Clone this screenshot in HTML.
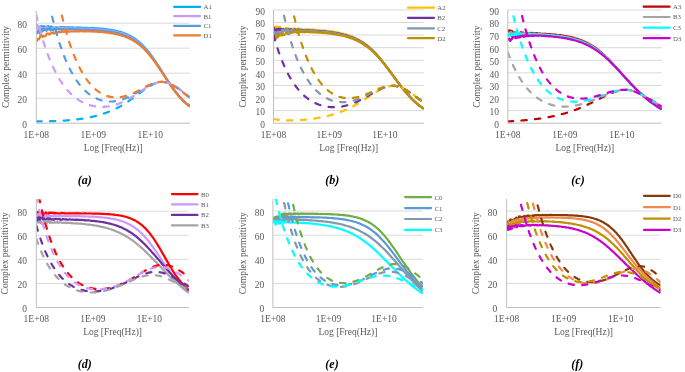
<!DOCTYPE html><html><head><meta charset="utf-8"><style>html,body{margin:0;padding:0;background:#fff;width:685px;height:372px;overflow:hidden}svg{display:block;will-change:transform;filter:blur(0.4px)}text{font-family:"Liberation Serif", serif}</style></head><body>
<svg width="685" height="372" viewBox="0 0 685 372">
<line x1="36.3" y1="98.20" x2="190.0" y2="98.20" stroke="#D9D9D9" stroke-width="1"/>
<line x1="36.3" y1="73.20" x2="190.0" y2="73.20" stroke="#D9D9D9" stroke-width="1"/>
<line x1="36.3" y1="48.20" x2="190.0" y2="48.20" stroke="#D9D9D9" stroke-width="1"/>
<line x1="36.3" y1="23.20" x2="190.0" y2="23.20" stroke="#D9D9D9" stroke-width="1"/>
<clipPath id="clipa"><rect x="36.30" y="10.70" width="153.70" height="112.50"/></clipPath>
<g clip-path="url(#clipa)">
<path d="M36.3 29.5L37.0 25.2L37.7 25.8L38.4 28.6L39.0 27.3L39.7 27.5L40.4 26.6L41.1 26.0L41.8 29.0L42.5 29.2L43.1 26.0L43.8 27.5L44.5 26.4L45.2 28.9L45.9 27.5L46.6 26.6L47.2 28.1L47.9 26.1L48.6 26.2L49.3 28.5L50.0 28.4L50.7 27.2L51.3 26.4L52.0 27.6L52.7 27.9L53.4 27.5L54.1 28.2L54.8 27.8L55.4 27.4L56.1 27.3L56.8 27.7L57.5 27.7L58.2 27.7L58.9 27.4L59.5 27.6L60.2 27.9L60.9 27.0L61.6 27.3L62.3 27.2L63.0 27.7L63.6 27.0L64.3 27.1L65.0 27.7L65.7 27.6L66.4 27.3L67.1 27.3L67.7 27.2L68.4 27.5L69.1 27.3L69.8 27.4L70.5 27.6L71.2 27.5L71.8 27.3L72.5 27.3L73.2 27.5L73.9 27.5L74.6 27.8L75.3 27.7L75.9 27.5L76.2 27.6L77.3 27.7L78.4 27.6L79.6 27.6L80.7 27.6L81.9 27.8L83.0 27.8L84.1 27.8L85.3 27.8L86.4 27.9L87.6 27.9L88.7 28.0L89.8 28.1L91.0 28.1L92.1 28.1L93.2 28.1L94.4 28.2L95.5 28.3L96.7 28.4L97.8 28.4L98.9 28.5L100.1 28.6L101.2 28.7L102.4 28.8L103.5 28.9L104.6 29.1L105.8 29.2L106.9 29.3L108.1 29.5L109.2 29.6L110.3 29.8L111.5 30.0L112.6 30.2L113.7 30.4L114.9 30.6L116.0 30.9L117.2 31.1L118.3 31.4L119.4 31.7L120.6 32.0L121.7 32.4L122.9 32.8L124.0 33.2L125.1 33.6L126.3 34.1L127.4 34.6L128.6 35.1L129.7 35.7L130.8 36.3L132.0 36.9L133.1 37.6L134.2 38.3L135.4 39.1L136.5 39.9L137.7 40.8L138.8 41.7L139.9 42.7L141.1 43.7L142.2 44.8L143.4 46.0L144.5 47.2L145.6 48.4L146.8 49.7L147.9 51.1L149.1 52.5L150.2 54.0L151.3 55.5L152.5 57.1L153.6 58.7L154.8 60.4L155.9 62.1L157.0 63.8L158.2 65.6L159.3 67.3L160.4 69.1L161.6 71.0L162.7 72.8L163.9 74.6L165.0 76.4L166.1 78.2L167.3 79.9L168.4 81.7L169.6 83.4L170.7 85.1L171.8 86.7L173.0 88.3L174.1 89.9L175.3 91.4L176.4 92.8L177.5 94.2L178.7 95.6L179.8 96.9L180.9 98.1L182.1 99.3L183.2 100.4L184.4 101.4L185.5 102.5L186.6 103.4L187.8 104.3L188.9 105.2L190.0 105.9" fill="none" stroke="#00B0F0" stroke-width="2.2" stroke-linejoin="round"/>
<path d="M36.3 25.3L37.0 25.5L37.7 30.7L38.4 30.4L39.0 26.4L39.7 27.0L40.4 27.4L41.1 29.0L41.8 27.7L42.5 27.8L43.1 27.9L43.8 29.5L44.5 28.4L45.2 28.6L45.9 27.5L46.6 26.7L47.2 26.9L47.9 28.1L48.6 28.4L49.3 28.8L50.0 29.3L50.7 29.3L51.3 28.3L52.0 28.6L52.7 28.5L53.4 27.5L54.1 28.2L54.8 28.2L55.4 28.7L56.1 29.0L56.8 28.5L57.5 28.8L58.2 28.3L58.9 27.6L59.5 28.1L60.2 28.7L60.9 27.9L61.6 28.0L62.3 28.1L63.0 27.9L63.6 28.1L64.3 28.1L65.0 28.5L65.7 28.0L66.4 28.0L67.1 28.6L67.7 28.2L68.4 28.3L69.1 28.4L69.8 28.4L70.5 28.4L71.2 28.2L71.8 28.4L72.5 28.3L73.2 28.5L73.9 28.3L74.6 28.3L75.3 28.5L75.9 28.5L76.2 28.4L77.3 28.5L78.4 28.6L79.6 28.7L80.7 28.7L81.9 28.6L83.0 28.8L84.1 28.6L85.3 28.8L86.4 28.7L87.6 28.9L88.7 28.8L89.8 28.9L91.0 29.0L92.1 29.1L93.2 29.1L94.4 29.2L95.5 29.3L96.7 29.4L97.8 29.4L98.9 29.5L100.1 29.6L101.2 29.7L102.4 29.8L103.5 29.9L104.6 30.0L105.8 30.2L106.9 30.3L108.1 30.5L109.2 30.6L110.3 30.8L111.5 31.0L112.6 31.1L113.7 31.4L114.9 31.6L116.0 31.8L117.2 32.1L118.3 32.4L119.4 32.7L120.6 33.0L121.7 33.3L122.9 33.7L124.0 34.1L125.1 34.5L126.3 35.0L127.4 35.5L128.6 36.0L129.7 36.6L130.8 37.2L132.0 37.8L133.1 38.5L134.2 39.2L135.4 39.9L136.5 40.8L137.7 41.6L138.8 42.5L139.9 43.5L141.1 44.5L142.2 45.6L143.4 46.7L144.5 47.9L145.6 49.1L146.8 50.4L147.9 51.7L149.1 53.1L150.2 54.6L151.3 56.0L152.5 57.6L153.6 59.2L154.8 60.8L155.9 62.5L157.0 64.2L158.2 65.9L159.3 67.6L160.4 69.4L161.6 71.2L162.7 73.0L163.9 74.8L165.0 76.6L166.1 78.3L167.3 80.1L168.4 81.8L169.6 83.5L170.7 85.2L171.8 86.8L173.0 88.4L174.1 90.0L175.3 91.5L176.4 92.9L177.5 94.3L178.7 95.7L179.8 97.0L180.9 98.2L182.1 99.4L183.2 100.5L184.4 101.6L185.5 102.6L186.6 103.6L187.8 104.5L188.9 105.4L190.0 106.2" fill="none" stroke="#CC99FF" stroke-width="2.2" stroke-linejoin="round"/>
<path d="M36.3 34.5L37.0 32.2L37.7 32.8L38.4 31.2L39.0 30.8L39.7 33.3L40.4 33.2L41.1 29.2L41.8 31.6L42.5 31.5L43.1 28.3L43.8 30.2L44.5 28.8L45.2 30.0L45.9 29.4L46.6 30.8L47.2 29.3L47.9 28.6L48.6 29.5L49.3 28.9L50.0 29.1L50.7 30.5L51.3 28.9L52.0 29.2L52.7 29.8L53.4 30.3L54.1 28.7L54.8 29.4L55.4 29.0L56.1 28.7L56.8 29.0L57.5 28.7L58.2 29.4L58.9 28.9L59.5 29.4L60.2 28.8L60.9 28.9L61.6 29.7L62.3 29.7L63.0 29.6L63.6 28.9L64.3 29.4L65.0 29.2L65.7 29.5L66.4 29.3L67.1 29.4L67.7 29.4L68.4 29.3L69.1 29.3L69.8 29.1L70.5 29.3L71.2 29.2L71.8 29.2L72.5 29.2L73.2 29.3L73.9 29.6L74.6 29.3L75.3 29.3L75.9 29.3L76.2 29.5L77.3 29.4L78.4 29.6L79.6 29.5L80.7 29.6L81.9 29.7L83.0 29.8L84.1 29.6L85.3 29.6L86.4 29.8L87.6 29.8L88.7 29.9L89.8 30.0L91.0 30.0L92.1 30.0L93.2 30.0L94.4 30.2L95.5 30.2L96.7 30.3L97.8 30.4L98.9 30.5L100.1 30.5L101.2 30.6L102.4 30.8L103.5 30.8L104.6 31.0L105.8 31.1L106.9 31.3L108.1 31.4L109.2 31.6L110.3 31.7L111.5 31.9L112.6 32.1L113.7 32.3L114.9 32.5L116.0 32.8L117.2 33.0L118.3 33.3L119.4 33.6L120.6 34.0L121.7 34.3L122.9 34.7L124.0 35.1L125.1 35.5L126.3 35.9L127.4 36.4L128.6 36.9L129.7 37.5L130.8 38.1L132.0 38.7L133.1 39.3L134.2 40.0L135.4 40.8L136.5 41.6L137.7 42.4L138.8 43.3L139.9 44.2L141.1 45.2L142.2 46.3L143.4 47.4L144.5 48.5L145.6 49.7L146.8 51.0L147.9 52.3L149.1 53.7L150.2 55.1L151.3 56.5L152.5 58.1L153.6 59.6L154.8 61.2L155.9 62.8L157.0 64.5L158.2 66.2L159.3 67.9L160.4 69.7L161.6 71.4L162.7 73.2L163.9 75.0L165.0 76.7L166.1 78.5L167.3 80.2L168.4 81.9L169.6 83.6L170.7 85.3L171.8 86.9L173.0 88.5L174.1 90.1L175.3 91.6L176.4 93.0L177.5 94.4L178.7 95.8L179.8 97.1L180.9 98.3L182.1 99.5L183.2 100.7L184.4 101.8L185.5 102.8L186.6 103.8L187.8 104.7L188.9 105.6L190.0 106.4" fill="none" stroke="#5B9BD5" stroke-width="2.2" stroke-linejoin="round"/>
<path d="M36.3 40.4L37.0 40.6L37.7 38.8L38.4 39.4L39.0 39.4L39.7 37.7L40.4 35.4L41.1 35.6L41.8 35.4L42.5 37.0L43.1 35.7L43.8 36.2L44.5 36.2L45.2 36.1L45.9 35.6L46.6 33.6L47.2 33.7L47.9 33.6L48.6 33.5L49.3 34.6L50.0 34.1L50.7 33.4L51.3 33.1L52.0 32.8L52.7 32.6L53.4 33.7L54.1 32.8L54.8 32.6L55.4 32.7L56.1 33.1L56.8 32.6L57.5 32.9L58.2 31.9L58.9 31.9L59.5 32.2L60.2 32.3L60.9 31.7L61.6 31.9L62.3 31.6L63.0 31.6L63.6 31.8L64.3 31.8L65.0 31.7L65.7 31.7L66.4 31.8L67.1 31.7L67.7 31.4L68.4 31.8L69.1 31.7L69.8 31.4L70.5 31.5L71.2 31.4L71.8 31.4L72.5 31.4L73.2 31.2L73.9 31.4L74.6 31.3L75.3 31.4L75.9 31.2L76.2 31.4L77.3 31.3L78.4 31.2L79.6 31.3L80.7 31.2L81.9 31.2L83.0 31.3L84.1 31.4L85.3 31.3L86.4 31.3L87.6 31.3L88.7 31.4L89.8 31.4L91.0 31.5L92.1 31.5L93.2 31.6L94.4 31.6L95.5 31.6L96.7 31.7L97.8 31.8L98.9 31.8L100.1 32.0L101.2 32.0L102.4 32.1L103.5 32.2L104.6 32.4L105.8 32.5L106.9 32.6L108.1 32.7L109.2 32.9L110.3 33.1L111.5 33.3L112.6 33.5L113.7 33.7L114.9 33.9L116.0 34.1L117.2 34.4L118.3 34.6L119.4 34.9L120.6 35.2L121.7 35.6L122.9 35.9L124.0 36.3L125.1 36.7L126.3 37.2L127.4 37.6L128.6 38.1L129.7 38.7L130.8 39.2L132.0 39.8L133.1 40.5L134.2 41.2L135.4 41.9L136.5 42.7L137.7 43.5L138.8 44.3L139.9 45.3L141.1 46.2L142.2 47.2L143.4 48.3L144.5 49.4L145.6 50.6L146.8 51.8L147.9 53.1L149.1 54.4L150.2 55.8L151.3 57.2L152.5 58.7L153.6 60.2L154.8 61.7L155.9 63.3L157.0 65.0L158.2 66.6L159.3 68.3L160.4 70.0L161.6 71.7L162.7 73.4L163.9 75.2L165.0 76.9L166.1 78.6L167.3 80.4L168.4 82.1L169.6 83.7L170.7 85.4L171.8 87.0L173.0 88.6L174.1 90.2L175.3 91.7L176.4 93.1L177.5 94.6L178.7 95.9L179.8 97.2L180.9 98.5L182.1 99.7L183.2 100.9L184.4 102.0L185.5 103.0L186.6 104.0L187.8 105.0L188.9 105.9L190.0 106.7" fill="none" stroke="#ED7D31" stroke-width="2.2" stroke-linejoin="round"/>
<path d="M36.3 121.4L36.9 121.4L37.4 121.4L38.0 121.4L38.6 121.4L39.1 121.4L39.7 121.4L40.3 121.4L40.9 121.4L41.4 121.4L42.0 121.4L42.6 121.4L43.1 121.4L43.7 121.4L44.3 121.4L44.8 121.4L45.4 121.4L46.0 121.3L46.6 121.3L47.1 121.3L47.7 121.3L48.3 121.3L48.8 121.3L49.4 121.3L50.0 121.3L50.5 121.2L51.1 121.2L51.7 121.2L52.2 121.2L52.8 121.2L53.4 121.2L54.0 121.1L54.5 121.1L55.1 121.1L55.7 121.1L56.2 121.0L56.8 121.0L57.4 121.0L57.9 121.0L58.5 120.9L59.1 120.9L59.6 120.9L60.2 120.8L60.8 120.8L61.4 120.8L61.9 120.7L62.5 120.7L63.1 120.7L63.6 120.6L64.2 120.6L64.8 120.6L65.3 120.5L65.9 120.5L66.5 120.4L67.1 120.4L67.6 120.3L68.2 120.3L68.8 120.2L69.3 120.2L69.9 120.1L70.5 120.1L71.0 120.0L71.6 120.0L72.2 119.9L72.7 119.9L73.3 119.8L73.9 119.7L74.5 119.7L75.0 119.6L75.6 119.5L76.2 119.5L76.7 119.4L77.3 119.3L77.9 119.3L78.4 119.2L79.0 119.1L79.6 119.0L80.1 119.0L80.7 118.9L81.3 118.8L81.9 118.7L82.4 118.6L83.0 118.5L83.6 118.4L84.1 118.3L84.7 118.3L85.3 118.2L85.8 118.1L86.4 118.0L87.0 117.9L87.6 117.7L88.1 117.6L88.7 117.5L89.3 117.4L89.8 117.3L90.4 117.2L91.0 117.1L91.5 116.9L92.1 116.8L92.7 116.7L93.2 116.6L93.8 116.4L94.4 116.3L95.0 116.2L95.5 116.0L96.1 115.9L96.7 115.7L97.2 115.6L97.8 115.4L98.4 115.3L98.9 115.1L99.5 114.9L100.1 114.8L100.7 114.6L101.2 114.4L101.8 114.3L102.4 114.1L102.9 113.9L103.5 113.7L104.1 113.5L104.6 113.3L105.2 113.1L105.8 112.9L106.3 112.7L106.9 112.5L107.5 112.3L108.1 112.1L108.6 111.8L109.2 111.6L109.8 111.4L110.3 111.2L110.9 110.9L111.5 110.7L112.0 110.4L112.6 110.2L113.2 109.9L113.7 109.7L114.3 109.4L114.9 109.1L115.5 108.8L116.0 108.6L116.6 108.3L117.2 108.0L117.7 107.7L118.3 107.4L118.9 107.1L119.4 106.8L120.0 106.5L120.6 106.2L121.2 105.8L121.7 105.5L122.3 105.2L122.9 104.8L123.4 104.5L124.0 104.2L124.6 103.8L125.1 103.4L125.7 103.1L126.3 102.7L126.8 102.3L127.4 102.0L128.0 101.6L128.6 101.2L129.1 100.8L129.7 100.4L130.3 100.0L130.8 99.6L131.4 99.2L132.0 98.8L132.5 98.4L133.1 98.0L133.7 97.6L134.2 97.2L134.8 96.8L135.4 96.3L136.0 95.9L136.5 95.5L137.1 95.1L137.7 94.6L138.2 94.2L138.8 93.8L139.4 93.4L139.9 92.9L140.5 92.5L141.1 92.1L141.7 91.7L142.2 91.2L142.8 90.8L143.4 90.4L143.9 90.0L144.5 89.6L145.1 89.2L145.6 88.8L146.2 88.4L146.8 88.0L147.3 87.7L147.9 87.3L148.5 86.9L149.1 86.6L149.6 86.2L150.2 85.9L150.8 85.6L151.3 85.3L151.9 84.9L152.5 84.7L153.0 84.4L153.6 84.1L154.2 83.9L154.8 83.6L155.3 83.4L155.9 83.2L156.5 83.0L157.0 82.8L157.6 82.7L158.2 82.5L158.7 82.4L159.3 82.3L159.9 82.2L160.4 82.1L161.0 82.0L161.6 82.0L162.2 82.0L162.7 82.0L163.3 82.0L163.9 82.0L164.4 82.0L165.0 82.1L165.6 82.2L166.1 82.3L166.7 82.4L167.3 82.6L167.8 82.7L168.4 82.9L169.0 83.1L169.6 83.3L170.1 83.6L170.7 83.8L171.3 84.1L171.8 84.4L172.4 84.6L173.0 85.0L173.5 85.3L174.1 85.6L174.7 86.0L175.3 86.3L175.8 86.7L176.4 87.0L177.0 87.4L177.5 87.8L178.1 88.2L178.7 88.6L179.2 89.1L179.8 89.5L180.4 89.9L180.9 90.3L181.5 90.8L182.1 91.2L182.7 91.7L183.2 92.1L183.8 92.6L184.4 93.0L184.9 93.5L185.5 93.9L186.1 94.4L186.6 94.8L187.2 95.3L187.8 95.7L188.4 96.2L188.9 96.6L189.5 97.0L190.0 97.4" fill="none" stroke="#00B0F0" stroke-width="2.2" stroke-dasharray="5.4 8.3" stroke-linecap="round" stroke-linejoin="round"/>
<path d="M36.3 14.9L36.9 17.3L37.4 19.7L38.0 22.0L38.6 24.3L39.1 26.5L39.7 28.6L40.3 30.8L40.9 32.8L41.4 34.8L42.0 36.8L42.6 38.7L43.1 40.6L43.7 42.4L44.3 44.2L44.8 46.0L45.4 47.7L46.0 49.4L46.6 51.0L47.1 52.6L47.7 54.1L48.3 55.7L48.8 57.1L49.4 58.6L50.0 60.0L50.5 61.4L51.1 62.7L51.7 64.0L52.2 65.3L52.8 66.6L53.4 67.8L54.0 69.0L54.5 70.2L55.1 71.3L55.7 72.4L56.2 73.5L56.8 74.6L57.4 75.6L57.9 76.6L58.5 77.6L59.1 78.5L59.6 79.5L60.2 80.4L60.8 81.3L61.4 82.1L61.9 83.0L62.5 83.8L63.1 84.6L63.6 85.4L64.2 86.2L64.8 86.9L65.3 87.6L65.9 88.3L66.5 89.0L67.1 89.7L67.6 90.4L68.2 91.0L68.8 91.6L69.3 92.2L69.9 92.8L70.5 93.4L71.0 93.9L71.6 94.5L72.2 95.0L72.7 95.5L73.3 96.0L73.9 96.5L74.5 97.0L75.0 97.4L75.6 97.8L76.2 98.3L76.7 98.7L77.3 99.1L77.9 99.5L78.4 99.9L79.0 100.2L79.6 100.6L80.1 100.9L80.7 101.3L81.3 101.6L81.9 101.9L82.4 102.2L83.0 102.5L83.6 102.8L84.1 103.0L84.7 103.3L85.3 103.5L85.8 103.8L86.4 104.0L87.0 104.2L87.6 104.4L88.1 104.6L88.7 104.8L89.3 105.0L89.8 105.2L90.4 105.3L91.0 105.5L91.5 105.6L92.1 105.8L92.7 105.9L93.2 106.0L93.8 106.1L94.4 106.2L95.0 106.3L95.5 106.4L96.1 106.5L96.7 106.6L97.2 106.6L97.8 106.7L98.4 106.7L98.9 106.8L99.5 106.8L100.1 106.8L100.7 106.8L101.2 106.8L101.8 106.9L102.4 106.8L102.9 106.8L103.5 106.8L104.1 106.8L104.6 106.8L105.2 106.7L105.8 106.7L106.3 106.6L106.9 106.5L107.5 106.5L108.1 106.4L108.6 106.3L109.2 106.2L109.8 106.1L110.3 106.0L110.9 105.9L111.5 105.8L112.0 105.6L112.6 105.5L113.2 105.4L113.7 105.2L114.3 105.1L114.9 104.9L115.5 104.7L116.0 104.6L116.6 104.4L117.2 104.2L117.7 104.0L118.3 103.8L118.9 103.6L119.4 103.4L120.0 103.1L120.6 102.9L121.2 102.7L121.7 102.4L122.3 102.2L122.9 101.9L123.4 101.6L124.0 101.4L124.6 101.1L125.1 100.8L125.7 100.5L126.3 100.2L126.8 99.9L127.4 99.6L128.0 99.3L128.6 99.0L129.1 98.7L129.7 98.3L130.3 98.0L130.8 97.7L131.4 97.3L132.0 97.0L132.5 96.6L133.1 96.3L133.7 95.9L134.2 95.6L134.8 95.2L135.4 94.8L136.0 94.5L136.5 94.1L137.1 93.7L137.7 93.3L138.2 92.9L138.8 92.6L139.4 92.2L139.9 91.8L140.5 91.4L141.1 91.0L141.7 90.7L142.2 90.3L142.8 89.9L143.4 89.5L143.9 89.2L144.5 88.8L145.1 88.4L145.6 88.1L146.2 87.7L146.8 87.4L147.3 87.0L147.9 86.7L148.5 86.3L149.1 86.0L149.6 85.7L150.2 85.4L150.8 85.1L151.3 84.8L151.9 84.6L152.5 84.3L153.0 84.0L153.6 83.8L154.2 83.6L154.8 83.4L155.3 83.2L155.9 83.0L156.5 82.8L157.0 82.6L157.6 82.5L158.2 82.4L158.7 82.3L159.3 82.2L159.9 82.1L160.4 82.0L161.0 82.0L161.6 82.0L162.2 81.9L162.7 81.9L163.3 82.0L163.9 82.0L164.4 82.1L165.0 82.2L165.6 82.3L166.1 82.4L166.7 82.5L167.3 82.7L167.8 82.8L168.4 83.0L169.0 83.2L169.6 83.5L170.1 83.7L170.7 84.0L171.3 84.2L171.8 84.5L172.4 84.8L173.0 85.1L173.5 85.5L174.1 85.8L174.7 86.1L175.3 86.5L175.8 86.9L176.4 87.2L177.0 87.6L177.5 88.0L178.1 88.4L178.7 88.8L179.2 89.3L179.8 89.7L180.4 90.1L180.9 90.5L181.5 91.0L182.1 91.4L182.7 91.9L183.2 92.3L183.8 92.8L184.4 93.2L184.9 93.7L185.5 94.1L186.1 94.6L186.6 95.0L187.2 95.5L187.8 95.9L188.4 96.3L188.9 96.8L189.5 97.2L190.0 97.6" fill="none" stroke="#CC99FF" stroke-width="2.2" stroke-dasharray="5.4 8.3" stroke-linecap="round" stroke-linejoin="round"/>
<path d="M46.6 -10.1L47.1 -7.1L47.7 -4.2L48.3 -1.4L48.8 1.4L49.4 4.1L50.0 6.8L50.5 9.4L51.1 11.9L51.7 14.4L52.2 16.8L52.8 19.2L53.4 21.5L54.0 23.7L54.5 25.9L55.1 28.1L55.7 30.2L56.2 32.2L56.8 34.2L57.4 36.2L57.9 38.1L58.5 39.9L59.1 41.7L59.6 43.5L60.2 45.2L60.8 46.9L61.4 48.6L61.9 50.2L62.5 51.8L63.1 53.3L63.6 54.8L64.2 56.3L64.8 57.7L65.3 59.1L65.9 60.4L66.5 61.8L67.1 63.1L67.6 64.3L68.2 65.6L68.8 66.8L69.3 67.9L69.9 69.1L70.5 70.2L71.0 71.3L71.6 72.3L72.2 73.4L72.7 74.4L73.3 75.3L73.9 76.3L74.5 77.2L75.0 78.1L75.6 79.0L76.2 79.9L76.7 80.7L77.3 81.5L77.9 82.3L78.4 83.1L79.0 83.8L79.6 84.6L80.1 85.3L80.7 86.0L81.3 86.6L81.9 87.3L82.4 87.9L83.0 88.5L83.6 89.1L84.1 89.7L84.7 90.3L85.3 90.8L85.8 91.4L86.4 91.9L87.0 92.4L87.6 92.8L88.1 93.3L88.7 93.8L89.3 94.2L89.8 94.6L90.4 95.0L91.0 95.4L91.5 95.8L92.1 96.2L92.7 96.5L93.2 96.8L93.8 97.2L94.4 97.5L95.0 97.8L95.5 98.1L96.1 98.3L96.7 98.6L97.2 98.9L97.8 99.1L98.4 99.3L98.9 99.5L99.5 99.7L100.1 99.9L100.7 100.1L101.2 100.3L101.8 100.4L102.4 100.6L102.9 100.7L103.5 100.8L104.1 100.9L104.6 101.0L105.2 101.1L105.8 101.2L106.3 101.3L106.9 101.4L107.5 101.4L108.1 101.5L108.6 101.5L109.2 101.5L109.8 101.5L110.3 101.5L110.9 101.5L111.5 101.5L112.0 101.5L112.6 101.5L113.2 101.4L113.7 101.4L114.3 101.3L114.9 101.2L115.5 101.2L116.0 101.1L116.6 101.0L117.2 100.9L117.7 100.8L118.3 100.6L118.9 100.5L119.4 100.4L120.0 100.2L120.6 100.1L121.2 99.9L121.7 99.7L122.3 99.6L122.9 99.4L123.4 99.2L124.0 99.0L124.6 98.8L125.1 98.5L125.7 98.3L126.3 98.1L126.8 97.8L127.4 97.6L128.0 97.3L128.6 97.1L129.1 96.8L129.7 96.5L130.3 96.3L130.8 96.0L131.4 95.7L132.0 95.4L132.5 95.1L133.1 94.8L133.7 94.5L134.2 94.1L134.8 93.8L135.4 93.5L136.0 93.2L136.5 92.8L137.1 92.5L137.7 92.2L138.2 91.8L138.8 91.5L139.4 91.2L139.9 90.8L140.5 90.5L141.1 90.1L141.7 89.8L142.2 89.4L142.8 89.1L143.4 88.7L143.9 88.4L144.5 88.1L145.1 87.7L145.6 87.4L146.2 87.1L146.8 86.8L147.3 86.5L147.9 86.1L148.5 85.8L149.1 85.5L149.6 85.3L150.2 85.0L150.8 84.7L151.3 84.5L151.9 84.2L152.5 84.0L153.0 83.7L153.6 83.5L154.2 83.3L154.8 83.1L155.3 82.9L155.9 82.8L156.5 82.6L157.0 82.5L157.6 82.4L158.2 82.3L158.7 82.2L159.3 82.1L159.9 82.0L160.4 82.0L161.0 81.9L161.6 81.9L162.2 81.9L162.7 81.9L163.3 82.0L163.9 82.0L164.4 82.1L165.0 82.2L165.6 82.3L166.1 82.4L166.7 82.6L167.3 82.8L167.8 82.9L168.4 83.1L169.0 83.4L169.6 83.6L170.1 83.8L170.7 84.1L171.3 84.4L171.8 84.7L172.4 85.0L173.0 85.3L173.5 85.6L174.1 85.9L174.7 86.3L175.3 86.7L175.8 87.0L176.4 87.4L177.0 87.8L177.5 88.2L178.1 88.6L178.7 89.0L179.2 89.4L179.8 89.9L180.4 90.3L180.9 90.7L181.5 91.2L182.1 91.6L182.7 92.0L183.2 92.5L183.8 92.9L184.4 93.4L184.9 93.8L185.5 94.3L186.1 94.7L186.6 95.2L187.2 95.6L187.8 96.1L188.4 96.5L188.9 97.0L189.5 97.4L190.0 97.8" fill="none" stroke="#5B9BD5" stroke-width="2.2" stroke-dasharray="5.4 8.3" stroke-linecap="round" stroke-linejoin="round"/>
<path d="M56.2 -11.3L56.8 -8.3L57.4 -5.4L57.9 -2.6L58.5 0.2L59.1 2.9L59.6 5.6L60.2 8.2L60.8 10.7L61.4 13.2L61.9 15.6L62.5 18.0L63.1 20.3L63.6 22.5L64.2 24.7L64.8 26.9L65.3 29.0L65.9 31.0L66.5 33.0L67.1 35.0L67.6 36.9L68.2 38.7L68.8 40.5L69.3 42.3L69.9 44.0L70.5 45.7L71.0 47.4L71.6 49.0L72.2 50.5L72.7 52.1L73.3 53.6L73.9 55.0L74.5 56.4L75.0 57.8L75.6 59.2L76.2 60.5L76.7 61.7L77.3 63.0L77.9 64.2L78.4 65.4L79.0 66.6L79.6 67.7L80.1 68.8L80.7 69.8L81.3 70.9L81.9 71.9L82.4 72.9L83.0 73.8L83.6 74.8L84.1 75.7L84.7 76.6L85.3 77.4L85.8 78.3L86.4 79.1L87.0 79.9L87.6 80.6L88.1 81.4L88.7 82.1L89.3 82.8L89.8 83.5L90.4 84.2L91.0 84.8L91.5 85.4L92.1 86.0L92.7 86.6L93.2 87.2L93.8 87.7L94.4 88.3L95.0 88.8L95.5 89.3L96.1 89.8L96.7 90.2L97.2 90.7L97.8 91.1L98.4 91.5L98.9 91.9L99.5 92.3L100.1 92.6L100.7 93.0L101.2 93.3L101.8 93.6L102.4 94.0L102.9 94.2L103.5 94.5L104.1 94.8L104.6 95.0L105.2 95.3L105.8 95.5L106.3 95.7L106.9 95.9L107.5 96.1L108.1 96.3L108.6 96.4L109.2 96.6L109.8 96.7L110.3 96.8L110.9 96.9L111.5 97.0L112.0 97.1L112.6 97.2L113.2 97.2L113.7 97.3L114.3 97.3L114.9 97.4L115.5 97.4L116.0 97.4L116.6 97.4L117.2 97.4L117.7 97.4L118.3 97.3L118.9 97.3L119.4 97.2L120.0 97.2L120.6 97.1L121.2 97.0L121.7 96.9L122.3 96.8L122.9 96.7L123.4 96.6L124.0 96.4L124.6 96.3L125.1 96.1L125.7 96.0L126.3 95.8L126.8 95.6L127.4 95.4L128.0 95.3L128.6 95.1L129.1 94.8L129.7 94.6L130.3 94.4L130.8 94.2L131.4 93.9L132.0 93.7L132.5 93.4L133.1 93.2L133.7 92.9L134.2 92.7L134.8 92.4L135.4 92.1L136.0 91.8L136.5 91.5L137.1 91.3L137.7 91.0L138.2 90.7L138.8 90.4L139.4 90.1L139.9 89.8L140.5 89.5L141.1 89.2L141.7 88.8L142.2 88.5L142.8 88.2L143.4 87.9L143.9 87.6L144.5 87.3L145.1 87.0L145.6 86.7L146.2 86.4L146.8 86.1L147.3 85.9L147.9 85.6L148.5 85.3L149.1 85.1L149.6 84.8L150.2 84.5L150.8 84.3L151.3 84.1L151.9 83.8L152.5 83.6L153.0 83.4L153.6 83.2L154.2 83.0L154.8 82.9L155.3 82.7L155.9 82.6L156.5 82.4L157.0 82.3L157.6 82.2L158.2 82.1L158.7 82.0L159.3 82.0L159.9 81.9L160.4 81.9L161.0 81.9L161.6 81.9L162.2 81.9L162.7 81.9L163.3 82.0L163.9 82.1L164.4 82.2L165.0 82.3L165.6 82.4L166.1 82.5L166.7 82.7L167.3 82.8L167.8 83.0L168.4 83.2L169.0 83.5L169.6 83.7L170.1 84.0L170.7 84.2L171.3 84.5L171.8 84.8L172.4 85.1L173.0 85.4L173.5 85.8L174.1 86.1L174.7 86.5L175.3 86.8L175.8 87.2L176.4 87.6L177.0 88.0L177.5 88.4L178.1 88.8L178.7 89.2L179.2 89.6L179.8 90.0L180.4 90.5L180.9 90.9L181.5 91.3L182.1 91.8L182.7 92.2L183.2 92.7L183.8 93.1L184.4 93.6L184.9 94.0L185.5 94.5L186.1 94.9L186.6 95.4L187.2 95.8L187.8 96.2L188.4 96.7L188.9 97.1L189.5 97.6L190.0 98.0" fill="none" stroke="#ED7D31" stroke-width="2.2" stroke-dasharray="5.4 8.3" stroke-linecap="round" stroke-linejoin="round"/>
</g>
<line x1="36.30" y1="10.70" x2="36.30" y2="123.20" stroke="#BFBFBF" stroke-width="1"/>
<line x1="36.30" y1="123.20" x2="190.00" y2="123.20" stroke="#BFBFBF" stroke-width="1"/>
<text x="27.00" y="128.00" font-size="9.5" fill="#595959" text-anchor="end">0</text>
<text x="27.00" y="103.00" font-size="9.5" fill="#595959" text-anchor="end">20</text>
<text x="27.00" y="78.00" font-size="9.5" fill="#595959" text-anchor="end">40</text>
<text x="27.00" y="53.00" font-size="9.5" fill="#595959" text-anchor="end">60</text>
<text x="27.00" y="28.00" font-size="9.5" fill="#595959" text-anchor="end">80</text>
<text x="36.30" y="137.70" font-size="9.5" fill="#595959" text-anchor="middle">1E+08</text>
<text x="93.25" y="137.70" font-size="9.5" fill="#595959" text-anchor="middle">1E+09</text>
<text x="150.20" y="137.70" font-size="9.5" fill="#595959" text-anchor="middle">1E+10</text>
<text x="113.15" y="151.00" font-size="9.5" fill="#595959" text-anchor="middle">Log [Freq(Hz)]</text>
<text transform="translate(5.50 66.95) rotate(-90)" x="0" y="3.3" font-size="9.5" fill="#595959" text-anchor="middle">Complex permittivity</text>
<line x1="174.10" y1="6.80" x2="200.10" y2="6.80" stroke="#00B0F0" stroke-width="2.2" stroke-linecap="round"/>
<text x="203.50" y="9.20" font-size="6.8" fill="#595959">A1</text>
<line x1="174.10" y1="16.10" x2="200.10" y2="16.10" stroke="#CC99FF" stroke-width="2.2" stroke-linecap="round"/>
<text x="203.50" y="18.50" font-size="6.8" fill="#595959">B1</text>
<line x1="174.10" y1="25.80" x2="200.10" y2="25.80" stroke="#5B9BD5" stroke-width="2.2" stroke-linecap="round"/>
<text x="203.50" y="28.20" font-size="6.8" fill="#595959">C1</text>
<line x1="174.10" y1="35.30" x2="200.10" y2="35.30" stroke="#ED7D31" stroke-width="2.2" stroke-linecap="round"/>
<text x="203.50" y="37.70" font-size="6.8" fill="#595959">D1</text>
<text x="84.80" y="183.60" font-size="12" font-weight="bold" font-style="italic" fill="#000" text-anchor="middle">(a)</text>
<line x1="273.5" y1="110.61" x2="423.8" y2="110.61" stroke="#D9D9D9" stroke-width="1"/>
<line x1="273.5" y1="98.02" x2="423.8" y2="98.02" stroke="#D9D9D9" stroke-width="1"/>
<line x1="273.5" y1="85.43" x2="423.8" y2="85.43" stroke="#D9D9D9" stroke-width="1"/>
<line x1="273.5" y1="72.84" x2="423.8" y2="72.84" stroke="#D9D9D9" stroke-width="1"/>
<line x1="273.5" y1="60.26" x2="423.8" y2="60.26" stroke="#D9D9D9" stroke-width="1"/>
<line x1="273.5" y1="47.67" x2="423.8" y2="47.67" stroke="#D9D9D9" stroke-width="1"/>
<line x1="273.5" y1="35.08" x2="423.8" y2="35.08" stroke="#D9D9D9" stroke-width="1"/>
<line x1="273.5" y1="22.49" x2="423.8" y2="22.49" stroke="#D9D9D9" stroke-width="1"/>
<line x1="273.5" y1="9.90" x2="423.8" y2="9.90" stroke="#D9D9D9" stroke-width="1"/>
<clipPath id="clipb"><rect x="273.50" y="9.90" width="150.30" height="113.30"/></clipPath>
<g clip-path="url(#clipb)">
<path d="M273.5 27.9L274.2 27.2L274.8 27.0L275.5 26.3L276.2 27.5L276.8 26.6L277.5 31.0L278.2 28.9L278.8 26.8L279.5 28.1L280.2 27.2L280.9 30.2L281.5 28.9L282.2 29.6L282.9 28.7L283.5 28.6L284.2 30.2L284.9 29.6L285.5 29.4L286.2 27.8L286.9 28.2L287.5 29.7L288.2 28.2L288.9 29.7L289.5 28.7L290.2 29.6L290.9 29.8L291.5 28.3L292.2 29.4L292.9 29.4L293.5 28.3L294.2 28.5L294.9 29.3L295.6 28.5L296.2 29.0L296.9 28.9L297.6 29.4L298.2 28.7L298.9 28.9L299.6 28.7L300.2 28.8L300.9 29.4L301.6 29.3L302.2 29.5L302.9 29.5L303.6 29.6L304.2 29.5L304.9 29.3L305.6 29.7L306.2 29.3L306.9 29.5L307.6 29.6L308.2 29.3L308.9 29.5L309.6 29.6L310.3 29.6L310.9 29.5L311.6 29.8L312.3 29.5L312.5 29.9L313.6 29.7L314.7 29.7L315.8 30.0L316.9 29.9L318.1 30.1L319.2 30.1L320.3 30.3L321.4 30.4L322.5 30.5L323.6 30.4L324.7 30.7L325.8 30.7L327.0 30.8L328.1 30.9L329.2 31.1L330.3 31.3L331.4 31.4L332.5 31.6L333.6 31.8L334.8 31.9L335.9 32.1L337.0 32.3L338.1 32.6L339.2 32.7L340.3 33.0L341.4 33.3L342.6 33.5L343.7 33.8L344.8 34.1L345.9 34.4L347.0 34.7L348.1 35.1L349.2 35.5L350.3 35.9L351.5 36.3L352.6 36.7L353.7 37.2L354.8 37.7L355.9 38.2L357.0 38.8L358.1 39.4L359.3 40.0L360.4 40.6L361.5 41.3L362.6 42.0L363.7 42.8L364.8 43.5L365.9 44.4L367.1 45.2L368.2 46.1L369.3 47.1L370.4 48.1L371.5 49.1L372.6 50.1L373.7 51.2L374.9 52.4L376.0 53.6L377.1 54.8L378.2 56.1L379.3 57.4L380.4 58.7L381.5 60.1L382.6 61.5L383.8 62.9L384.9 64.4L386.0 65.8L387.1 67.3L388.2 68.9L389.3 70.4L390.4 71.9L391.6 73.5L392.7 75.1L393.8 76.6L394.9 78.2L396.0 79.7L397.1 81.2L398.2 82.7L399.4 84.2L400.5 85.7L401.6 87.2L402.7 88.6L403.8 90.0L404.9 91.3L406.0 92.7L407.2 94.0L408.3 95.2L409.4 96.4L410.5 97.6L411.6 98.7L412.7 99.8L413.8 100.9L414.9 101.9L416.1 102.9L417.2 103.8L418.3 104.7L419.4 105.5L420.5 106.4L421.6 107.1L422.7 107.9L423.8 108.5" fill="none" stroke="#FFC000" stroke-width="2.2" stroke-linejoin="round"/>
<path d="M273.5 28.1L274.2 28.1L274.8 29.7L275.5 30.7L276.2 31.7L276.8 29.0L277.5 29.7L278.2 28.7L278.8 30.1L279.5 28.8L280.2 30.4L280.9 28.8L281.5 29.0L282.2 29.9L282.9 29.6L283.5 29.3L284.2 30.4L284.9 29.6L285.5 29.1L286.2 30.2L286.9 29.2L287.5 29.4L288.2 29.2L288.9 30.1L289.5 30.5L290.2 29.4L290.9 29.4L291.5 29.9L292.2 30.4L292.9 30.3L293.5 29.8L294.2 30.2L294.9 29.5L295.6 29.9L296.2 30.3L296.9 29.9L297.6 30.1L298.2 29.7L298.9 29.7L299.6 30.1L300.2 30.0L300.9 30.0L301.6 29.9L302.2 29.9L302.9 30.5L303.6 30.3L304.2 30.2L304.9 30.4L305.6 30.2L306.2 30.5L306.9 30.2L307.6 30.4L308.2 30.6L308.9 30.4L309.6 30.5L310.3 30.6L310.9 30.5L311.6 30.7L312.3 30.7L312.5 30.5L313.6 30.6L314.7 30.9L315.8 30.7L316.9 31.0L318.1 31.0L319.2 31.0L320.3 31.1L321.4 31.3L322.5 31.3L323.6 31.4L324.7 31.6L325.8 31.6L327.0 31.8L328.1 31.9L329.2 32.0L330.3 32.2L331.4 32.3L332.5 32.5L333.6 32.6L334.8 32.8L335.9 33.0L337.0 33.2L338.1 33.4L339.2 33.6L340.3 33.9L341.4 34.1L342.6 34.4L343.7 34.7L344.8 35.0L345.9 35.3L347.0 35.6L348.1 36.0L349.2 36.3L350.3 36.7L351.5 37.1L352.6 37.6L353.7 38.0L354.8 38.5L355.9 39.0L357.0 39.6L358.1 40.1L359.3 40.7L360.4 41.4L361.5 42.0L362.6 42.7L363.7 43.4L364.8 44.2L365.9 45.0L367.1 45.9L368.2 46.7L369.3 47.7L370.4 48.6L371.5 49.6L372.6 50.6L373.7 51.7L374.9 52.8L376.0 54.0L377.1 55.2L378.2 56.4L379.3 57.7L380.4 59.0L381.5 60.4L382.6 61.7L383.8 63.1L384.9 64.6L386.0 66.0L387.1 67.5L388.2 69.0L389.3 70.5L390.4 72.0L391.6 73.5L392.7 75.1L393.8 76.6L394.9 78.1L396.0 79.7L397.1 81.2L398.2 82.7L399.4 84.2L400.5 85.6L401.6 87.1L402.7 88.5L403.8 89.9L404.9 91.2L406.0 92.6L407.2 93.9L408.3 95.1L409.4 96.3L410.5 97.5L411.6 98.7L412.7 99.8L413.8 100.8L414.9 101.9L416.1 102.8L417.2 103.8L418.3 104.7L419.4 105.5L420.5 106.4L421.6 107.2L422.7 107.9L423.8 108.6" fill="none" stroke="#7030A0" stroke-width="2.2" stroke-linejoin="round"/>
<path d="M273.5 34.9L274.2 35.4L274.8 32.1L275.5 35.0L276.2 32.2L276.8 32.8L277.5 33.9L278.2 31.6L278.8 33.5L279.5 31.6L280.2 32.9L280.9 32.6L281.5 31.2L282.2 29.8L282.9 32.0L283.5 31.6L284.2 30.3L284.9 29.4L285.5 30.4L286.2 30.8L286.9 29.4L287.5 31.5L288.2 29.7L288.9 30.9L289.5 31.1L290.2 31.1L290.9 30.8L291.5 29.9L292.2 30.9L292.9 30.3L293.5 30.2L294.2 30.6L294.9 30.4L295.6 31.0L296.2 31.0L296.9 30.8L297.6 30.3L298.2 30.5L298.9 30.7L299.6 30.4L300.2 30.6L300.9 30.7L301.6 30.3L302.2 30.4L302.9 30.8L303.6 30.6L304.2 30.6L304.9 30.4L305.6 30.5L306.2 30.8L306.9 30.5L307.6 31.0L308.2 30.8L308.9 30.7L309.6 31.0L310.3 30.9L310.9 31.1L311.6 30.9L312.3 30.9L312.5 31.0L313.6 30.9L314.7 31.2L315.8 31.1L316.9 31.3L318.1 31.3L319.2 31.5L320.3 31.5L321.4 31.5L322.5 31.7L323.6 31.8L324.7 32.0L325.8 32.0L327.0 32.1L328.1 32.2L329.2 32.4L330.3 32.6L331.4 32.7L332.5 32.9L333.6 33.1L334.8 33.2L335.9 33.4L337.0 33.6L338.1 33.8L339.2 34.0L340.3 34.3L341.4 34.5L342.6 34.8L343.7 35.0L344.8 35.4L345.9 35.6L347.0 36.0L348.1 36.3L349.2 36.7L350.3 37.1L351.5 37.5L352.6 37.9L353.7 38.4L354.8 38.8L355.9 39.3L357.0 39.9L358.1 40.5L359.3 41.0L360.4 41.7L361.5 42.3L362.6 43.0L363.7 43.7L364.8 44.5L365.9 45.3L367.1 46.1L368.2 47.0L369.3 47.9L370.4 48.9L371.5 49.8L372.6 50.9L373.7 51.9L374.9 53.0L376.0 54.2L377.1 55.4L378.2 56.6L379.3 57.8L380.4 59.1L381.5 60.5L382.6 61.8L383.8 63.2L384.9 64.6L386.0 66.1L387.1 67.5L388.2 69.0L389.3 70.5L390.4 72.0L391.6 73.6L392.7 75.1L393.8 76.6L394.9 78.1L396.0 79.6L397.1 81.2L398.2 82.7L399.4 84.1L400.5 85.6L401.6 87.0L402.7 88.5L403.8 89.8L404.9 91.2L406.0 92.5L407.2 93.8L408.3 95.1L409.4 96.3L410.5 97.5L411.6 98.6L412.7 99.7L413.8 100.8L414.9 101.8L416.1 102.8L417.2 103.8L418.3 104.7L419.4 105.6L420.5 106.4L421.6 107.2L422.7 107.9L423.8 108.6" fill="none" stroke="#8497B0" stroke-width="2.2" stroke-linejoin="round"/>
<path d="M273.5 39.9L274.2 35.9L274.8 39.4L275.5 36.3L276.2 38.6L276.8 37.5L277.5 34.2L278.2 36.9L278.8 35.0L279.5 35.4L280.2 35.1L280.9 34.8L281.5 35.4L282.2 33.4L282.9 35.2L283.5 34.6L284.2 34.9L284.9 34.1L285.5 33.7L286.2 32.5L286.9 33.4L287.5 33.8L288.2 33.4L288.9 32.1L289.5 33.5L290.2 32.5L290.9 32.8L291.5 32.3L292.2 32.7L292.9 32.2L293.5 32.4L294.2 32.1L294.9 31.8L295.6 32.1L296.2 32.5L296.9 32.6L297.6 31.7L298.2 32.1L298.9 32.3L299.6 31.7L300.2 32.0L300.9 31.9L301.6 31.8L302.2 32.2L302.9 32.1L303.6 31.8L304.2 32.2L304.9 31.9L305.6 32.2L306.2 31.9L306.9 32.0L307.6 31.9L308.2 31.9L308.9 32.1L309.6 32.2L310.3 32.3L310.9 32.1L311.6 32.2L312.3 32.3L312.5 32.1L313.6 32.3L314.7 32.3L315.8 32.4L316.9 32.5L318.1 32.6L319.2 32.6L320.3 32.7L321.4 32.7L322.5 32.8L323.6 32.9L324.7 33.0L325.8 33.2L327.0 33.2L328.1 33.4L329.2 33.5L330.3 33.6L331.4 33.8L332.5 33.9L333.6 34.1L334.8 34.3L335.9 34.4L337.0 34.6L338.1 34.8L339.2 35.1L340.3 35.3L341.4 35.5L342.6 35.8L343.7 36.0L344.8 36.3L345.9 36.6L347.0 37.0L348.1 37.3L349.2 37.7L350.3 38.0L351.5 38.4L352.6 38.8L353.7 39.3L354.8 39.8L355.9 40.2L357.0 40.8L358.1 41.3L359.3 41.9L360.4 42.5L361.5 43.1L362.6 43.8L363.7 44.5L364.8 45.3L365.9 46.0L367.1 46.8L368.2 47.7L369.3 48.6L370.4 49.5L371.5 50.4L372.6 51.4L373.7 52.5L374.9 53.6L376.0 54.7L377.1 55.8L378.2 57.0L379.3 58.2L380.4 59.5L381.5 60.8L382.6 62.1L383.8 63.5L384.9 64.9L386.0 66.3L387.1 67.7L388.2 69.2L389.3 70.6L390.4 72.1L391.6 73.6L392.7 75.1L393.8 76.6L394.9 78.1L396.0 79.6L397.1 81.1L398.2 82.6L399.4 84.1L400.5 85.5L401.6 86.9L402.7 88.3L403.8 89.7L404.9 91.1L406.0 92.4L407.2 93.7L408.3 95.0L409.4 96.2L410.5 97.4L411.6 98.6L412.7 99.7L413.8 100.7L414.9 101.8L416.1 102.8L417.2 103.8L418.3 104.7L419.4 105.6L420.5 106.4L421.6 107.2L422.7 108.0L423.8 108.7" fill="none" stroke="#BF9000" stroke-width="2.2" stroke-linejoin="round"/>
<path d="M273.5 119.0L274.1 119.1L274.6 119.2L275.2 119.3L275.7 119.4L276.3 119.5L276.8 119.6L277.4 119.7L278.0 119.7L278.5 119.8L279.1 119.9L279.6 120.0L280.2 120.0L280.7 120.1L281.3 120.1L281.9 120.2L282.4 120.2L283.0 120.2L283.5 120.3L284.1 120.3L284.6 120.3L285.2 120.4L285.8 120.4L286.3 120.4L286.9 120.4L287.4 120.4L288.0 120.4L288.5 120.4L289.1 120.4L289.6 120.4L290.2 120.4L290.8 120.4L291.3 120.4L291.9 120.4L292.4 120.4L293.0 120.4L293.5 120.4L294.1 120.4L294.7 120.4L295.2 120.3L295.8 120.3L296.3 120.3L296.9 120.3L297.4 120.2L298.0 120.2L298.6 120.2L299.1 120.1L299.7 120.1L300.2 120.1L300.8 120.0L301.3 120.0L301.9 119.9L302.5 119.9L303.0 119.9L303.6 119.8L304.1 119.8L304.7 119.7L305.2 119.6L305.8 119.6L306.4 119.5L306.9 119.5L307.5 119.4L308.0 119.4L308.6 119.3L309.1 119.2L309.7 119.2L310.3 119.1L310.8 119.0L311.4 118.9L311.9 118.9L312.5 118.8L313.0 118.7L313.6 118.6L314.2 118.6L314.7 118.5L315.3 118.4L315.8 118.3L316.4 118.2L316.9 118.1L317.5 118.0L318.1 117.9L318.6 117.8L319.2 117.7L319.7 117.6L320.3 117.5L320.8 117.4L321.4 117.3L321.9 117.2L322.5 117.1L323.1 117.0L323.6 116.8L324.2 116.7L324.7 116.6L325.3 116.5L325.8 116.3L326.4 116.2L327.0 116.1L327.5 115.9L328.1 115.8L328.6 115.7L329.2 115.5L329.7 115.4L330.3 115.2L330.9 115.1L331.4 114.9L332.0 114.8L332.5 114.6L333.1 114.4L333.6 114.3L334.2 114.1L334.8 113.9L335.3 113.8L335.9 113.6L336.4 113.4L337.0 113.2L337.5 113.0L338.1 112.8L338.7 112.6L339.2 112.4L339.8 112.2L340.3 112.0L340.9 111.8L341.4 111.6L342.0 111.4L342.6 111.2L343.1 110.9L343.7 110.7L344.2 110.5L344.8 110.2L345.3 110.0L345.9 109.8L346.5 109.5L347.0 109.3L347.6 109.0L348.1 108.8L348.7 108.5L349.2 108.2L349.8 108.0L350.3 107.7L350.9 107.4L351.5 107.1L352.0 106.8L352.6 106.5L353.1 106.3L353.7 106.0L354.2 105.7L354.8 105.3L355.4 105.0L355.9 104.7L356.5 104.4L357.0 104.1L357.6 103.8L358.1 103.4L358.7 103.1L359.3 102.8L359.8 102.4L360.4 102.1L360.9 101.8L361.5 101.4L362.0 101.1L362.6 100.7L363.2 100.4L363.7 100.0L364.3 99.7L364.8 99.3L365.4 98.9L365.9 98.6L366.5 98.2L367.1 97.8L367.6 97.5L368.2 97.1L368.7 96.7L369.3 96.4L369.8 96.0L370.4 95.7L371.0 95.3L371.5 94.9L372.1 94.6L372.6 94.2L373.2 93.8L373.7 93.5L374.3 93.1L374.9 92.8L375.4 92.5L376.0 92.1L376.5 91.8L377.1 91.4L377.6 91.1L378.2 90.8L378.8 90.5L379.3 90.2L379.9 89.9L380.4 89.6L381.0 89.3L381.5 89.0L382.1 88.8L382.6 88.5L383.2 88.3L383.8 88.0L384.3 87.8L384.9 87.6L385.4 87.4L386.0 87.2L386.5 87.0L387.1 86.8L387.7 86.7L388.2 86.5L388.8 86.4L389.3 86.3L389.9 86.2L390.4 86.1L391.0 86.0L391.6 85.9L392.1 85.9L392.7 85.8L393.2 85.8L393.8 85.8L394.3 85.8L394.9 85.8L395.5 85.9L396.0 86.0L396.6 86.0L397.1 86.1L397.7 86.2L398.2 86.4L398.8 86.5L399.4 86.7L399.9 86.9L400.5 87.1L401.0 87.3L401.6 87.5L402.1 87.7L402.7 88.0L403.3 88.3L403.8 88.5L404.4 88.8L404.9 89.1L405.5 89.4L406.0 89.8L406.6 90.1L407.2 90.4L407.7 90.8L408.3 91.1L408.8 91.5L409.4 91.9L409.9 92.3L410.5 92.6L411.0 93.0L411.6 93.4L412.2 93.8L412.7 94.2L413.3 94.6L413.8 95.0L414.4 95.4L414.9 95.8L415.5 96.2L416.1 96.6L416.6 97.1L417.2 97.5L417.7 97.9L418.3 98.3L418.8 98.7L419.4 99.1L420.0 99.5L420.5 99.9L421.1 100.3L421.6 100.7L422.2 101.1L422.7 101.5L423.3 101.8L423.8 102.2" fill="none" stroke="#FFC000" stroke-width="2.2" stroke-dasharray="5.4 8.3" stroke-linecap="round" stroke-linejoin="round"/>
<path d="M273.5 35.3L274.1 37.2L274.6 39.1L275.2 41.0L275.7 42.8L276.3 44.6L276.8 46.3L277.4 48.0L278.0 49.7L278.5 51.3L279.1 52.9L279.6 54.4L280.2 56.0L280.7 57.4L281.3 58.9L281.9 60.3L282.4 61.6L283.0 63.0L283.5 64.3L284.1 65.6L284.6 66.8L285.2 68.0L285.8 69.2L286.3 70.4L286.9 71.5L287.4 72.6L288.0 73.7L288.5 74.7L289.1 75.8L289.6 76.8L290.2 77.7L290.8 78.7L291.3 79.6L291.9 80.5L292.4 81.4L293.0 82.3L293.5 83.1L294.1 83.9L294.7 84.7L295.2 85.5L295.8 86.3L296.3 87.0L296.9 87.7L297.4 88.4L298.0 89.1L298.6 89.8L299.1 90.4L299.7 91.1L300.2 91.7L300.8 92.3L301.3 92.9L301.9 93.4L302.5 94.0L303.0 94.5L303.6 95.1L304.1 95.6L304.7 96.1L305.2 96.6L305.8 97.0L306.4 97.5L306.9 97.9L307.5 98.3L308.0 98.8L308.6 99.2L309.1 99.6L309.7 99.9L310.3 100.3L310.8 100.7L311.4 101.0L311.9 101.3L312.5 101.7L313.0 102.0L313.6 102.3L314.2 102.6L314.7 102.8L315.3 103.1L315.8 103.4L316.4 103.6L316.9 103.9L317.5 104.1L318.1 104.3L318.6 104.5L319.2 104.7L319.7 104.9L320.3 105.1L320.8 105.3L321.4 105.5L321.9 105.6L322.5 105.8L323.1 105.9L323.6 106.1L324.2 106.2L324.7 106.3L325.3 106.4L325.8 106.5L326.4 106.6L327.0 106.7L327.5 106.8L328.1 106.9L328.6 106.9L329.2 107.0L329.7 107.0L330.3 107.1L330.9 107.1L331.4 107.2L332.0 107.2L332.5 107.2L333.1 107.2L333.6 107.2L334.2 107.2L334.8 107.2L335.3 107.2L335.9 107.2L336.4 107.1L337.0 107.1L337.5 107.1L338.1 107.0L338.7 106.9L339.2 106.9L339.8 106.8L340.3 106.7L340.9 106.7L341.4 106.6L342.0 106.5L342.6 106.4L343.1 106.3L343.7 106.1L344.2 106.0L344.8 105.9L345.3 105.8L345.9 105.6L346.5 105.5L347.0 105.3L347.6 105.2L348.1 105.0L348.7 104.9L349.2 104.7L349.8 104.5L350.3 104.3L350.9 104.1L351.5 103.9L352.0 103.7L352.6 103.5L353.1 103.3L353.7 103.1L354.2 102.9L354.8 102.6L355.4 102.4L355.9 102.2L356.5 101.9L357.0 101.7L357.6 101.4L358.1 101.1L358.7 100.9L359.3 100.6L359.8 100.3L360.4 100.1L360.9 99.8L361.5 99.5L362.0 99.2L362.6 98.9L363.2 98.6L363.7 98.3L364.3 98.0L364.8 97.7L365.4 97.4L365.9 97.1L366.5 96.8L367.1 96.4L367.6 96.1L368.2 95.8L368.7 95.5L369.3 95.2L369.8 94.8L370.4 94.5L371.0 94.2L371.5 93.9L372.1 93.6L372.6 93.2L373.2 92.9L373.7 92.6L374.3 92.3L374.9 92.0L375.4 91.7L376.0 91.4L376.5 91.1L377.1 90.8L377.6 90.5L378.2 90.2L378.8 89.9L379.3 89.6L379.9 89.3L380.4 89.1L381.0 88.8L381.5 88.6L382.1 88.3L382.6 88.1L383.2 87.9L383.8 87.7L384.3 87.5L384.9 87.3L385.4 87.1L386.0 86.9L386.5 86.8L387.1 86.6L387.7 86.5L388.2 86.3L388.8 86.2L389.3 86.1L389.9 86.0L390.4 86.0L391.0 85.9L391.6 85.9L392.1 85.8L392.7 85.8L393.2 85.8L393.8 85.8L394.3 85.8L394.9 85.9L395.5 85.9L396.0 86.0L396.6 86.1L397.1 86.2L397.7 86.3L398.2 86.5L398.8 86.6L399.4 86.8L399.9 87.0L400.5 87.2L401.0 87.4L401.6 87.6L402.1 87.9L402.7 88.1L403.3 88.4L403.8 88.7L404.4 89.0L404.9 89.3L405.5 89.6L406.0 89.9L406.6 90.3L407.2 90.6L407.7 91.0L408.3 91.3L408.8 91.7L409.4 92.1L409.9 92.4L410.5 92.8L411.0 93.2L411.6 93.6L412.2 94.0L412.7 94.4L413.3 94.8L413.8 95.2L414.4 95.6L414.9 96.0L415.5 96.4L416.1 96.8L416.6 97.2L417.2 97.6L417.7 98.1L418.3 98.5L418.8 98.9L419.4 99.3L420.0 99.7L420.5 100.1L421.1 100.5L421.6 100.9L422.2 101.2L422.7 101.6L423.3 102.0L423.8 102.4" fill="none" stroke="#7030A0" stroke-width="2.2" stroke-dasharray="5.4 8.3" stroke-linecap="round" stroke-linejoin="round"/>
<path d="M278.5 -11.1L279.1 -8.1L279.6 -5.1L280.2 -2.3L280.7 0.5L281.3 3.3L281.9 5.9L282.4 8.5L283.0 11.1L283.5 13.6L284.1 16.0L284.6 18.4L285.2 20.7L285.8 23.0L286.3 25.2L286.9 27.3L287.4 29.4L288.0 31.5L288.5 33.5L289.1 35.5L289.6 37.4L290.2 39.3L290.8 41.1L291.3 42.9L291.9 44.6L292.4 46.3L293.0 48.0L293.5 49.6L294.1 51.2L294.7 52.8L295.2 54.3L295.8 55.7L296.3 57.2L296.9 58.6L297.4 59.9L298.0 61.3L298.6 62.6L299.1 63.9L299.7 65.1L300.2 66.3L300.8 67.5L301.3 68.6L301.9 69.8L302.5 70.9L303.0 71.9L303.6 73.0L304.1 74.0L304.7 75.0L305.2 75.9L305.8 76.9L306.4 77.8L306.9 78.7L307.5 79.5L308.0 80.4L308.6 81.2L309.1 82.0L309.7 82.8L310.3 83.6L310.8 84.3L311.4 85.0L311.9 85.7L312.5 86.4L313.0 87.1L313.6 87.7L314.2 88.3L314.7 88.9L315.3 89.5L315.8 90.1L316.4 90.7L316.9 91.2L317.5 91.7L318.1 92.2L318.6 92.7L319.2 93.2L319.7 93.7L320.3 94.1L320.8 94.5L321.4 95.0L321.9 95.4L322.5 95.7L323.1 96.1L323.6 96.5L324.2 96.8L324.7 97.2L325.3 97.5L325.8 97.8L326.4 98.1L327.0 98.4L327.5 98.7L328.1 98.9L328.6 99.2L329.2 99.4L329.7 99.7L330.3 99.9L330.9 100.1L331.4 100.3L332.0 100.5L332.5 100.6L333.1 100.8L333.6 101.0L334.2 101.1L334.8 101.2L335.3 101.4L335.9 101.5L336.4 101.6L337.0 101.7L337.5 101.8L338.1 101.8L338.7 101.9L339.2 102.0L339.8 102.0L340.3 102.0L340.9 102.1L341.4 102.1L342.0 102.1L342.6 102.1L343.1 102.1L343.7 102.1L344.2 102.1L344.8 102.1L345.3 102.0L345.9 102.0L346.5 101.9L347.0 101.9L347.6 101.8L348.1 101.7L348.7 101.6L349.2 101.5L349.8 101.4L350.3 101.3L350.9 101.2L351.5 101.1L352.0 101.0L352.6 100.8L353.1 100.7L353.7 100.5L354.2 100.4L354.8 100.2L355.4 100.0L355.9 99.9L356.5 99.7L357.0 99.5L357.6 99.3L358.1 99.1L358.7 98.9L359.3 98.7L359.8 98.5L360.4 98.2L360.9 98.0L361.5 97.8L362.0 97.5L362.6 97.3L363.2 97.0L363.7 96.8L364.3 96.5L364.8 96.3L365.4 96.0L365.9 95.7L366.5 95.5L367.1 95.2L367.6 94.9L368.2 94.6L368.7 94.4L369.3 94.1L369.8 93.8L370.4 93.5L371.0 93.2L371.5 92.9L372.1 92.7L372.6 92.4L373.2 92.1L373.7 91.8L374.3 91.5L374.9 91.2L375.4 91.0L376.0 90.7L376.5 90.4L377.1 90.1L377.6 89.9L378.2 89.6L378.8 89.4L379.3 89.1L379.9 88.9L380.4 88.6L381.0 88.4L381.5 88.2L382.1 88.0L382.6 87.8L383.2 87.6L383.8 87.4L384.3 87.2L384.9 87.0L385.4 86.9L386.0 86.7L386.5 86.6L387.1 86.4L387.7 86.3L388.2 86.2L388.8 86.1L389.3 86.0L389.9 86.0L390.4 85.9L391.0 85.8L391.6 85.8L392.1 85.8L392.7 85.8L393.2 85.8L393.8 85.8L394.3 85.8L394.9 85.9L395.5 86.0L396.0 86.0L396.6 86.1L397.1 86.3L397.7 86.4L398.2 86.5L398.8 86.7L399.4 86.9L399.9 87.1L400.5 87.3L401.0 87.5L401.6 87.8L402.1 88.0L402.7 88.3L403.3 88.5L403.8 88.8L404.4 89.1L404.9 89.4L405.5 89.8L406.0 90.1L406.6 90.4L407.2 90.8L407.7 91.1L408.3 91.5L408.8 91.9L409.4 92.2L409.9 92.6L410.5 93.0L411.0 93.4L411.6 93.8L412.2 94.2L412.7 94.6L413.3 95.0L413.8 95.4L414.4 95.8L414.9 96.2L415.5 96.6L416.1 97.0L416.6 97.4L417.2 97.8L417.7 98.2L418.3 98.6L418.8 99.0L419.4 99.4L420.0 99.8L420.5 100.2L421.1 100.6L421.6 101.0L422.2 101.4L422.7 101.8L423.3 102.2L423.8 102.5" fill="none" stroke="#8497B0" stroke-width="2.2" stroke-dasharray="5.4 8.3" stroke-linecap="round" stroke-linejoin="round"/>
<path d="M288.5 -10.4L289.1 -7.4L289.6 -4.5L290.2 -1.7L290.8 1.1L291.3 3.8L291.9 6.4L292.4 9.0L293.0 11.5L293.5 13.9L294.1 16.3L294.7 18.7L295.2 21.0L295.8 23.2L296.3 25.4L296.9 27.5L297.4 29.6L298.0 31.6L298.6 33.6L299.1 35.5L299.7 37.4L300.2 39.3L300.8 41.1L301.3 42.8L301.9 44.5L302.5 46.2L303.0 47.8L303.6 49.4L304.1 51.0L304.7 52.5L305.2 54.0L305.8 55.4L306.4 56.8L306.9 58.2L307.5 59.5L308.0 60.8L308.6 62.1L309.1 63.3L309.7 64.5L310.3 65.7L310.8 66.9L311.4 68.0L311.9 69.1L312.5 70.1L313.0 71.2L313.6 72.2L314.2 73.2L314.7 74.1L315.3 75.0L315.8 76.0L316.4 76.8L316.9 77.7L317.5 78.5L318.1 79.3L318.6 80.1L319.2 80.9L319.7 81.6L320.3 82.4L320.8 83.1L321.4 83.7L321.9 84.4L322.5 85.0L323.1 85.7L323.6 86.3L324.2 86.9L324.7 87.4L325.3 88.0L325.8 88.5L326.4 89.0L327.0 89.5L327.5 90.0L328.1 90.5L328.6 90.9L329.2 91.4L329.7 91.8L330.3 92.2L330.9 92.6L331.4 92.9L332.0 93.3L332.5 93.6L333.1 94.0L333.6 94.3L334.2 94.6L334.8 94.9L335.3 95.1L335.9 95.4L336.4 95.7L337.0 95.9L337.5 96.1L338.1 96.3L338.7 96.5L339.2 96.7L339.8 96.9L340.3 97.1L340.9 97.2L341.4 97.3L342.0 97.5L342.6 97.6L343.1 97.7L343.7 97.8L344.2 97.9L344.8 98.0L345.3 98.0L345.9 98.1L346.5 98.1L347.0 98.2L347.6 98.2L348.1 98.2L348.7 98.2L349.2 98.2L349.8 98.2L350.3 98.2L350.9 98.1L351.5 98.1L352.0 98.0L352.6 98.0L353.1 97.9L353.7 97.8L354.2 97.7L354.8 97.7L355.4 97.5L355.9 97.4L356.5 97.3L357.0 97.2L357.6 97.1L358.1 96.9L358.7 96.8L359.3 96.6L359.8 96.5L360.4 96.3L360.9 96.1L361.5 96.0L362.0 95.8L362.6 95.6L363.2 95.4L363.7 95.2L364.3 95.0L364.8 94.8L365.4 94.5L365.9 94.3L366.5 94.1L367.1 93.9L367.6 93.6L368.2 93.4L368.7 93.2L369.3 92.9L369.8 92.7L370.4 92.4L371.0 92.2L371.5 91.9L372.1 91.7L372.6 91.4L373.2 91.2L373.7 91.0L374.3 90.7L374.9 90.5L375.4 90.2L376.0 90.0L376.5 89.7L377.1 89.5L377.6 89.3L378.2 89.0L378.8 88.8L379.3 88.6L379.9 88.4L380.4 88.2L381.0 88.0L381.5 87.8L382.1 87.6L382.6 87.4L383.2 87.2L383.8 87.0L384.3 86.9L384.9 86.7L385.4 86.6L386.0 86.5L386.5 86.3L387.1 86.2L387.7 86.1L388.2 86.0L388.8 86.0L389.3 85.9L389.9 85.8L390.4 85.8L391.0 85.8L391.6 85.8L392.1 85.8L392.7 85.8L393.2 85.8L393.8 85.8L394.3 85.9L394.9 85.9L395.5 86.0L396.0 86.1L396.6 86.2L397.1 86.3L397.7 86.5L398.2 86.6L398.8 86.8L399.4 87.0L399.9 87.2L400.5 87.4L401.0 87.6L401.6 87.9L402.1 88.1L402.7 88.4L403.3 88.7L403.8 89.0L404.4 89.3L404.9 89.6L405.5 89.9L406.0 90.3L406.6 90.6L407.2 90.9L407.7 91.3L408.3 91.7L408.8 92.0L409.4 92.4L409.9 92.8L410.5 93.2L411.0 93.6L411.6 94.0L412.2 94.3L412.7 94.7L413.3 95.1L413.8 95.6L414.4 96.0L414.9 96.4L415.5 96.8L416.1 97.2L416.6 97.6L417.2 98.0L417.7 98.4L418.3 98.8L418.8 99.2L419.4 99.6L420.0 100.0L420.5 100.4L421.1 100.8L421.6 101.2L422.2 101.6L422.7 101.9L423.3 102.3L423.8 102.7" fill="none" stroke="#BF9000" stroke-width="2.2" stroke-dasharray="5.4 8.3" stroke-linecap="round" stroke-linejoin="round"/>
</g>
<line x1="273.50" y1="9.90" x2="273.50" y2="123.20" stroke="#BFBFBF" stroke-width="1"/>
<line x1="273.50" y1="123.20" x2="423.80" y2="123.20" stroke="#BFBFBF" stroke-width="1"/>
<text x="265.00" y="128.00" font-size="9.5" fill="#595959" text-anchor="end">0</text>
<text x="265.00" y="115.41" font-size="9.5" fill="#595959" text-anchor="end">10</text>
<text x="265.00" y="102.82" font-size="9.5" fill="#595959" text-anchor="end">20</text>
<text x="265.00" y="90.23" font-size="9.5" fill="#595959" text-anchor="end">30</text>
<text x="265.00" y="77.64" font-size="9.5" fill="#595959" text-anchor="end">40</text>
<text x="265.00" y="65.06" font-size="9.5" fill="#595959" text-anchor="end">50</text>
<text x="265.00" y="52.47" font-size="9.5" fill="#595959" text-anchor="end">60</text>
<text x="265.00" y="39.88" font-size="9.5" fill="#595959" text-anchor="end">70</text>
<text x="265.00" y="27.29" font-size="9.5" fill="#595959" text-anchor="end">80</text>
<text x="265.00" y="14.70" font-size="9.5" fill="#595959" text-anchor="end">90</text>
<text x="273.50" y="137.70" font-size="9.5" fill="#595959" text-anchor="middle">1E+08</text>
<text x="329.19" y="137.70" font-size="9.5" fill="#595959" text-anchor="middle">1E+09</text>
<text x="384.88" y="137.70" font-size="9.5" fill="#595959" text-anchor="middle">1E+10</text>
<text x="348.65" y="151.00" font-size="9.5" fill="#595959" text-anchor="middle">Log [Freq(Hz)]</text>
<text transform="translate(243.00 66.55) rotate(-90)" x="0" y="3.3" font-size="9.5" fill="#595959" text-anchor="middle">Complex permittivity</text>
<line x1="408.00" y1="7.70" x2="434.00" y2="7.70" stroke="#FFC000" stroke-width="2.2" stroke-linecap="round"/>
<text x="437.30" y="10.10" font-size="6.8" fill="#595959">A2</text>
<line x1="408.00" y1="17.80" x2="434.00" y2="17.80" stroke="#7030A0" stroke-width="2.2" stroke-linecap="round"/>
<text x="437.30" y="20.20" font-size="6.8" fill="#595959">B2</text>
<line x1="408.00" y1="28.30" x2="434.00" y2="28.30" stroke="#8497B0" stroke-width="2.2" stroke-linecap="round"/>
<text x="437.30" y="30.70" font-size="6.8" fill="#595959">C2</text>
<line x1="408.00" y1="38.20" x2="434.00" y2="38.20" stroke="#BF9000" stroke-width="2.2" stroke-linecap="round"/>
<text x="437.30" y="40.60" font-size="6.8" fill="#595959">D2</text>
<text x="332.20" y="183.60" font-size="12" font-weight="bold" font-style="italic" fill="#000" text-anchor="middle">(b)</text>
<line x1="507.8" y1="110.62" x2="661.8" y2="110.62" stroke="#D9D9D9" stroke-width="1"/>
<line x1="507.8" y1="98.04" x2="661.8" y2="98.04" stroke="#D9D9D9" stroke-width="1"/>
<line x1="507.8" y1="85.47" x2="661.8" y2="85.47" stroke="#D9D9D9" stroke-width="1"/>
<line x1="507.8" y1="72.89" x2="661.8" y2="72.89" stroke="#D9D9D9" stroke-width="1"/>
<line x1="507.8" y1="60.31" x2="661.8" y2="60.31" stroke="#D9D9D9" stroke-width="1"/>
<line x1="507.8" y1="47.73" x2="661.8" y2="47.73" stroke="#D9D9D9" stroke-width="1"/>
<line x1="507.8" y1="35.16" x2="661.8" y2="35.16" stroke="#D9D9D9" stroke-width="1"/>
<line x1="507.8" y1="22.58" x2="661.8" y2="22.58" stroke="#D9D9D9" stroke-width="1"/>
<line x1="507.8" y1="10.00" x2="661.8" y2="10.00" stroke="#D9D9D9" stroke-width="1"/>
<clipPath id="clipc"><rect x="507.80" y="10.00" width="154.00" height="113.20"/></clipPath>
<g clip-path="url(#clipc)">
<path d="M507.8 29.8L508.5 31.3L509.2 33.0L509.9 30.3L510.5 34.2L511.2 32.4L511.9 31.0L512.6 34.2L513.3 32.5L514.0 32.4L514.6 34.2L515.3 33.2L516.0 32.3L516.7 33.0L517.4 32.3L518.1 33.8L518.8 33.5L519.4 33.8L520.1 32.9L520.8 32.1L521.5 32.8L522.2 32.5L522.9 33.2L523.5 32.6L524.2 33.7L524.9 33.4L525.6 32.8L526.3 32.8L527.0 33.2L527.7 33.6L528.3 33.4L529.0 33.5L529.7 33.4L530.4 32.9L531.1 33.5L531.8 32.9L532.4 32.9L533.1 33.7L533.8 33.4L534.5 33.3L535.2 33.7L535.9 33.4L536.6 33.1L537.2 33.7L537.9 33.4L538.6 33.7L539.3 33.5L540.0 33.4L540.7 33.8L541.4 33.9L542.0 33.9L542.7 33.7L543.4 33.9L544.1 33.9L544.8 33.8L545.5 33.7L546.1 33.9L546.8 34.0L547.5 34.0L547.7 34.1L548.9 34.1L550.0 34.3L551.2 34.3L552.3 34.3L553.4 34.6L554.6 34.6L555.7 34.7L556.9 34.9L558.0 35.0L559.2 35.0L560.3 35.2L561.4 35.4L562.6 35.5L563.7 35.7L564.9 36.0L566.0 36.1L567.1 36.4L568.3 36.6L569.4 36.8L570.6 37.0L571.7 37.3L572.8 37.6L574.0 37.9L575.1 38.2L576.3 38.5L577.4 38.9L578.6 39.3L579.7 39.7L580.8 40.1L582.0 40.6L583.1 41.0L584.3 41.5L585.4 42.0L586.5 42.6L587.7 43.2L588.8 43.8L590.0 44.4L591.1 45.1L592.2 45.8L593.4 46.5L594.5 47.3L595.7 48.0L596.8 48.9L598.0 49.7L599.1 50.6L600.2 51.6L601.4 52.5L602.5 53.5L603.7 54.5L604.8 55.6L605.9 56.7L607.1 57.8L608.2 58.9L609.4 60.1L610.5 61.3L611.6 62.5L612.8 63.7L613.9 64.9L615.1 66.2L616.2 67.4L617.4 68.7L618.5 70.0L619.6 71.3L620.8 72.6L621.9 73.9L623.1 75.1L624.2 76.4L625.3 77.7L626.5 79.0L627.6 80.2L628.8 81.5L629.9 82.7L631.0 83.9L632.2 85.2L633.3 86.3L634.5 87.5L635.6 88.7L636.8 89.8L637.9 90.9L639.0 92.0L640.2 93.1L641.3 94.1L642.5 95.2L643.6 96.2L644.7 97.1L645.9 98.1L647.0 99.0L648.2 100.0L649.3 100.8L650.4 101.7L651.6 102.6L652.7 103.4L653.9 104.2L655.0 105.0L656.2 105.7L657.3 106.5L658.4 107.2L659.6 107.9L660.7 108.6L661.8 109.2" fill="none" stroke="#C00000" stroke-width="2.2" stroke-linejoin="round"/>
<path d="M507.8 33.1L508.5 33.8L509.2 33.1L509.9 34.7L510.5 32.1L511.2 32.2L511.9 32.9L512.6 34.7L513.3 33.4L514.0 34.1L514.6 34.3L515.3 32.2L516.0 32.1L516.7 34.8L517.4 32.6L518.1 33.3L518.8 33.9L519.4 34.1L520.1 33.2L520.8 33.7L521.5 33.3L522.2 33.4L522.9 34.3L523.5 33.2L524.2 32.9L524.9 33.0L525.6 33.6L526.3 34.4L527.0 34.4L527.7 34.3L528.3 33.3L529.0 34.1L529.7 34.0L530.4 33.5L531.1 34.1L531.8 33.9L532.4 34.0L533.1 34.4L533.8 33.9L534.5 33.8L535.2 34.3L535.9 34.3L536.6 34.2L537.2 34.5L537.9 34.2L538.6 34.0L539.3 34.2L540.0 34.3L540.7 34.1L541.4 34.5L542.0 34.4L542.7 34.5L543.4 34.4L544.1 34.7L544.8 34.5L545.5 34.8L546.1 34.8L546.8 34.6L547.5 34.6L547.7 34.8L548.9 34.9L550.0 35.0L551.2 35.1L552.3 35.1L553.4 35.3L554.6 35.4L555.7 35.5L556.9 35.7L558.0 35.7L559.2 35.9L560.3 36.0L561.4 36.2L562.6 36.4L563.7 36.6L564.9 36.8L566.0 36.9L567.1 37.2L568.3 37.4L569.4 37.7L570.6 37.9L571.7 38.2L572.8 38.5L574.0 38.7L575.1 39.1L576.3 39.4L577.4 39.8L578.6 40.1L579.7 40.5L580.8 40.9L582.0 41.4L583.1 41.8L584.3 42.3L585.4 42.8L586.5 43.4L587.7 43.9L588.8 44.5L590.0 45.2L591.1 45.8L592.2 46.5L593.4 47.2L594.5 47.9L595.7 48.7L596.8 49.5L598.0 50.4L599.1 51.2L600.2 52.1L601.4 53.1L602.5 54.0L603.7 55.0L604.8 56.0L605.9 57.1L607.1 58.2L608.2 59.3L609.4 60.4L610.5 61.5L611.6 62.7L612.8 63.9L613.9 65.1L615.1 66.3L616.2 67.6L617.4 68.8L618.5 70.1L619.6 71.4L620.8 72.6L621.9 73.9L623.1 75.2L624.2 76.4L625.3 77.7L626.5 79.0L627.6 80.2L628.8 81.5L629.9 82.7L631.0 83.9L632.2 85.1L633.3 86.3L634.5 87.5L635.6 88.6L636.8 89.8L637.9 90.9L639.0 92.0L640.2 93.1L641.3 94.1L642.5 95.1L643.6 96.1L644.7 97.1L645.9 98.1L647.0 99.0L648.2 100.0L649.3 100.8L650.4 101.7L651.6 102.6L652.7 103.4L653.9 104.2L655.0 105.0L656.2 105.8L657.3 106.5L658.4 107.2L659.6 107.9L660.7 108.6L661.8 109.3" fill="none" stroke="#A5A5A5" stroke-width="2.2" stroke-linejoin="round"/>
<path d="M507.8 36.6L508.5 35.7L509.2 33.4L509.9 35.8L510.5 35.4L511.2 34.8L511.9 36.6L512.6 34.9L513.3 34.3L514.0 33.6L514.6 36.3L515.3 35.4L516.0 36.0L516.7 33.5L517.4 33.8L518.1 35.8L518.8 33.0L519.4 33.1L520.1 33.9L520.8 34.0L521.5 35.1L522.2 35.4L522.9 34.2L523.5 35.2L524.2 34.9L524.9 34.8L525.6 35.2L526.3 34.4L527.0 34.4L527.7 33.8L528.3 34.3L529.0 34.2L529.7 34.4L530.4 34.2L531.1 34.5L531.8 34.7L532.4 33.9L533.1 33.9L533.8 34.2L534.5 34.3L535.2 34.7L535.9 34.8L536.6 34.8L537.2 35.0L537.9 34.5L538.6 34.8L539.3 34.5L540.0 34.8L540.7 34.5L541.4 34.6L542.0 35.2L542.7 35.1L543.4 34.8L544.1 35.0L544.8 34.8L545.5 35.2L546.1 35.3L546.8 35.1L547.5 35.1L547.7 35.4L548.9 35.5L550.0 35.5L551.2 35.4L552.3 35.6L553.4 35.9L554.6 36.0L555.7 36.1L556.9 36.2L558.0 36.2L559.2 36.5L560.3 36.6L561.4 36.8L562.6 37.0L563.7 37.1L564.9 37.4L566.0 37.5L567.1 37.8L568.3 38.0L569.4 38.2L570.6 38.5L571.7 38.7L572.8 39.0L574.0 39.3L575.1 39.6L576.3 40.0L577.4 40.3L578.6 40.7L579.7 41.1L580.8 41.5L582.0 41.9L583.1 42.4L584.3 42.9L585.4 43.4L586.5 43.9L587.7 44.5L588.8 45.1L590.0 45.7L591.1 46.3L592.2 47.0L593.4 47.7L594.5 48.4L595.7 49.2L596.8 49.9L598.0 50.8L599.1 51.6L600.2 52.5L601.4 53.4L602.5 54.4L603.7 55.3L604.8 56.3L605.9 57.4L607.1 58.4L608.2 59.5L609.4 60.6L610.5 61.7L611.6 62.9L612.8 64.1L613.9 65.3L615.1 66.5L616.2 67.7L617.4 68.9L618.5 70.2L619.6 71.4L620.8 72.7L621.9 73.9L623.1 75.2L624.2 76.5L625.3 77.7L626.5 79.0L627.6 80.2L628.8 81.5L629.9 82.7L631.0 83.9L632.2 85.1L633.3 86.3L634.5 87.5L635.6 88.6L636.8 89.8L637.9 90.9L639.0 92.0L640.2 93.0L641.3 94.1L642.5 95.1L643.6 96.1L644.7 97.1L645.9 98.1L647.0 99.0L648.2 100.0L649.3 100.9L650.4 101.7L651.6 102.6L652.7 103.4L653.9 104.2L655.0 105.0L656.2 105.8L657.3 106.5L658.4 107.2L659.6 107.9L660.7 108.6L661.8 109.3" fill="none" stroke="#00FFFF" stroke-width="2.2" stroke-linejoin="round"/>
<path d="M507.8 40.2L508.5 39.0L509.2 38.7L509.9 40.7L510.5 40.9L511.2 39.1L511.9 39.2L512.6 37.0L513.3 37.2L514.0 37.3L514.6 37.3L515.3 36.8L516.0 38.2L516.7 37.2L517.4 37.7L518.1 35.7L518.8 37.6L519.4 35.8L520.1 37.3L520.8 35.9L521.5 36.5L522.2 36.3L522.9 35.5L523.5 36.8L524.2 36.7L524.9 35.3L525.6 35.8L526.3 36.4L527.0 35.1L527.7 35.2L528.3 36.2L529.0 35.8L529.7 36.1L530.4 35.8L531.1 35.5L531.8 35.9L532.4 35.4L533.1 36.0L533.8 35.9L534.5 35.4L535.2 35.7L535.9 35.7L536.6 35.6L537.2 35.7L537.9 35.7L538.6 36.0L539.3 35.6L540.0 35.5L540.7 35.5L541.4 35.7L542.0 35.9L542.7 35.9L543.4 35.8L544.1 35.8L544.8 36.1L545.5 36.1L546.1 36.1L546.8 36.1L547.5 36.0L547.7 36.1L548.9 36.4L550.0 36.2L551.2 36.4L552.3 36.5L553.4 36.7L554.6 36.8L555.7 36.9L556.9 37.0L558.0 37.2L559.2 37.3L560.3 37.5L561.4 37.6L562.6 37.8L563.7 38.0L564.9 38.2L566.0 38.4L567.1 38.6L568.3 38.8L569.4 39.1L570.6 39.3L571.7 39.6L572.8 39.9L574.0 40.2L575.1 40.5L576.3 40.8L577.4 41.2L578.6 41.6L579.7 41.9L580.8 42.3L582.0 42.8L583.1 43.2L584.3 43.7L585.4 44.2L586.5 44.7L587.7 45.3L588.8 45.8L590.0 46.4L591.1 47.0L592.2 47.7L593.4 48.4L594.5 49.1L595.7 49.8L596.8 50.6L598.0 51.4L599.1 52.2L600.2 53.1L601.4 53.9L602.5 54.9L603.7 55.8L604.8 56.8L605.9 57.8L607.1 58.8L608.2 59.8L609.4 60.9L610.5 62.0L611.6 63.1L612.8 64.3L613.9 65.5L615.1 66.6L616.2 67.8L617.4 69.0L618.5 70.3L619.6 71.5L620.8 72.7L621.9 74.0L623.1 75.2L624.2 76.5L625.3 77.7L626.5 79.0L627.6 80.2L628.8 81.4L629.9 82.7L631.0 83.9L632.2 85.1L633.3 86.3L634.5 87.4L635.6 88.6L636.8 89.7L637.9 90.9L639.0 92.0L640.2 93.0L641.3 94.1L642.5 95.1L643.6 96.1L644.7 97.1L645.9 98.1L647.0 99.1L648.2 100.0L649.3 100.9L650.4 101.8L651.6 102.6L652.7 103.4L653.9 104.2L655.0 105.0L656.2 105.8L657.3 106.5L658.4 107.3L659.6 108.0L660.7 108.6L661.8 109.3" fill="none" stroke="#CC00CC" stroke-width="2.2" stroke-linejoin="round"/>
<path d="M507.8 121.5L508.4 121.4L508.9 121.4L509.5 121.4L510.1 121.3L510.7 121.3L511.2 121.3L511.8 121.2L512.4 121.2L512.9 121.2L513.5 121.1L514.1 121.1L514.6 121.0L515.2 121.0L515.8 121.0L516.4 120.9L516.9 120.9L517.5 120.8L518.1 120.8L518.6 120.8L519.2 120.7L519.8 120.7L520.4 120.6L520.9 120.6L521.5 120.5L522.1 120.5L522.6 120.4L523.2 120.4L523.8 120.3L524.3 120.3L524.9 120.2L525.5 120.2L526.1 120.1L526.6 120.1L527.2 120.0L527.8 120.0L528.3 119.9L528.9 119.9L529.5 119.8L530.1 119.7L530.6 119.7L531.2 119.6L531.8 119.6L532.3 119.5L532.9 119.4L533.5 119.4L534.0 119.3L534.6 119.2L535.2 119.2L535.8 119.1L536.3 119.0L536.9 118.9L537.5 118.9L538.0 118.8L538.6 118.7L539.2 118.6L539.8 118.6L540.3 118.5L540.9 118.4L541.5 118.3L542.0 118.2L542.6 118.1L543.2 118.1L543.7 118.0L544.3 117.9L544.9 117.8L545.5 117.7L546.0 117.6L546.6 117.5L547.2 117.4L547.7 117.3L548.3 117.2L548.9 117.1L549.5 117.0L550.0 116.9L550.6 116.8L551.2 116.6L551.7 116.5L552.3 116.4L552.9 116.3L553.4 116.2L554.0 116.1L554.6 115.9L555.2 115.8L555.7 115.7L556.3 115.6L556.9 115.4L557.4 115.3L558.0 115.2L558.6 115.0L559.2 114.9L559.7 114.7L560.3 114.6L560.9 114.4L561.4 114.3L562.0 114.1L562.6 114.0L563.1 113.8L563.7 113.7L564.3 113.5L564.9 113.4L565.4 113.2L566.0 113.0L566.6 112.8L567.1 112.7L567.7 112.5L568.3 112.3L568.9 112.1L569.4 112.0L570.0 111.8L570.6 111.6L571.1 111.4L571.7 111.2L572.3 111.0L572.8 110.8L573.4 110.6L574.0 110.4L574.6 110.2L575.1 110.0L575.7 109.8L576.3 109.5L576.8 109.3L577.4 109.1L578.0 108.9L578.6 108.6L579.1 108.4L579.7 108.2L580.3 107.9L580.8 107.7L581.4 107.5L582.0 107.2L582.5 107.0L583.1 106.7L583.7 106.5L584.3 106.2L584.8 106.0L585.4 105.7L586.0 105.4L586.5 105.2L587.1 104.9L587.7 104.6L588.3 104.4L588.8 104.1L589.4 103.8L590.0 103.5L590.5 103.3L591.1 103.0L591.7 102.7L592.2 102.4L592.8 102.1L593.4 101.8L594.0 101.6L594.5 101.3L595.1 101.0L595.7 100.7L596.2 100.4L596.8 100.1L597.4 99.8L598.0 99.5L598.5 99.2L599.1 98.9L599.7 98.7L600.2 98.4L600.8 98.1L601.4 97.8L601.9 97.5L602.5 97.2L603.1 96.9L603.7 96.6L604.2 96.4L604.8 96.1L605.4 95.8L605.9 95.5L606.5 95.3L607.1 95.0L607.7 94.7L608.2 94.5L608.8 94.2L609.4 94.0L609.9 93.7L610.5 93.5L611.1 93.3L611.6 93.0L612.2 92.8L612.8 92.6L613.4 92.4L613.9 92.2L614.5 92.0L615.1 91.8L615.6 91.6L616.2 91.5L616.8 91.3L617.4 91.1L617.9 91.0L618.5 90.8L619.1 90.7L619.6 90.6L620.2 90.5L620.8 90.4L621.3 90.3L621.9 90.2L622.5 90.1L623.1 90.1L623.6 90.0L624.2 90.0L624.8 89.9L625.3 89.9L625.9 89.9L626.5 89.9L627.1 89.9L627.6 89.9L628.2 89.9L628.8 90.0L629.3 90.0L629.9 90.1L630.5 90.2L631.0 90.3L631.6 90.4L632.2 90.6L632.8 90.7L633.3 90.9L633.9 91.0L634.5 91.2L635.0 91.4L635.6 91.6L636.2 91.8L636.8 92.1L637.3 92.3L637.9 92.5L638.5 92.8L639.0 93.1L639.6 93.3L640.2 93.6L640.7 93.9L641.3 94.2L641.9 94.5L642.5 94.8L643.0 95.1L643.6 95.4L644.2 95.7L644.7 96.1L645.3 96.4L645.9 96.7L646.5 97.1L647.0 97.4L647.6 97.7L648.2 98.1L648.7 98.4L649.3 98.8L649.9 99.1L650.4 99.4L651.0 99.8L651.6 100.1L652.2 100.5L652.7 100.8L653.3 101.2L653.9 101.5L654.4 101.9L655.0 102.2L655.6 102.5L656.2 102.9L656.7 103.2L657.3 103.5L657.9 103.9L658.4 104.2L659.0 104.5L659.6 104.8L660.1 105.1L660.7 105.5L661.3 105.8L661.8 106.0" fill="none" stroke="#C00000" stroke-width="2.2" stroke-dasharray="5.4 8.3" stroke-linecap="round" stroke-linejoin="round"/>
<path d="M507.8 52.3L508.4 53.8L508.9 55.4L509.5 56.8L510.1 58.3L510.7 59.7L511.2 61.0L511.8 62.4L512.4 63.7L512.9 65.0L513.5 66.2L514.1 67.4L514.6 68.6L515.2 69.8L515.8 70.9L516.4 72.0L516.9 73.1L517.5 74.1L518.1 75.1L518.6 76.1L519.2 77.1L519.8 78.1L520.4 79.0L520.9 79.9L521.5 80.8L522.1 81.6L522.6 82.5L523.2 83.3L523.8 84.1L524.3 84.9L524.9 85.6L525.5 86.4L526.1 87.1L526.6 87.8L527.2 88.5L527.8 89.1L528.3 89.8L528.9 90.4L529.5 91.0L530.1 91.6L530.6 92.2L531.2 92.8L531.8 93.3L532.3 93.9L532.9 94.4L533.5 94.9L534.0 95.4L534.6 95.9L535.2 96.3L535.8 96.8L536.3 97.2L536.9 97.6L537.5 98.1L538.0 98.5L538.6 98.8L539.2 99.2L539.8 99.6L540.3 99.9L540.9 100.3L541.5 100.6L542.0 100.9L542.6 101.2L543.2 101.5L543.7 101.8L544.3 102.1L544.9 102.4L545.5 102.6L546.0 102.9L546.6 103.1L547.2 103.4L547.7 103.6L548.3 103.8L548.9 104.0L549.5 104.2L550.0 104.4L550.6 104.6L551.2 104.7L551.7 104.9L552.3 105.1L552.9 105.2L553.4 105.3L554.0 105.5L554.6 105.6L555.2 105.7L555.7 105.8L556.3 105.9L556.9 106.0L557.4 106.1L558.0 106.2L558.6 106.2L559.2 106.3L559.7 106.4L560.3 106.4L560.9 106.5L561.4 106.5L562.0 106.5L562.6 106.6L563.1 106.6L563.7 106.6L564.3 106.6L564.9 106.6L565.4 106.6L566.0 106.6L566.6 106.6L567.1 106.5L567.7 106.5L568.3 106.5L568.9 106.4L569.4 106.4L570.0 106.3L570.6 106.3L571.1 106.2L571.7 106.2L572.3 106.1L572.8 106.0L573.4 105.9L574.0 105.8L574.6 105.7L575.1 105.6L575.7 105.5L576.3 105.4L576.8 105.3L577.4 105.2L578.0 105.0L578.6 104.9L579.1 104.8L579.7 104.6L580.3 104.5L580.8 104.3L581.4 104.2L582.0 104.0L582.5 103.9L583.1 103.7L583.7 103.5L584.3 103.3L584.8 103.2L585.4 103.0L586.0 102.8L586.5 102.6L587.1 102.4L587.7 102.2L588.3 102.0L588.8 101.8L589.4 101.6L590.0 101.4L590.5 101.2L591.1 100.9L591.7 100.7L592.2 100.5L592.8 100.3L593.4 100.0L594.0 99.8L594.5 99.6L595.1 99.3L595.7 99.1L596.2 98.8L596.8 98.6L597.4 98.4L598.0 98.1L598.5 97.9L599.1 97.6L599.7 97.4L600.2 97.1L600.8 96.9L601.4 96.6L601.9 96.4L602.5 96.1L603.1 95.9L603.7 95.7L604.2 95.4L604.8 95.2L605.4 94.9L605.9 94.7L606.5 94.5L607.1 94.2L607.7 94.0L608.2 93.8L608.8 93.6L609.4 93.3L609.9 93.1L610.5 92.9L611.1 92.7L611.6 92.5L612.2 92.3L612.8 92.1L613.4 92.0L613.9 91.8L614.5 91.6L615.1 91.4L615.6 91.3L616.2 91.1L616.8 91.0L617.4 90.9L617.9 90.7L618.5 90.6L619.1 90.5L619.6 90.4L620.2 90.3L620.8 90.2L621.3 90.1L621.9 90.1L622.5 90.0L623.1 90.0L623.6 89.9L624.2 89.9L624.8 89.9L625.3 89.9L625.9 89.9L626.5 89.9L627.1 89.9L627.6 89.9L628.2 90.0L628.8 90.0L629.3 90.1L629.9 90.2L630.5 90.3L631.0 90.4L631.6 90.5L632.2 90.7L632.8 90.8L633.3 91.0L633.9 91.2L634.5 91.4L635.0 91.6L635.6 91.8L636.2 92.0L636.8 92.2L637.3 92.5L637.9 92.7L638.5 93.0L639.0 93.2L639.6 93.5L640.2 93.8L640.7 94.1L641.3 94.4L641.9 94.7L642.5 95.0L643.0 95.3L643.6 95.6L644.2 95.9L644.7 96.3L645.3 96.6L645.9 96.9L646.5 97.2L647.0 97.6L647.6 97.9L648.2 98.3L648.7 98.6L649.3 99.0L649.9 99.3L650.4 99.6L651.0 100.0L651.6 100.3L652.2 100.7L652.7 101.0L653.3 101.4L653.9 101.7L654.4 102.0L655.0 102.4L655.6 102.7L656.2 103.0L656.7 103.4L657.3 103.7L657.9 104.0L658.4 104.3L659.0 104.7L659.6 105.0L660.1 105.3L660.7 105.6L661.3 105.9L661.8 106.2" fill="none" stroke="#A5A5A5" stroke-width="2.2" stroke-dasharray="5.4 8.3" stroke-linecap="round" stroke-linejoin="round"/>
<path d="M507.8 -10.6L508.4 -7.6L508.9 -4.7L509.5 -1.8L510.1 0.9L510.7 3.6L511.2 6.3L511.8 8.9L512.4 11.4L512.9 13.9L513.5 16.3L514.1 18.6L514.6 20.9L515.2 23.2L515.8 25.4L516.4 27.5L516.9 29.6L517.5 31.6L518.1 33.6L518.6 35.6L519.2 37.5L519.8 39.3L520.4 41.1L520.9 42.9L521.5 44.6L522.1 46.3L522.6 48.0L523.2 49.6L523.8 51.1L524.3 52.7L524.9 54.2L525.5 55.6L526.1 57.0L526.6 58.4L527.2 59.8L527.8 61.1L528.3 62.4L528.9 63.6L529.5 64.9L530.1 66.1L530.6 67.2L531.2 68.4L531.8 69.5L532.3 70.6L532.9 71.6L533.5 72.6L534.0 73.6L534.6 74.6L535.2 75.6L535.8 76.5L536.3 77.4L536.9 78.3L537.5 79.1L538.0 80.0L538.6 80.8L539.2 81.6L539.8 82.3L540.3 83.1L540.9 83.8L541.5 84.5L542.0 85.2L542.6 85.9L543.2 86.5L543.7 87.2L544.3 87.8L544.9 88.4L545.5 89.0L546.0 89.5L546.6 90.1L547.2 90.6L547.7 91.1L548.3 91.6L548.9 92.1L549.5 92.6L550.0 93.0L550.6 93.5L551.2 93.9L551.7 94.3L552.3 94.7L552.9 95.1L553.4 95.5L554.0 95.8L554.6 96.2L555.2 96.5L555.7 96.8L556.3 97.2L556.9 97.5L557.4 97.7L558.0 98.0L558.6 98.3L559.2 98.5L559.7 98.8L560.3 99.0L560.9 99.2L561.4 99.4L562.0 99.6L562.6 99.8L563.1 100.0L563.7 100.2L564.3 100.3L564.9 100.5L565.4 100.6L566.0 100.7L566.6 100.9L567.1 101.0L567.7 101.1L568.3 101.2L568.9 101.3L569.4 101.3L570.0 101.4L570.6 101.5L571.1 101.5L571.7 101.6L572.3 101.6L572.8 101.6L573.4 101.7L574.0 101.7L574.6 101.7L575.1 101.7L575.7 101.7L576.3 101.7L576.8 101.6L577.4 101.6L578.0 101.6L578.6 101.5L579.1 101.5L579.7 101.4L580.3 101.4L580.8 101.3L581.4 101.2L582.0 101.1L582.5 101.0L583.1 100.9L583.7 100.8L584.3 100.7L584.8 100.6L585.4 100.5L586.0 100.4L586.5 100.3L587.1 100.1L587.7 100.0L588.3 99.8L588.8 99.7L589.4 99.6L590.0 99.4L590.5 99.2L591.1 99.1L591.7 98.9L592.2 98.7L592.8 98.6L593.4 98.4L594.0 98.2L594.5 98.0L595.1 97.8L595.7 97.6L596.2 97.4L596.8 97.2L597.4 97.0L598.0 96.8L598.5 96.6L599.1 96.4L599.7 96.2L600.2 96.0L600.8 95.8L601.4 95.6L601.9 95.4L602.5 95.2L603.1 95.0L603.7 94.8L604.2 94.6L604.8 94.3L605.4 94.1L605.9 93.9L606.5 93.7L607.1 93.5L607.7 93.3L608.2 93.1L608.8 92.9L609.4 92.8L609.9 92.6L610.5 92.4L611.1 92.2L611.6 92.0L612.2 91.9L612.8 91.7L613.4 91.5L613.9 91.4L614.5 91.2L615.1 91.1L615.6 91.0L616.2 90.8L616.8 90.7L617.4 90.6L617.9 90.5L618.5 90.4L619.1 90.3L619.6 90.2L620.2 90.1L620.8 90.1L621.3 90.0L621.9 90.0L622.5 89.9L623.1 89.9L623.6 89.9L624.2 89.8L624.8 89.8L625.3 89.8L625.9 89.8L626.5 89.9L627.1 89.9L627.6 89.9L628.2 90.0L628.8 90.1L629.3 90.2L629.9 90.3L630.5 90.4L631.0 90.5L631.6 90.6L632.2 90.8L632.8 90.9L633.3 91.1L633.9 91.3L634.5 91.5L635.0 91.7L635.6 91.9L636.2 92.1L636.8 92.4L637.3 92.6L637.9 92.9L638.5 93.1L639.0 93.4L639.6 93.7L640.2 93.9L640.7 94.2L641.3 94.5L641.9 94.8L642.5 95.1L643.0 95.5L643.6 95.8L644.2 96.1L644.7 96.4L645.3 96.8L645.9 97.1L646.5 97.4L647.0 97.8L647.6 98.1L648.2 98.4L648.7 98.8L649.3 99.1L649.9 99.5L650.4 99.8L651.0 100.2L651.6 100.5L652.2 100.8L652.7 101.2L653.3 101.5L653.9 101.9L654.4 102.2L655.0 102.5L655.6 102.9L656.2 103.2L656.7 103.5L657.3 103.9L657.9 104.2L658.4 104.5L659.0 104.8L659.6 105.1L660.1 105.5L660.7 105.8L661.3 106.1L661.8 106.3" fill="none" stroke="#00FFFF" stroke-width="2.2" stroke-dasharray="5.4 8.3" stroke-linecap="round" stroke-linejoin="round"/>
<path d="M516.4 -10.8L516.9 -7.8L517.5 -4.9L518.1 -2.1L518.6 0.7L519.2 3.4L519.8 6.0L520.4 8.6L520.9 11.1L521.5 13.5L522.1 15.9L522.6 18.3L523.2 20.6L523.8 22.8L524.3 25.0L524.9 27.1L525.5 29.2L526.1 31.2L526.6 33.2L527.2 35.1L527.8 37.0L528.3 38.8L528.9 40.6L529.5 42.4L530.1 44.1L530.6 45.7L531.2 47.4L531.8 49.0L532.3 50.5L532.9 52.0L533.5 53.5L534.0 54.9L534.6 56.3L535.2 57.7L535.8 59.0L536.3 60.3L536.9 61.6L537.5 62.9L538.0 64.1L538.6 65.2L539.2 66.4L539.8 67.5L540.3 68.6L540.9 69.7L541.5 70.7L542.0 71.7L542.6 72.7L543.2 73.6L543.7 74.6L544.3 75.5L544.9 76.4L545.5 77.2L546.0 78.0L546.6 78.9L547.2 79.7L547.7 80.4L548.3 81.2L548.9 81.9L549.5 82.6L550.0 83.3L550.6 84.0L551.2 84.6L551.7 85.2L552.3 85.8L552.9 86.4L553.4 87.0L554.0 87.6L554.6 88.1L555.2 88.6L555.7 89.1L556.3 89.6L556.9 90.1L557.4 90.5L558.0 91.0L558.6 91.4L559.2 91.8L559.7 92.2L560.3 92.6L560.9 93.0L561.4 93.3L562.0 93.7L562.6 94.0L563.1 94.3L563.7 94.6L564.3 94.9L564.9 95.2L565.4 95.5L566.0 95.7L566.6 96.0L567.1 96.2L567.7 96.4L568.3 96.6L568.9 96.8L569.4 97.0L570.0 97.2L570.6 97.3L571.1 97.5L571.7 97.6L572.3 97.8L572.8 97.9L573.4 98.0L574.0 98.1L574.6 98.2L575.1 98.3L575.7 98.4L576.3 98.4L576.8 98.5L577.4 98.5L578.0 98.6L578.6 98.6L579.1 98.6L579.7 98.6L580.3 98.7L580.8 98.7L581.4 98.6L582.0 98.6L582.5 98.6L583.1 98.6L583.7 98.5L584.3 98.5L584.8 98.4L585.4 98.4L586.0 98.3L586.5 98.3L587.1 98.2L587.7 98.1L588.3 98.0L588.8 97.9L589.4 97.8L590.0 97.7L590.5 97.6L591.1 97.5L591.7 97.3L592.2 97.2L592.8 97.1L593.4 97.0L594.0 96.8L594.5 96.7L595.1 96.5L595.7 96.4L596.2 96.2L596.8 96.1L597.4 95.9L598.0 95.7L598.5 95.6L599.1 95.4L599.7 95.2L600.2 95.0L600.8 94.9L601.4 94.7L601.9 94.5L602.5 94.3L603.1 94.2L603.7 94.0L604.2 93.8L604.8 93.6L605.4 93.5L605.9 93.3L606.5 93.1L607.1 92.9L607.7 92.8L608.2 92.6L608.8 92.4L609.4 92.3L609.9 92.1L610.5 91.9L611.1 91.8L611.6 91.6L612.2 91.5L612.8 91.3L613.4 91.2L613.9 91.1L614.5 90.9L615.1 90.8L615.6 90.7L616.2 90.6L616.8 90.5L617.4 90.4L617.9 90.3L618.5 90.2L619.1 90.1L619.6 90.1L620.2 90.0L620.8 89.9L621.3 89.9L621.9 89.9L622.5 89.8L623.1 89.8L623.6 89.8L624.2 89.8L624.8 89.8L625.3 89.8L625.9 89.8L626.5 89.9L627.1 89.9L627.6 90.0L628.2 90.0L628.8 90.1L629.3 90.2L629.9 90.3L630.5 90.4L631.0 90.6L631.6 90.7L632.2 90.9L632.8 91.0L633.3 91.2L633.9 91.4L634.5 91.6L635.0 91.8L635.6 92.0L636.2 92.2L636.8 92.5L637.3 92.7L637.9 93.0L638.5 93.3L639.0 93.5L639.6 93.8L640.2 94.1L640.7 94.4L641.3 94.7L641.9 95.0L642.5 95.3L643.0 95.6L643.6 95.9L644.2 96.3L644.7 96.6L645.3 96.9L645.9 97.2L646.5 97.6L647.0 97.9L647.6 98.3L648.2 98.6L648.7 98.9L649.3 99.3L649.9 99.6L650.4 100.0L651.0 100.3L651.6 100.6L652.2 101.0L652.7 101.3L653.3 101.7L653.9 102.0L654.4 102.3L655.0 102.7L655.6 103.0L656.2 103.3L656.7 103.7L657.3 104.0L657.9 104.3L658.4 104.6L659.0 105.0L659.6 105.3L660.1 105.6L660.7 105.9L661.3 106.2L661.8 106.5" fill="none" stroke="#CC00CC" stroke-width="2.2" stroke-dasharray="5.4 8.3" stroke-linecap="round" stroke-linejoin="round"/>
</g>
<line x1="507.80" y1="10.00" x2="507.80" y2="123.20" stroke="#BFBFBF" stroke-width="1"/>
<line x1="507.80" y1="123.20" x2="661.80" y2="123.20" stroke="#BFBFBF" stroke-width="1"/>
<text x="499.00" y="128.00" font-size="9.5" fill="#595959" text-anchor="end">0</text>
<text x="499.00" y="115.42" font-size="9.5" fill="#595959" text-anchor="end">10</text>
<text x="499.00" y="102.84" font-size="9.5" fill="#595959" text-anchor="end">20</text>
<text x="499.00" y="90.27" font-size="9.5" fill="#595959" text-anchor="end">30</text>
<text x="499.00" y="77.69" font-size="9.5" fill="#595959" text-anchor="end">40</text>
<text x="499.00" y="65.11" font-size="9.5" fill="#595959" text-anchor="end">50</text>
<text x="499.00" y="52.53" font-size="9.5" fill="#595959" text-anchor="end">60</text>
<text x="499.00" y="39.96" font-size="9.5" fill="#595959" text-anchor="end">70</text>
<text x="499.00" y="27.38" font-size="9.5" fill="#595959" text-anchor="end">80</text>
<text x="499.00" y="14.80" font-size="9.5" fill="#595959" text-anchor="end">90</text>
<text x="507.80" y="137.70" font-size="9.5" fill="#595959" text-anchor="middle">1E+08</text>
<text x="564.86" y="137.70" font-size="9.5" fill="#595959" text-anchor="middle">1E+09</text>
<text x="621.92" y="137.70" font-size="9.5" fill="#595959" text-anchor="middle">1E+10</text>
<text x="584.80" y="151.00" font-size="9.5" fill="#595959" text-anchor="middle">Log [Freq(Hz)]</text>
<text transform="translate(476.40 66.60) rotate(-90)" x="0" y="3.3" font-size="9.5" fill="#595959" text-anchor="middle">Complex permittivity</text>
<line x1="643.70" y1="6.70" x2="669.60" y2="6.70" stroke="#C00000" stroke-width="2.2" stroke-linecap="round"/>
<text x="673.00" y="9.10" font-size="6.8" fill="#595959">A3</text>
<line x1="643.70" y1="17.00" x2="669.60" y2="17.00" stroke="#A5A5A5" stroke-width="2.2" stroke-linecap="round"/>
<text x="673.00" y="19.40" font-size="6.8" fill="#595959">B3</text>
<line x1="643.70" y1="27.70" x2="669.60" y2="27.70" stroke="#00FFFF" stroke-width="2.2" stroke-linecap="round"/>
<text x="673.00" y="30.10" font-size="6.8" fill="#595959">C3</text>
<line x1="643.70" y1="38.20" x2="669.60" y2="38.20" stroke="#CC00CC" stroke-width="2.2" stroke-linecap="round"/>
<text x="673.00" y="40.60" font-size="6.8" fill="#595959">D3</text>
<text x="578.00" y="183.60" font-size="12" font-weight="bold" font-style="italic" fill="#000" text-anchor="middle">(c)</text>
<line x1="36.3" y1="283.43" x2="188.9" y2="283.43" stroke="#D9D9D9" stroke-width="1"/>
<line x1="36.3" y1="259.37" x2="188.9" y2="259.37" stroke="#D9D9D9" stroke-width="1"/>
<line x1="36.3" y1="235.30" x2="188.9" y2="235.30" stroke="#D9D9D9" stroke-width="1"/>
<line x1="36.3" y1="211.23" x2="188.9" y2="211.23" stroke="#D9D9D9" stroke-width="1"/>
<clipPath id="clipd"><rect x="36.30" y="199.20" width="152.60" height="108.30"/></clipPath>
<g clip-path="url(#clipd)">
<path d="M36.3 214.5L37.0 212.4L37.7 212.5L38.3 211.8L39.0 214.5L39.7 214.3L40.4 214.6L41.0 214.2L41.7 212.5L42.4 214.5L43.1 213.2L43.8 214.1L44.4 213.9L45.1 213.5L45.8 212.5L46.5 213.0L47.2 214.4L47.8 213.8L48.5 214.0L49.2 212.6L49.9 212.7L50.5 212.8L51.2 212.8L51.9 212.9L52.6 212.6L53.3 212.9L53.9 213.6L54.6 212.8L55.3 213.3L56.0 213.0L56.7 213.2L57.3 213.4L58.0 213.4L58.7 213.4L59.4 213.5L60.0 213.7L60.7 213.0L61.4 213.1L62.1 212.9L62.8 213.2L63.4 213.3L64.1 213.1L64.8 213.6L65.5 213.2L66.2 213.4L66.8 213.5L67.5 213.5L68.2 213.3L68.9 213.4L69.5 213.3L70.2 213.3L70.9 213.4L71.6 213.5L72.3 213.3L72.9 213.4L73.6 213.4L74.3 213.4L75.0 213.4L75.7 213.5L75.9 213.3L77.0 213.2L78.1 213.4L79.3 213.3L80.4 213.3L81.5 213.5L82.7 213.5L83.8 213.4L84.9 213.4L86.1 213.4L87.2 213.5L88.3 213.5L89.4 213.4L90.6 213.5L91.7 213.5L92.8 213.6L94.0 213.5L95.1 213.6L96.2 213.6L97.4 213.7L98.5 213.7L99.6 213.7L100.8 213.8L101.9 213.8L103.0 213.9L104.1 213.9L105.3 214.0L106.4 214.1L107.5 214.1L108.7 214.2L109.8 214.3L110.9 214.4L112.1 214.5L113.2 214.6L114.3 214.7L115.5 214.9L116.6 215.0L117.7 215.2L118.8 215.3L120.0 215.5L121.1 215.7L122.2 216.0L123.4 216.2L124.5 216.5L125.6 216.8L126.8 217.1L127.9 217.5L129.0 217.9L130.2 218.3L131.3 218.7L132.4 219.2L133.5 219.7L134.7 220.3L135.8 220.9L136.9 221.6L138.1 222.3L139.2 223.1L140.3 223.9L141.5 224.8L142.6 225.7L143.7 226.8L144.9 227.8L146.0 229.0L147.1 230.2L148.2 231.5L149.4 232.9L150.5 234.3L151.6 235.8L152.8 237.4L153.9 239.0L155.0 240.7L156.2 242.5L157.3 244.3L158.4 246.1L159.6 248.0L160.7 250.0L161.8 251.9L162.9 253.9L164.1 255.9L165.2 257.9L166.3 259.9L167.5 261.9L168.6 263.8L169.7 265.8L170.9 267.7L172.0 269.5L173.1 271.3L174.3 273.1L175.4 274.8L176.5 276.4L177.7 277.9L178.8 279.4L179.9 280.8L181.0 282.2L182.2 283.5L183.3 284.7L184.4 285.8L185.6 286.9L186.7 287.9L187.8 288.8L188.9 289.6" fill="none" stroke="#FF0000" stroke-width="2.2" stroke-linejoin="round"/>
<path d="M36.3 217.7L37.0 214.9L37.7 215.2L38.3 214.0L39.0 216.7L39.7 216.8L40.4 215.0L41.0 215.3L41.7 216.5L42.4 215.3L43.1 216.2L43.8 215.1L44.4 216.9L45.1 216.6L45.8 214.9L46.5 216.2L47.2 216.4L47.8 215.2L48.5 215.6L49.2 216.5L49.9 215.8L50.5 215.6L51.2 216.4L51.9 215.6L52.6 216.5L53.3 216.1L53.9 216.5L54.6 216.3L55.3 215.3L56.0 216.0L56.7 215.4L57.3 216.0L58.0 215.8L58.7 215.6L59.4 215.8L60.0 216.3L60.7 215.9L61.4 215.8L62.1 216.2L62.8 216.3L63.4 215.7L64.1 216.0L64.8 216.2L65.5 216.0L66.2 216.2L66.8 215.8L67.5 216.0L68.2 216.2L68.9 215.9L69.5 216.2L70.2 216.2L70.9 216.3L71.6 216.0L72.3 216.2L72.9 216.1L73.6 216.3L74.3 216.1L75.0 216.1L75.7 216.1L75.9 216.2L77.0 216.2L78.1 216.2L79.3 216.2L80.4 216.3L81.5 216.3L82.7 216.4L83.8 216.3L84.9 216.3L86.1 216.5L87.2 216.5L88.3 216.5L89.4 216.6L90.6 216.7L91.7 216.6L92.8 216.7L94.0 216.8L95.1 216.9L96.2 216.9L97.4 217.0L98.5 217.1L99.6 217.2L100.8 217.3L101.9 217.4L103.0 217.5L104.1 217.6L105.3 217.7L106.4 217.9L107.5 218.0L108.7 218.2L109.8 218.4L110.9 218.6L112.1 218.7L113.2 219.0L114.3 219.2L115.5 219.4L116.6 219.7L117.7 220.0L118.8 220.3L120.0 220.6L121.1 221.0L122.2 221.3L123.4 221.7L124.5 222.2L125.6 222.6L126.8 223.1L127.9 223.7L129.0 224.2L130.2 224.8L131.3 225.5L132.4 226.1L133.5 226.9L134.7 227.6L135.8 228.5L136.9 229.3L138.1 230.2L139.2 231.2L140.3 232.2L141.5 233.3L142.6 234.4L143.7 235.6L144.9 236.8L146.0 238.1L147.1 239.4L148.2 240.8L149.4 242.3L150.5 243.7L151.6 245.3L152.8 246.8L153.9 248.4L155.0 250.0L156.2 251.7L157.3 253.3L158.4 255.0L159.6 256.7L160.7 258.4L161.8 260.1L162.9 261.8L164.1 263.5L165.2 265.2L166.3 266.8L167.5 268.4L168.6 270.0L169.7 271.5L170.9 273.1L172.0 274.5L173.1 275.9L174.3 277.3L175.4 278.6L176.5 279.9L177.7 281.1L178.8 282.2L179.9 283.3L181.0 284.4L182.2 285.4L183.3 286.3L184.4 287.2L185.6 288.1L186.7 288.9L187.8 289.6L188.9 290.3" fill="none" stroke="#CC99FF" stroke-width="2.2" stroke-linejoin="round"/>
<path d="M36.3 216.7L37.0 221.2L37.7 218.0L38.3 220.4L39.0 217.1L39.7 220.8L40.4 217.6L41.0 218.4L41.7 217.9L42.4 217.5L43.1 219.8L43.8 219.5L44.4 218.5L45.1 219.6L45.8 219.6L46.5 219.7L47.2 218.3L47.8 218.3L48.5 218.5L49.2 219.6L49.9 218.3L50.5 219.1L51.2 219.6L51.9 219.2L52.6 219.3L53.3 219.8L53.9 219.1L54.6 219.4L55.3 219.1L56.0 218.7L56.7 219.0L57.3 219.3L58.0 218.9L58.7 218.8L59.4 219.3L60.0 218.9L60.7 219.7L61.4 219.6L62.1 219.6L62.8 219.0L63.4 219.2L64.1 219.2L64.8 219.5L65.5 219.4L66.2 219.2L66.8 219.6L67.5 219.6L68.2 219.7L68.9 219.5L69.5 219.3L70.2 219.5L70.9 219.6L71.6 219.6L72.3 219.7L72.9 219.5L73.6 219.7L74.3 219.8L75.0 219.8L75.7 219.6L75.9 219.8L77.0 219.7L78.1 219.9L79.3 219.9L80.4 220.0L81.5 219.9L82.7 220.0L83.8 220.1L84.9 220.3L86.1 220.3L87.2 220.4L88.3 220.4L89.4 220.5L90.6 220.6L91.7 220.8L92.8 220.9L94.0 220.9L95.1 221.1L96.2 221.2L97.4 221.4L98.5 221.5L99.6 221.6L100.8 221.8L101.9 222.0L103.0 222.2L104.1 222.4L105.3 222.6L106.4 222.8L107.5 223.1L108.7 223.3L109.8 223.6L110.9 223.9L112.1 224.2L113.2 224.5L114.3 224.8L115.5 225.2L116.6 225.6L117.7 226.0L118.8 226.4L120.0 226.9L121.1 227.3L122.2 227.8L123.4 228.4L124.5 228.9L125.6 229.5L126.8 230.1L127.9 230.8L129.0 231.5L130.2 232.2L131.3 232.9L132.4 233.7L133.5 234.5L134.7 235.3L135.8 236.2L136.9 237.1L138.1 238.1L139.2 239.1L140.3 240.1L141.5 241.1L142.6 242.2L143.7 243.3L144.9 244.4L146.0 245.6L147.1 246.7L148.2 248.0L149.4 249.2L150.5 250.4L151.6 251.7L152.8 253.0L153.9 254.3L155.0 255.6L156.2 256.9L157.3 258.2L158.4 259.5L159.6 260.8L160.7 262.1L161.8 263.5L162.9 264.8L164.1 266.1L165.2 267.4L166.3 268.7L167.5 270.0L168.6 271.2L169.7 272.5L170.9 273.7L172.0 274.9L173.1 276.1L174.3 277.3L175.4 278.5L176.5 279.7L177.7 280.8L178.8 281.9L179.9 283.0L181.0 284.1L182.2 285.1L183.3 286.2L184.4 287.2L185.6 288.2L186.7 289.1L187.8 290.1L188.9 290.9" fill="none" stroke="#7030A0" stroke-width="2.2" stroke-linejoin="round"/>
<path d="M36.3 222.6L37.0 222.1L37.7 222.3L38.3 222.2L39.0 222.4L39.7 221.4L40.4 222.9L41.0 221.6L41.7 223.7L42.4 222.7L43.1 222.6L43.8 223.1L44.4 221.4L45.1 222.6L45.8 221.4L46.5 221.1L47.2 222.7L47.8 221.3L48.5 221.6L49.2 221.9L49.9 223.1L50.5 222.3L51.2 222.0L51.9 222.6L52.6 222.7L53.3 222.6L53.9 222.7L54.6 222.0L55.3 222.6L56.0 222.5L56.7 222.2L57.3 221.9L58.0 222.7L58.7 222.9L59.4 222.1L60.0 222.2L60.7 222.3L61.4 222.6L62.1 222.8L62.8 222.9L63.4 222.8L64.1 222.7L64.8 223.0L65.5 222.6L66.2 222.7L66.8 223.1L67.5 222.7L68.2 222.9L68.9 222.7L69.5 223.0L70.2 222.9L70.9 223.1L71.6 223.0L72.3 223.1L72.9 223.3L73.6 223.3L74.3 223.3L75.0 223.3L75.7 223.4L75.9 223.3L77.0 223.4L78.1 223.6L79.3 223.7L80.4 223.7L81.5 223.7L82.7 223.9L83.8 224.0L84.9 224.1L86.1 224.3L87.2 224.5L88.3 224.6L89.4 224.7L90.6 224.9L91.7 225.0L92.8 225.1L94.0 225.4L95.1 225.5L96.2 225.7L97.4 225.9L98.5 226.2L99.6 226.3L100.8 226.6L101.9 226.9L103.0 227.1L104.1 227.4L105.3 227.6L106.4 228.0L107.5 228.3L108.7 228.6L109.8 229.0L110.9 229.3L112.1 229.7L113.2 230.1L114.3 230.6L115.5 231.0L116.6 231.5L117.7 231.9L118.8 232.4L120.0 233.0L121.1 233.5L122.2 234.1L123.4 234.7L124.5 235.3L125.6 236.0L126.8 236.6L127.9 237.3L129.0 238.1L130.2 238.8L131.3 239.6L132.4 240.4L133.5 241.2L134.7 242.1L135.8 243.0L136.9 243.9L138.1 244.8L139.2 245.8L140.3 246.8L141.5 247.8L142.6 248.8L143.7 249.8L144.9 250.9L146.0 252.0L147.1 253.1L148.2 254.2L149.4 255.3L150.5 256.5L151.6 257.6L152.8 258.8L153.9 259.9L155.0 261.1L156.2 262.3L157.3 263.5L158.4 264.7L159.6 265.8L160.7 267.0L161.8 268.2L162.9 269.4L164.1 270.5L165.2 271.7L166.3 272.8L167.5 274.0L168.6 275.1L169.7 276.2L170.9 277.4L172.0 278.5L173.1 279.5L174.3 280.6L175.4 281.7L176.5 282.7L177.7 283.7L178.8 284.7L179.9 285.7L181.0 286.7L182.2 287.6L183.3 288.6L184.4 289.5L185.6 290.4L186.7 291.3L187.8 292.2L188.9 293.0" fill="none" stroke="#A5A5A5" stroke-width="2.2" stroke-linejoin="round"/>
<path d="M36.3 183.5L36.9 186.5L37.4 189.4L38.0 192.3L38.6 195.1L39.1 197.8L39.7 200.4L40.3 203.0L40.8 205.5L41.4 208.0L42.0 210.4L42.5 212.7L43.1 215.0L43.7 217.2L44.2 219.4L44.8 221.5L45.3 223.5L45.9 225.5L46.5 227.4L47.0 229.3L47.6 231.2L48.2 233.0L48.7 234.7L49.3 236.4L49.9 238.1L50.4 239.7L51.0 241.3L51.6 242.8L52.1 244.3L52.7 245.8L53.3 247.2L53.8 248.6L54.4 249.9L55.0 251.2L55.5 252.5L56.1 253.7L56.7 254.9L57.2 256.1L57.8 257.3L58.4 258.4L58.9 259.4L59.5 260.5L60.0 261.5L60.6 262.5L61.2 263.5L61.7 264.4L62.3 265.4L62.9 266.2L63.4 267.1L64.0 268.0L64.6 268.8L65.1 269.6L65.7 270.3L66.3 271.1L66.8 271.8L67.4 272.5L68.0 273.2L68.5 273.9L69.1 274.5L69.7 275.2L70.2 275.8L70.8 276.4L71.4 276.9L71.9 277.5L72.5 278.0L73.1 278.6L73.6 279.1L74.2 279.6L74.7 280.0L75.3 280.5L75.9 280.9L76.4 281.4L77.0 281.8L77.6 282.2L78.1 282.6L78.7 282.9L79.3 283.3L79.8 283.7L80.4 284.0L81.0 284.3L81.5 284.6L82.1 284.9L82.7 285.2L83.2 285.5L83.8 285.7L84.4 286.0L84.9 286.2L85.5 286.4L86.1 286.7L86.6 286.9L87.2 287.1L87.8 287.3L88.3 287.4L88.9 287.6L89.4 287.8L90.0 287.9L90.6 288.0L91.1 288.2L91.7 288.3L92.3 288.4L92.8 288.5L93.4 288.6L94.0 288.7L94.5 288.8L95.1 288.8L95.7 288.9L96.2 288.9L96.8 289.0L97.4 289.0L97.9 289.0L98.5 289.1L99.1 289.1L99.6 289.1L100.2 289.1L100.8 289.1L101.3 289.0L101.9 289.0L102.5 289.0L103.0 288.9L103.6 288.9L104.1 288.8L104.7 288.8L105.3 288.7L105.8 288.6L106.4 288.5L107.0 288.5L107.5 288.4L108.1 288.3L108.7 288.2L109.2 288.0L109.8 287.9L110.4 287.8L110.9 287.6L111.5 287.5L112.1 287.4L112.6 287.2L113.2 287.0L113.8 286.9L114.3 286.7L114.9 286.5L115.5 286.3L116.0 286.1L116.6 285.9L117.2 285.7L117.7 285.5L118.3 285.3L118.8 285.1L119.4 284.9L120.0 284.6L120.5 284.4L121.1 284.1L121.7 283.9L122.2 283.6L122.8 283.4L123.4 283.1L123.9 282.9L124.5 282.6L125.1 282.3L125.6 282.0L126.2 281.7L126.8 281.4L127.3 281.1L127.9 280.8L128.5 280.5L129.0 280.2L129.6 279.9L130.2 279.6L130.7 279.3L131.3 278.9L131.9 278.6L132.4 278.3L133.0 278.0L133.5 277.6L134.1 277.3L134.7 276.9L135.2 276.6L135.8 276.3L136.4 275.9L136.9 275.6L137.5 275.2L138.1 274.9L138.6 274.5L139.2 274.2L139.8 273.8L140.3 273.5L140.9 273.2L141.5 272.8L142.0 272.5L142.6 272.1L143.2 271.8L143.7 271.5L144.3 271.2L144.9 270.8L145.4 270.5L146.0 270.2L146.6 269.9L147.1 269.6L147.7 269.3L148.2 269.0L148.8 268.7L149.4 268.4L149.9 268.2L150.5 267.9L151.1 267.6L151.6 267.4L152.2 267.2L152.8 266.9L153.3 266.7L153.9 266.5L154.5 266.3L155.0 266.1L155.6 265.9L156.2 265.8L156.7 265.6L157.3 265.5L157.9 265.4L158.4 265.2L159.0 265.1L159.6 265.0L160.1 265.0L160.7 264.9L161.3 264.8L161.8 264.8L162.4 264.8L162.9 264.8L163.5 264.8L164.1 264.8L164.6 264.8L165.2 264.9L165.8 264.9L166.3 265.0L166.9 265.1L167.5 265.2L168.0 265.4L168.6 265.5L169.2 265.6L169.7 265.8L170.3 266.0L170.9 266.2L171.4 266.4L172.0 266.6L172.6 266.9L173.1 267.1L173.7 267.4L174.3 267.6L174.8 267.9L175.4 268.2L176.0 268.5L176.5 268.8L177.1 269.1L177.7 269.4L178.2 269.8L178.8 270.1L179.3 270.5L179.9 270.8L180.5 271.2L181.0 271.6L181.6 271.9L182.2 272.3L182.7 272.7L183.3 273.1L183.9 273.5L184.4 273.9L185.0 274.3L185.6 274.7L186.1 275.1L186.7 275.5L187.3 275.9L187.8 276.3L188.4 276.7L188.9 277.0" fill="none" stroke="#FF0000" stroke-width="2.2" stroke-dasharray="5.4 8.3" stroke-linecap="round" stroke-linejoin="round"/>
<path d="M36.3 196.6L36.9 199.3L37.4 201.9L38.0 204.5L38.6 207.0L39.1 209.4L39.7 211.8L40.3 214.1L40.8 216.3L41.4 218.5L42.0 220.6L42.5 222.7L43.1 224.7L43.7 226.7L44.2 228.6L44.8 230.4L45.3 232.3L45.9 234.0L46.5 235.8L47.0 237.4L47.6 239.1L48.2 240.7L48.7 242.2L49.3 243.7L49.9 245.2L50.4 246.7L51.0 248.1L51.6 249.4L52.1 250.7L52.7 252.0L53.3 253.3L53.8 254.5L54.4 255.7L55.0 256.9L55.5 258.0L56.1 259.1L56.7 260.2L57.2 261.2L57.8 262.2L58.4 263.2L58.9 264.2L59.5 265.1L60.0 266.0L60.6 266.9L61.2 267.7L61.7 268.6L62.3 269.4L62.9 270.2L63.4 270.9L64.0 271.7L64.6 272.4L65.1 273.1L65.7 273.8L66.3 274.4L66.8 275.1L67.4 275.7L68.0 276.3L68.5 276.9L69.1 277.4L69.7 278.0L70.2 278.5L70.8 279.0L71.4 279.5L71.9 280.0L72.5 280.5L73.1 281.0L73.6 281.4L74.2 281.8L74.7 282.2L75.3 282.6L75.9 283.0L76.4 283.4L77.0 283.7L77.6 284.1L78.1 284.4L78.7 284.7L79.3 285.0L79.8 285.3L80.4 285.6L81.0 285.9L81.5 286.1L82.1 286.4L82.7 286.6L83.2 286.9L83.8 287.1L84.4 287.3L84.9 287.5L85.5 287.7L86.1 287.8L86.6 288.0L87.2 288.2L87.8 288.3L88.3 288.5L88.9 288.6L89.4 288.7L90.0 288.8L90.6 288.9L91.1 289.0L91.7 289.1L92.3 289.2L92.8 289.3L93.4 289.3L94.0 289.4L94.5 289.4L95.1 289.5L95.7 289.5L96.2 289.5L96.8 289.5L97.4 289.5L97.9 289.5L98.5 289.5L99.1 289.5L99.6 289.5L100.2 289.5L100.8 289.4L101.3 289.4L101.9 289.3L102.5 289.3L103.0 289.2L103.6 289.1L104.1 289.1L104.7 289.0L105.3 288.9L105.8 288.8L106.4 288.7L107.0 288.6L107.5 288.5L108.1 288.4L108.7 288.2L109.2 288.1L109.8 288.0L110.4 287.8L110.9 287.7L111.5 287.5L112.1 287.3L112.6 287.2L113.2 287.0L113.8 286.8L114.3 286.6L114.9 286.4L115.5 286.2L116.0 286.0L116.6 285.8L117.2 285.6L117.7 285.4L118.3 285.1L118.8 284.9L119.4 284.7L120.0 284.4L120.5 284.2L121.1 283.9L121.7 283.7L122.2 283.4L122.8 283.2L123.4 282.9L123.9 282.6L124.5 282.3L125.1 282.0L125.6 281.8L126.2 281.5L126.8 281.2L127.3 280.9L127.9 280.6L128.5 280.3L129.0 280.0L129.6 279.7L130.2 279.3L130.7 279.0L131.3 278.7L131.9 278.4L132.4 278.1L133.0 277.8L133.5 277.4L134.1 277.1L134.7 276.8L135.2 276.5L135.8 276.1L136.4 275.8L136.9 275.5L137.5 275.2L138.1 274.8L138.6 274.5L139.2 274.2L139.8 273.9L140.3 273.6L140.9 273.3L141.5 272.9L142.0 272.6L142.6 272.3L143.2 272.0L143.7 271.8L144.3 271.5L144.9 271.2L145.4 270.9L146.0 270.6L146.6 270.4L147.1 270.1L147.7 269.9L148.2 269.6L148.8 269.4L149.4 269.2L149.9 269.0L150.5 268.8L151.1 268.6L151.6 268.4L152.2 268.2L152.8 268.0L153.3 267.9L153.9 267.7L154.5 267.6L155.0 267.5L155.6 267.4L156.2 267.3L156.7 267.2L157.3 267.1L157.9 267.1L158.4 267.0L159.0 267.0L159.6 267.0L160.1 266.9L160.7 266.9L161.3 267.0L161.8 267.0L162.4 267.0L162.9 267.1L163.5 267.2L164.1 267.3L164.6 267.4L165.2 267.5L165.8 267.6L166.3 267.8L166.9 267.9L167.5 268.1L168.0 268.3L168.6 268.5L169.2 268.7L169.7 268.9L170.3 269.2L170.9 269.4L171.4 269.7L172.0 269.9L172.6 270.2L173.1 270.5L173.7 270.8L174.3 271.1L174.8 271.4L175.4 271.7L176.0 272.0L176.5 272.4L177.1 272.7L177.7 273.0L178.2 273.4L178.8 273.7L179.3 274.1L179.9 274.5L180.5 274.8L181.0 275.2L181.6 275.6L182.2 275.9L182.7 276.3L183.3 276.7L183.9 277.1L184.4 277.5L185.0 277.9L185.6 278.2L186.1 278.6L186.7 279.0L187.3 279.4L187.8 279.8L188.4 280.2L188.9 280.5" fill="none" stroke="#CC99FF" stroke-width="2.2" stroke-dasharray="5.4 8.3" stroke-linecap="round" stroke-linejoin="round"/>
<path d="M36.3 225.5L36.9 227.5L37.4 229.4L38.0 231.2L38.6 233.1L39.1 234.8L39.7 236.5L40.3 238.2L40.8 239.9L41.4 241.4L42.0 243.0L42.5 244.5L43.1 246.0L43.7 247.4L44.2 248.8L44.8 250.2L45.3 251.5L45.9 252.8L46.5 254.0L47.0 255.3L47.6 256.5L48.2 257.6L48.7 258.8L49.3 259.9L49.9 260.9L50.4 262.0L51.0 263.0L51.6 264.0L52.1 264.9L52.7 265.9L53.3 266.8L53.8 267.7L54.4 268.5L55.0 269.4L55.5 270.2L56.1 271.0L56.7 271.7L57.2 272.5L57.8 273.2L58.4 273.9L58.9 274.6L59.5 275.3L60.0 275.9L60.6 276.5L61.2 277.2L61.7 277.8L62.3 278.3L62.9 278.9L63.4 279.4L64.0 280.0L64.6 280.5L65.1 281.0L65.7 281.5L66.3 281.9L66.8 282.4L67.4 282.8L68.0 283.2L68.5 283.6L69.1 284.0L69.7 284.4L70.2 284.8L70.8 285.2L71.4 285.5L71.9 285.8L72.5 286.2L73.1 286.5L73.6 286.8L74.2 287.1L74.7 287.3L75.3 287.6L75.9 287.9L76.4 288.1L77.0 288.3L77.6 288.6L78.1 288.8L78.7 289.0L79.3 289.2L79.8 289.4L80.4 289.6L81.0 289.7L81.5 289.9L82.1 290.0L82.7 290.2L83.2 290.3L83.8 290.4L84.4 290.6L84.9 290.7L85.5 290.8L86.1 290.9L86.6 291.0L87.2 291.1L87.8 291.1L88.3 291.2L88.9 291.3L89.4 291.3L90.0 291.4L90.6 291.4L91.1 291.4L91.7 291.4L92.3 291.5L92.8 291.5L93.4 291.5L94.0 291.5L94.5 291.5L95.1 291.5L95.7 291.4L96.2 291.4L96.8 291.4L97.4 291.3L97.9 291.3L98.5 291.2L99.1 291.2L99.6 291.1L100.2 291.0L100.8 291.0L101.3 290.9L101.9 290.8L102.5 290.7L103.0 290.6L103.6 290.5L104.1 290.4L104.7 290.3L105.3 290.2L105.8 290.0L106.4 289.9L107.0 289.8L107.5 289.6L108.1 289.5L108.7 289.3L109.2 289.2L109.8 289.0L110.4 288.8L110.9 288.7L111.5 288.5L112.1 288.3L112.6 288.1L113.2 287.9L113.8 287.7L114.3 287.5L114.9 287.3L115.5 287.1L116.0 286.9L116.6 286.7L117.2 286.5L117.7 286.2L118.3 286.0L118.8 285.8L119.4 285.5L120.0 285.3L120.5 285.0L121.1 284.8L121.7 284.5L122.2 284.3L122.8 284.0L123.4 283.8L123.9 283.5L124.5 283.2L125.1 283.0L125.6 282.7L126.2 282.4L126.8 282.1L127.3 281.9L127.9 281.6L128.5 281.3L129.0 281.0L129.6 280.7L130.2 280.5L130.7 280.2L131.3 279.9L131.9 279.6L132.4 279.3L133.0 279.0L133.5 278.8L134.1 278.5L134.7 278.2L135.2 277.9L135.8 277.7L136.4 277.4L136.9 277.1L137.5 276.8L138.1 276.6L138.6 276.3L139.2 276.1L139.8 275.8L140.3 275.6L140.9 275.3L141.5 275.1L142.0 274.9L142.6 274.6L143.2 274.4L143.7 274.2L144.3 274.0L144.9 273.8L145.4 273.6L146.0 273.5L146.6 273.3L147.1 273.1L147.7 273.0L148.2 272.8L148.8 272.7L149.4 272.6L149.9 272.4L150.5 272.3L151.1 272.2L151.6 272.2L152.2 272.1L152.8 272.0L153.3 272.0L153.9 271.9L154.5 271.9L155.0 271.9L155.6 271.9L156.2 271.9L156.7 271.9L157.3 271.9L157.9 272.0L158.4 272.0L159.0 272.1L159.6 272.2L160.1 272.3L160.7 272.4L161.3 272.5L161.8 272.6L162.4 272.7L162.9 272.9L163.5 273.1L164.1 273.2L164.6 273.4L165.2 273.6L165.8 273.8L166.3 274.0L166.9 274.2L167.5 274.5L168.0 274.7L168.6 275.0L169.2 275.2L169.7 275.5L170.3 275.8L170.9 276.0L171.4 276.3L172.0 276.6L172.6 276.9L173.1 277.2L173.7 277.5L174.3 277.8L174.8 278.1L175.4 278.5L176.0 278.8L176.5 279.1L177.1 279.4L177.7 279.8L178.2 280.1L178.8 280.4L179.3 280.8L179.9 281.1L180.5 281.4L181.0 281.8L181.6 282.1L182.2 282.4L182.7 282.8L183.3 283.1L183.9 283.4L184.4 283.8L185.0 284.1L185.6 284.4L186.1 284.8L186.7 285.1L187.3 285.4L187.8 285.7L188.4 286.1L188.9 286.3" fill="none" stroke="#7030A0" stroke-width="2.2" stroke-dasharray="5.4 8.3" stroke-linecap="round" stroke-linejoin="round"/>
<path d="M36.3 238.7L36.9 240.4L37.4 241.9L38.0 243.5L38.6 245.0L39.1 246.5L39.7 247.9L40.3 249.3L40.8 250.6L41.4 252.0L42.0 253.3L42.5 254.5L43.1 255.7L43.7 256.9L44.2 258.1L44.8 259.2L45.3 260.3L45.9 261.4L46.5 262.4L47.0 263.4L47.6 264.4L48.2 265.4L48.7 266.3L49.3 267.2L49.9 268.1L50.4 269.0L51.0 269.8L51.6 270.6L52.1 271.4L52.7 272.2L53.3 272.9L53.8 273.7L54.4 274.4L55.0 275.1L55.5 275.7L56.1 276.4L56.7 277.0L57.2 277.6L57.8 278.2L58.4 278.8L58.9 279.4L59.5 279.9L60.0 280.4L60.6 281.0L61.2 281.5L61.7 281.9L62.3 282.4L62.9 282.9L63.4 283.3L64.0 283.7L64.6 284.2L65.1 284.6L65.7 285.0L66.3 285.3L66.8 285.7L67.4 286.0L68.0 286.4L68.5 286.7L69.1 287.0L69.7 287.3L70.2 287.6L70.8 287.9L71.4 288.2L71.9 288.5L72.5 288.7L73.1 289.0L73.6 289.2L74.2 289.4L74.7 289.6L75.3 289.8L75.9 290.0L76.4 290.2L77.0 290.4L77.6 290.6L78.1 290.7L78.7 290.9L79.3 291.0L79.8 291.2L80.4 291.3L81.0 291.4L81.5 291.6L82.1 291.7L82.7 291.8L83.2 291.9L83.8 291.9L84.4 292.0L84.9 292.1L85.5 292.2L86.1 292.2L86.6 292.3L87.2 292.3L87.8 292.4L88.3 292.4L88.9 292.4L89.4 292.4L90.0 292.5L90.6 292.5L91.1 292.5L91.7 292.5L92.3 292.5L92.8 292.4L93.4 292.4L94.0 292.4L94.5 292.4L95.1 292.3L95.7 292.3L96.2 292.2L96.8 292.2L97.4 292.1L97.9 292.0L98.5 292.0L99.1 291.9L99.6 291.8L100.2 291.7L100.8 291.6L101.3 291.5L101.9 291.4L102.5 291.3L103.0 291.2L103.6 291.1L104.1 291.0L104.7 290.8L105.3 290.7L105.8 290.6L106.4 290.4L107.0 290.3L107.5 290.1L108.1 290.0L108.7 289.8L109.2 289.6L109.8 289.5L110.4 289.3L110.9 289.1L111.5 288.9L112.1 288.7L112.6 288.5L113.2 288.3L113.8 288.2L114.3 287.9L114.9 287.7L115.5 287.5L116.0 287.3L116.6 287.1L117.2 286.9L117.7 286.7L118.3 286.4L118.8 286.2L119.4 286.0L120.0 285.7L120.5 285.5L121.1 285.3L121.7 285.0L122.2 284.8L122.8 284.5L123.4 284.3L123.9 284.0L124.5 283.8L125.1 283.5L125.6 283.3L126.2 283.0L126.8 282.8L127.3 282.5L127.9 282.2L128.5 282.0L129.0 281.7L129.6 281.5L130.2 281.2L130.7 281.0L131.3 280.7L131.9 280.5L132.4 280.2L133.0 280.0L133.5 279.7L134.1 279.5L134.7 279.3L135.2 279.0L135.8 278.8L136.4 278.6L136.9 278.3L137.5 278.1L138.1 277.9L138.6 277.7L139.2 277.5L139.8 277.3L140.3 277.1L140.9 276.9L141.5 276.8L142.0 276.6L142.6 276.4L143.2 276.3L143.7 276.1L144.3 276.0L144.9 275.9L145.4 275.7L146.0 275.6L146.6 275.5L147.1 275.4L147.7 275.3L148.2 275.3L148.8 275.2L149.4 275.1L149.9 275.1L150.5 275.1L151.1 275.0L151.6 275.0L152.2 275.0L152.8 275.0L153.3 275.0L153.9 275.1L154.5 275.1L155.0 275.1L155.6 275.2L156.2 275.3L156.7 275.4L157.3 275.5L157.9 275.6L158.4 275.7L159.0 275.8L159.6 275.9L160.1 276.1L160.7 276.2L161.3 276.4L161.8 276.6L162.4 276.8L162.9 277.0L163.5 277.2L164.1 277.4L164.6 277.6L165.2 277.8L165.8 278.1L166.3 278.3L166.9 278.5L167.5 278.8L168.0 279.1L168.6 279.3L169.2 279.6L169.7 279.9L170.3 280.1L170.9 280.4L171.4 280.7L172.0 281.0L172.6 281.3L173.1 281.6L173.7 281.9L174.3 282.2L174.8 282.5L175.4 282.8L176.0 283.1L176.5 283.4L177.1 283.7L177.7 284.0L178.2 284.3L178.8 284.6L179.3 284.9L179.9 285.2L180.5 285.5L181.0 285.8L181.6 286.1L182.2 286.4L182.7 286.7L183.3 287.0L183.9 287.3L184.4 287.6L185.0 287.9L185.6 288.2L186.1 288.5L186.7 288.8L187.3 289.1L187.8 289.3L188.4 289.6L188.9 289.9" fill="none" stroke="#A5A5A5" stroke-width="2.2" stroke-dasharray="5.4 8.3" stroke-linecap="round" stroke-linejoin="round"/>
</g>
<line x1="36.30" y1="199.20" x2="36.30" y2="307.50" stroke="#BFBFBF" stroke-width="1"/>
<line x1="36.30" y1="307.50" x2="188.90" y2="307.50" stroke="#BFBFBF" stroke-width="1"/>
<text x="26.90" y="312.30" font-size="9.5" fill="#595959" text-anchor="end">0</text>
<text x="26.90" y="288.23" font-size="9.5" fill="#595959" text-anchor="end">20</text>
<text x="26.90" y="264.17" font-size="9.5" fill="#595959" text-anchor="end">40</text>
<text x="26.90" y="240.10" font-size="9.5" fill="#595959" text-anchor="end">60</text>
<text x="26.90" y="216.03" font-size="9.5" fill="#595959" text-anchor="end">80</text>
<text x="36.30" y="322.00" font-size="9.5" fill="#595959" text-anchor="middle">1E+08</text>
<text x="92.84" y="322.00" font-size="9.5" fill="#595959" text-anchor="middle">1E+09</text>
<text x="149.38" y="322.00" font-size="9.5" fill="#595959" text-anchor="middle">1E+10</text>
<text x="112.60" y="335.40" font-size="9.5" fill="#595959" text-anchor="middle">Log [Freq(Hz)]</text>
<text transform="translate(4.90 253.35) rotate(-90)" x="0" y="3.3" font-size="9.5" fill="#595959" text-anchor="middle">Complex permittivity</text>
<line x1="171.90" y1="194.10" x2="197.50" y2="194.10" stroke="#FF0000" stroke-width="2.2" stroke-linecap="round"/>
<text x="200.90" y="196.50" font-size="6.8" fill="#595959">B0</text>
<line x1="171.90" y1="204.40" x2="197.50" y2="204.40" stroke="#CC99FF" stroke-width="2.2" stroke-linecap="round"/>
<text x="200.90" y="206.80" font-size="6.8" fill="#595959">B1</text>
<line x1="171.90" y1="214.90" x2="197.50" y2="214.90" stroke="#7030A0" stroke-width="2.2" stroke-linecap="round"/>
<text x="200.90" y="217.30" font-size="6.8" fill="#595959">B2</text>
<line x1="171.90" y1="225.40" x2="197.50" y2="225.40" stroke="#A5A5A5" stroke-width="2.2" stroke-linecap="round"/>
<text x="200.90" y="227.80" font-size="6.8" fill="#595959">B3</text>
<text x="84.80" y="367.70" font-size="12" font-weight="bold" font-style="italic" fill="#000" text-anchor="middle">(d)</text>
<line x1="272.9" y1="283.39" x2="422.9" y2="283.39" stroke="#D9D9D9" stroke-width="1"/>
<line x1="272.9" y1="259.28" x2="422.9" y2="259.28" stroke="#D9D9D9" stroke-width="1"/>
<line x1="272.9" y1="235.17" x2="422.9" y2="235.17" stroke="#D9D9D9" stroke-width="1"/>
<line x1="272.9" y1="211.06" x2="422.9" y2="211.06" stroke="#D9D9D9" stroke-width="1"/>
<clipPath id="clipe"><rect x="272.90" y="199.00" width="150.00" height="108.50"/></clipPath>
<g clip-path="url(#clipe)">
<path d="M272.9 220.7L273.6 218.6L274.2 217.3L274.9 219.5L275.6 217.0L276.2 216.8L276.9 216.5L277.6 218.1L278.2 217.9L278.9 216.4L279.6 215.0L280.2 216.2L280.9 215.3L281.6 215.6L282.2 214.1L282.9 213.8L283.6 214.9L284.2 213.5L284.9 215.3L285.6 213.7L286.2 213.6L286.9 214.8L287.6 213.8L288.2 214.0L288.9 213.3L289.6 214.4L290.2 213.9L290.9 213.4L291.6 213.7L292.2 214.1L292.9 214.3L293.6 213.3L294.2 213.8L294.9 213.3L295.6 214.1L296.2 213.5L296.9 213.5L297.6 213.4L298.2 214.1L298.9 213.8L299.6 214.0L300.2 213.6L300.9 213.8L301.6 213.4L302.2 213.8L302.9 213.6L303.6 213.5L304.2 213.9L304.9 213.7L305.6 213.5L306.2 213.7L306.9 213.8L307.6 213.8L308.2 213.6L308.9 213.9L309.6 213.7L310.2 213.7L310.9 213.8L311.6 213.9L311.8 213.7L312.9 213.7L314.0 213.8L315.1 213.9L316.2 213.7L317.4 213.8L318.5 213.9L319.6 214.0L320.7 213.9L321.8 214.0L322.9 214.0L324.0 214.0L325.1 214.0L326.3 214.0L327.4 214.1L328.5 214.2L329.6 214.1L330.7 214.2L331.8 214.3L332.9 214.3L334.0 214.4L335.1 214.5L336.3 214.5L337.4 214.6L338.5 214.7L339.6 214.8L340.7 214.9L341.8 215.0L342.9 215.1L344.0 215.2L345.1 215.3L346.3 215.4L347.4 215.6L348.5 215.7L349.6 215.9L350.7 216.1L351.8 216.3L352.9 216.5L354.0 216.8L355.2 217.0L356.3 217.3L357.4 217.6L358.5 217.9L359.6 218.2L360.7 218.6L361.8 219.0L362.9 219.4L364.0 219.9L365.2 220.4L366.3 220.9L367.4 221.5L368.5 222.0L369.6 222.7L370.7 223.4L371.8 224.1L372.9 224.9L374.0 225.7L375.2 226.5L376.3 227.5L377.4 228.4L378.5 229.4L379.6 230.5L380.7 231.6L381.8 232.8L382.9 234.0L384.1 235.3L385.2 236.6L386.3 237.9L387.4 239.3L388.5 240.8L389.6 242.2L390.7 243.7L391.8 245.3L392.9 246.8L394.1 248.4L395.2 250.0L396.3 251.7L397.4 253.3L398.5 255.0L399.6 256.6L400.7 258.3L401.8 259.9L402.9 261.6L404.1 263.2L405.2 264.8L406.3 266.4L407.4 268.0L408.5 269.6L409.6 271.1L410.7 272.6L411.8 274.1L413.0 275.6L414.1 277.0L415.2 278.5L416.3 279.8L417.4 281.2L418.5 282.5L419.6 283.8L420.7 285.0L421.8 286.3L422.9 287.4" fill="none" stroke="#70AD47" stroke-width="2.2" stroke-linejoin="round"/>
<path d="M272.9 222.0L273.6 219.3L274.2 220.4L274.9 220.6L275.6 219.1L276.2 218.8L276.9 218.7L277.6 218.5L278.2 219.0L278.9 218.8L279.6 217.4L280.2 218.3L280.9 217.2L281.6 216.9L282.2 216.6L282.9 216.4L283.6 218.0L284.2 217.9L284.9 216.8L285.6 217.1L286.2 217.8L286.9 216.9L287.6 216.5L288.2 216.6L288.9 217.5L289.6 217.4L290.2 217.7L290.9 216.4L291.6 217.4L292.2 216.8L292.9 217.0L293.6 216.9L294.2 217.0L294.9 216.7L295.6 216.9L296.2 217.2L296.9 217.3L297.6 217.0L298.2 216.7L298.9 217.3L299.6 216.9L300.2 217.0L300.9 217.3L301.6 217.2L302.2 216.9L302.9 217.1L303.6 217.1L304.2 217.1L304.9 217.3L305.6 217.0L306.2 217.1L306.9 217.1L307.6 217.2L308.2 217.0L308.9 217.0L309.6 217.2L310.2 217.3L310.9 217.3L311.6 217.3L311.8 217.3L312.9 217.2L314.0 217.3L315.1 217.4L316.2 217.3L317.4 217.4L318.5 217.4L319.6 217.4L320.7 217.5L321.8 217.5L322.9 217.5L324.0 217.7L325.1 217.7L326.3 217.7L327.4 217.8L328.5 217.9L329.6 218.0L330.7 218.0L331.8 218.1L332.9 218.2L334.0 218.3L335.1 218.4L336.3 218.5L337.4 218.6L338.5 218.7L339.6 218.9L340.7 219.0L341.8 219.2L342.9 219.3L344.0 219.5L345.1 219.7L346.3 219.9L347.4 220.1L348.5 220.3L349.6 220.5L350.7 220.8L351.8 221.0L352.9 221.3L354.0 221.7L355.2 222.0L356.3 222.3L357.4 222.7L358.5 223.1L359.6 223.5L360.7 224.0L361.8 224.5L362.9 225.0L364.0 225.5L365.2 226.1L366.3 226.7L367.4 227.3L368.5 228.0L369.6 228.7L370.7 229.5L371.8 230.3L372.9 231.1L374.0 232.0L375.2 232.9L376.3 233.9L377.4 234.9L378.5 236.0L379.6 237.0L380.7 238.2L381.8 239.4L382.9 240.6L384.1 241.8L385.2 243.1L386.3 244.4L387.4 245.8L388.5 247.1L389.6 248.5L390.7 250.0L391.8 251.4L392.9 252.9L394.1 254.4L395.2 255.9L396.3 257.4L397.4 258.9L398.5 260.4L399.6 261.9L400.7 263.4L401.8 264.9L402.9 266.4L404.1 267.9L405.2 269.4L406.3 270.9L407.4 272.3L408.5 273.7L409.6 275.1L410.7 276.5L411.8 277.9L413.0 279.2L414.1 280.5L415.2 281.8L416.3 283.1L417.4 284.3L418.5 285.5L419.6 286.7L420.7 287.8L421.8 288.9L422.9 290.0" fill="none" stroke="#5B9BD5" stroke-width="2.2" stroke-linejoin="round"/>
<path d="M272.9 220.5L273.6 219.8L274.2 220.8L274.9 220.6L275.6 220.9L276.2 218.4L276.9 220.9L277.6 221.3L278.2 220.7L278.9 220.6L279.6 220.3L280.2 220.4L280.9 220.7L281.6 220.1L282.2 220.0L282.9 219.4L283.6 220.2L284.2 220.4L284.9 220.1L285.6 219.4L286.2 219.6L286.9 219.0L287.6 218.9L288.2 219.5L288.9 220.0L289.6 219.1L290.2 219.1L290.9 219.6L291.6 219.2L292.2 219.7L292.9 219.0L293.6 219.1L294.2 219.2L294.9 219.1L295.6 219.8L296.2 219.5L296.9 219.4L297.6 219.4L298.2 219.7L298.9 219.9L299.6 219.6L300.2 220.0L300.9 219.6L301.6 220.1L302.2 219.8L302.9 219.8L303.6 220.1L304.2 219.9L304.9 219.9L305.6 220.0L306.2 219.8L306.9 219.9L307.6 219.9L308.2 220.2L308.9 220.3L309.6 220.2L310.2 220.4L310.9 220.2L311.6 220.4L311.8 220.4L312.9 220.5L314.0 220.5L315.1 220.5L316.2 220.7L317.4 220.8L318.5 220.8L319.6 221.1L320.7 221.1L321.8 221.2L322.9 221.3L324.0 221.5L325.1 221.6L326.3 221.7L327.4 221.8L328.5 222.0L329.6 222.2L330.7 222.3L331.8 222.5L332.9 222.7L334.0 222.9L335.1 223.1L336.3 223.3L337.4 223.5L338.5 223.7L339.6 224.0L340.7 224.2L341.8 224.5L342.9 224.7L344.0 225.1L345.1 225.3L346.3 225.7L347.4 226.0L348.5 226.3L349.6 226.7L350.7 227.1L351.8 227.5L352.9 227.9L354.0 228.3L355.2 228.8L356.3 229.2L357.4 229.7L358.5 230.3L359.6 230.8L360.7 231.4L361.8 231.9L362.9 232.6L364.0 233.2L365.2 233.8L366.3 234.5L367.4 235.2L368.5 236.0L369.6 236.7L370.7 237.5L371.8 238.4L372.9 239.2L374.0 240.1L375.2 241.0L376.3 241.9L377.4 242.9L378.5 243.8L379.6 244.9L380.7 245.9L381.8 247.0L382.9 248.0L384.1 249.1L385.2 250.3L386.3 251.4L387.4 252.6L388.5 253.8L389.6 255.0L390.7 256.2L391.8 257.5L392.9 258.7L394.1 260.0L395.2 261.3L396.3 262.5L397.4 263.8L398.5 265.1L399.6 266.4L400.7 267.7L401.8 269.0L402.9 270.3L404.1 271.6L405.2 272.8L406.3 274.1L407.4 275.4L408.5 276.6L409.6 277.9L410.7 279.1L411.8 280.3L413.0 281.5L414.1 282.7L415.2 283.9L416.3 285.0L417.4 286.1L418.5 287.3L419.6 288.3L420.7 289.4L421.8 290.5L422.9 291.4" fill="none" stroke="#8497B0" stroke-width="2.2" stroke-linejoin="round"/>
<path d="M272.9 220.6L273.6 222.4L274.2 221.7L274.9 220.8L275.6 224.6L276.2 222.4L276.9 221.0L277.6 221.2L278.2 222.4L278.9 223.7L279.6 222.8L280.2 221.1L280.9 223.4L281.6 222.8L282.2 221.4L282.9 222.4L283.6 222.8L284.2 222.6L284.9 221.7L285.6 222.5L286.2 222.3L286.9 222.1L287.6 222.0L288.2 222.3L288.9 222.6L289.6 222.2L290.2 222.6L290.9 222.5L291.6 222.5L292.2 222.3L292.9 222.5L293.6 222.3L294.2 222.5L294.9 222.6L295.6 222.6L296.2 222.4L296.9 222.4L297.6 222.6L298.2 222.6L298.9 222.7L299.6 222.6L300.2 222.7L300.9 222.8L301.6 222.8L302.2 222.8L302.9 222.9L303.6 222.9L304.2 223.0L304.9 223.0L305.6 223.1L306.2 223.1L306.9 223.1L307.6 223.2L308.2 223.3L308.9 223.3L309.6 223.4L310.2 223.5L310.9 223.5L311.6 223.6L311.8 223.6L312.9 223.7L314.0 223.8L315.1 223.9L316.2 224.1L317.4 224.2L318.5 224.4L319.6 224.5L320.7 224.7L321.8 224.8L322.9 225.0L324.0 225.2L325.1 225.3L326.3 225.5L327.4 225.7L328.5 226.0L329.6 226.2L330.7 226.4L331.8 226.7L332.9 226.9L334.0 227.2L335.1 227.5L336.3 227.8L337.4 228.1L338.5 228.4L339.6 228.7L340.7 229.1L341.8 229.4L342.9 229.8L344.0 230.2L345.1 230.6L346.3 231.1L347.4 231.5L348.5 232.0L349.6 232.5L350.7 233.0L351.8 233.6L352.9 234.1L354.0 234.7L355.2 235.3L356.3 235.9L357.4 236.6L358.5 237.2L359.6 237.9L360.7 238.6L361.8 239.4L362.9 240.2L364.0 241.0L365.2 241.8L366.3 242.6L367.4 243.5L368.5 244.4L369.6 245.3L370.7 246.2L371.8 247.1L372.9 248.1L374.0 249.1L375.2 250.1L376.3 251.1L377.4 252.2L378.5 253.2L379.6 254.3L380.7 255.4L381.8 256.5L382.9 257.6L384.1 258.7L385.2 259.9L386.3 261.0L387.4 262.1L388.5 263.3L389.6 264.4L390.7 265.5L391.8 266.7L392.9 267.8L394.1 268.9L395.2 270.0L396.3 271.2L397.4 272.3L398.5 273.4L399.6 274.5L400.7 275.5L401.8 276.6L402.9 277.6L404.1 278.7L405.2 279.7L406.3 280.7L407.4 281.7L408.5 282.7L409.6 283.6L410.7 284.5L411.8 285.5L413.0 286.4L414.1 287.3L415.2 288.1L416.3 289.0L417.4 289.8L418.5 290.6L419.6 291.4L420.7 292.2L421.8 292.9L422.9 293.6" fill="none" stroke="#00FFFF" stroke-width="2.2" stroke-linejoin="round"/>
<path d="M287.9 178.0L288.5 181.1L289.0 184.2L289.6 187.2L290.1 190.1L290.7 192.9L291.2 195.7L291.8 198.3L292.4 201.0L292.9 203.5L293.5 206.0L294.0 208.4L294.6 210.8L295.1 213.0L295.7 215.3L296.2 217.5L296.8 219.6L297.4 221.6L297.9 223.6L298.5 225.6L299.0 227.5L299.6 229.4L300.1 231.2L300.7 232.9L301.2 234.6L301.8 236.3L302.4 237.9L302.9 239.5L303.5 241.0L304.0 242.5L304.6 244.0L305.1 245.4L305.7 246.8L306.2 248.1L306.8 249.4L307.4 250.7L307.9 251.9L308.5 253.1L309.0 254.2L309.6 255.4L310.1 256.5L310.7 257.5L311.2 258.6L311.8 259.6L312.4 260.5L312.9 261.5L313.5 262.4L314.0 263.3L314.6 264.2L315.1 265.0L315.7 265.8L316.2 266.6L316.8 267.4L317.4 268.1L317.9 268.8L318.5 269.5L319.0 270.2L319.6 270.8L320.1 271.5L320.7 272.1L321.3 272.7L321.8 273.2L322.4 273.8L322.9 274.3L323.5 274.8L324.0 275.3L324.6 275.8L325.1 276.2L325.7 276.7L326.3 277.1L326.8 277.5L327.4 277.9L327.9 278.2L328.5 278.6L329.0 278.9L329.6 279.3L330.1 279.6L330.7 279.9L331.3 280.2L331.8 280.4L332.4 280.7L332.9 280.9L333.5 281.1L334.0 281.3L334.6 281.5L335.1 281.7L335.7 281.9L336.3 282.1L336.8 282.2L337.4 282.3L337.9 282.5L338.5 282.6L339.0 282.7L339.6 282.8L340.1 282.8L340.7 282.9L341.3 283.0L341.8 283.0L342.4 283.0L342.9 283.1L343.5 283.1L344.0 283.1L344.6 283.1L345.1 283.0L345.7 283.0L346.3 283.0L346.8 282.9L347.4 282.9L347.9 282.8L348.5 282.7L349.0 282.6L349.6 282.6L350.2 282.5L350.7 282.3L351.3 282.2L351.8 282.1L352.4 282.0L352.9 281.8L353.5 281.7L354.0 281.5L354.6 281.3L355.2 281.2L355.7 281.0L356.3 280.8L356.8 280.6L357.4 280.4L357.9 280.2L358.5 280.0L359.0 279.7L359.6 279.5L360.2 279.3L360.7 279.0L361.3 278.8L361.8 278.5L362.4 278.2L362.9 278.0L363.5 277.7L364.0 277.4L364.6 277.1L365.2 276.9L365.7 276.6L366.3 276.3L366.8 276.0L367.4 275.7L367.9 275.4L368.5 275.1L369.0 274.8L369.6 274.4L370.2 274.1L370.7 273.8L371.3 273.5L371.8 273.2L372.4 272.9L372.9 272.5L373.5 272.2L374.0 271.9L374.6 271.6L375.2 271.3L375.7 270.9L376.3 270.6L376.8 270.3L377.4 270.0L377.9 269.7L378.5 269.4L379.1 269.1L379.6 268.8L380.2 268.5L380.7 268.2L381.3 268.0L381.8 267.7L382.4 267.4L382.9 267.2L383.5 266.9L384.1 266.7L384.6 266.5L385.2 266.2L385.7 266.0L386.3 265.8L386.8 265.6L387.4 265.4L387.9 265.3L388.5 265.1L389.1 264.9L389.6 264.8L390.2 264.7L390.7 264.5L391.3 264.4L391.8 264.4L392.4 264.3L392.9 264.2L393.5 264.2L394.1 264.1L394.6 264.1L395.2 264.1L395.7 264.1L396.3 264.1L396.8 264.1L397.4 264.2L397.9 264.2L398.5 264.3L399.1 264.4L399.6 264.6L400.2 264.7L400.7 264.8L401.3 265.0L401.8 265.2L402.4 265.4L402.9 265.6L403.5 265.9L404.1 266.1L404.6 266.4L405.2 266.6L405.7 266.9L406.3 267.2L406.8 267.5L407.4 267.9L408.0 268.2L408.5 268.6L409.1 268.9L409.6 269.3L410.2 269.7L410.7 270.0L411.3 270.4L411.8 270.8L412.4 271.2L413.0 271.7L413.5 272.1L414.1 272.5L414.6 272.9L415.2 273.4L415.7 273.8L416.3 274.2L416.8 274.7L417.4 275.1L418.0 275.6L418.5 276.0L419.1 276.5L419.6 276.9L420.2 277.4L420.7 277.8L421.3 278.3L421.8 278.7L422.4 279.1L422.9 279.5" fill="none" stroke="#70AD47" stroke-width="2.2" stroke-dasharray="5.4 8.3" stroke-linecap="round" stroke-linejoin="round"/>
<path d="M282.9 176.4L283.5 179.6L284.0 182.7L284.6 185.7L285.1 188.7L285.7 191.6L286.2 194.4L286.8 197.1L287.3 199.8L287.9 202.4L288.5 204.9L289.0 207.4L289.6 209.8L290.1 212.1L290.7 214.4L291.2 216.6L291.8 218.8L292.4 220.9L292.9 222.9L293.5 224.9L294.0 226.9L294.6 228.7L295.1 230.6L295.7 232.4L296.2 234.1L296.8 235.8L297.4 237.5L297.9 239.1L298.5 240.7L299.0 242.2L299.6 243.7L300.1 245.1L300.7 246.5L301.2 247.9L301.8 249.3L302.4 250.6L302.9 251.8L303.5 253.0L304.0 254.2L304.6 255.4L305.1 256.5L305.7 257.6L306.2 258.7L306.8 259.7L307.4 260.7L307.9 261.7L308.5 262.7L309.0 263.6L309.6 264.5L310.1 265.3L310.7 266.2L311.2 267.0L311.8 267.8L312.4 268.6L312.9 269.3L313.5 270.1L314.0 270.8L314.6 271.4L315.1 272.1L315.7 272.7L316.2 273.4L316.8 274.0L317.4 274.5L317.9 275.1L318.5 275.6L319.0 276.2L319.6 276.7L320.1 277.1L320.7 277.6L321.3 278.1L321.8 278.5L322.4 278.9L322.9 279.3L323.5 279.7L324.0 280.1L324.6 280.4L325.1 280.8L325.7 281.1L326.3 281.4L326.8 281.7L327.4 282.0L327.9 282.3L328.5 282.5L329.0 282.8L329.6 283.0L330.1 283.2L330.7 283.5L331.3 283.7L331.8 283.8L332.4 284.0L332.9 284.2L333.5 284.3L334.0 284.5L334.6 284.6L335.1 284.7L335.7 284.8L336.3 284.9L336.8 285.0L337.4 285.1L337.9 285.1L338.5 285.2L339.0 285.2L339.6 285.3L340.1 285.3L340.7 285.3L341.3 285.3L341.8 285.3L342.4 285.3L342.9 285.3L343.5 285.2L344.0 285.2L344.6 285.1L345.1 285.1L345.7 285.0L346.3 285.0L346.8 284.9L347.4 284.8L347.9 284.7L348.5 284.6L349.0 284.5L349.6 284.3L350.2 284.2L350.7 284.1L351.3 283.9L351.8 283.8L352.4 283.6L352.9 283.5L353.5 283.3L354.0 283.1L354.6 282.9L355.2 282.8L355.7 282.6L356.3 282.4L356.8 282.2L357.4 281.9L357.9 281.7L358.5 281.5L359.0 281.3L359.6 281.0L360.2 280.8L360.7 280.6L361.3 280.3L361.8 280.1L362.4 279.8L362.9 279.5L363.5 279.3L364.0 279.0L364.6 278.7L365.2 278.5L365.7 278.2L366.3 277.9L366.8 277.6L367.4 277.3L367.9 277.1L368.5 276.8L369.0 276.5L369.6 276.2L370.2 275.9L370.7 275.6L371.3 275.3L371.8 275.0L372.4 274.8L372.9 274.5L373.5 274.2L374.0 273.9L374.6 273.6L375.2 273.4L375.7 273.1L376.3 272.8L376.8 272.6L377.4 272.3L377.9 272.0L378.5 271.8L379.1 271.6L379.6 271.3L380.2 271.1L380.7 270.9L381.3 270.6L381.8 270.4L382.4 270.2L382.9 270.0L383.5 269.9L384.1 269.7L384.6 269.5L385.2 269.4L385.7 269.2L386.3 269.1L386.8 268.9L387.4 268.8L387.9 268.7L388.5 268.6L389.1 268.5L389.6 268.5L390.2 268.4L390.7 268.4L391.3 268.3L391.8 268.3L392.4 268.3L392.9 268.3L393.5 268.3L394.1 268.3L394.6 268.4L395.2 268.4L395.7 268.5L396.3 268.6L396.8 268.7L397.4 268.8L397.9 268.9L398.5 269.1L399.1 269.2L399.6 269.4L400.2 269.6L400.7 269.8L401.3 270.0L401.8 270.2L402.4 270.4L402.9 270.6L403.5 270.9L404.1 271.1L404.6 271.4L405.2 271.7L405.7 272.0L406.3 272.3L406.8 272.6L407.4 272.9L408.0 273.2L408.5 273.5L409.1 273.9L409.6 274.2L410.2 274.5L410.7 274.9L411.3 275.2L411.8 275.6L412.4 276.0L413.0 276.3L413.5 276.7L414.1 277.1L414.6 277.4L415.2 277.8L415.7 278.2L416.3 278.6L416.8 279.0L417.4 279.3L418.0 279.7L418.5 280.1L419.1 280.5L419.6 280.9L420.2 281.3L420.7 281.6L421.3 282.0L421.8 282.4L422.4 282.8L422.9 283.1" fill="none" stroke="#5B9BD5" stroke-width="2.2" stroke-dasharray="5.4 8.3" stroke-linecap="round" stroke-linejoin="round"/>
<path d="M279.0 176.2L279.6 179.4L280.1 182.5L280.7 185.6L281.2 188.6L281.8 191.5L282.3 194.3L282.9 197.0L283.5 199.7L284.0 202.3L284.6 204.9L285.1 207.3L285.7 209.7L286.2 212.1L286.8 214.4L287.3 216.6L287.9 218.8L288.5 220.9L289.0 223.0L289.6 225.0L290.1 226.9L290.7 228.8L291.2 230.7L291.8 232.5L292.4 234.3L292.9 236.0L293.5 237.7L294.0 239.3L294.6 240.9L295.1 242.4L295.7 243.9L296.2 245.4L296.8 246.8L297.4 248.2L297.9 249.5L298.5 250.8L299.0 252.1L299.6 253.3L300.1 254.5L300.7 255.7L301.2 256.9L301.8 258.0L302.4 259.1L302.9 260.1L303.5 261.1L304.0 262.1L304.6 263.1L305.1 264.0L305.7 264.9L306.2 265.8L306.8 266.7L307.4 267.5L307.9 268.3L308.5 269.1L309.0 269.9L309.6 270.6L310.1 271.3L310.7 272.0L311.2 272.7L311.8 273.3L312.4 274.0L312.9 274.6L313.5 275.2L314.0 275.8L314.6 276.3L315.1 276.8L315.7 277.4L316.2 277.9L316.8 278.4L317.4 278.8L317.9 279.3L318.5 279.7L319.0 280.1L319.6 280.5L320.1 280.9L320.7 281.3L321.3 281.7L321.8 282.0L322.4 282.3L322.9 282.7L323.5 283.0L324.0 283.3L324.6 283.5L325.1 283.8L325.7 284.1L326.3 284.3L326.8 284.5L327.4 284.7L327.9 285.0L328.5 285.1L329.0 285.3L329.6 285.5L330.1 285.7L330.7 285.8L331.3 286.0L331.8 286.1L332.4 286.2L332.9 286.3L333.5 286.4L334.0 286.5L334.6 286.6L335.1 286.6L335.7 286.7L336.3 286.8L336.8 286.8L337.4 286.8L337.9 286.8L338.5 286.9L339.0 286.9L339.6 286.9L340.1 286.9L340.7 286.8L341.3 286.8L341.8 286.8L342.4 286.7L342.9 286.7L343.5 286.6L344.0 286.6L344.6 286.5L345.1 286.4L345.7 286.3L346.3 286.2L346.8 286.1L347.4 286.0L347.9 285.9L348.5 285.8L349.0 285.6L349.6 285.5L350.2 285.3L350.7 285.2L351.3 285.0L351.8 284.9L352.4 284.7L352.9 284.5L353.5 284.4L354.0 284.2L354.6 284.0L355.2 283.8L355.7 283.6L356.3 283.4L356.8 283.2L357.4 283.0L357.9 282.7L358.5 282.5L359.0 282.3L359.6 282.1L360.2 281.8L360.7 281.6L361.3 281.4L361.8 281.1L362.4 280.9L362.9 280.6L363.5 280.4L364.0 280.1L364.6 279.9L365.2 279.6L365.7 279.3L366.3 279.1L366.8 278.8L367.4 278.6L367.9 278.3L368.5 278.0L369.0 277.8L369.6 277.5L370.2 277.3L370.7 277.0L371.3 276.8L371.8 276.5L372.4 276.3L372.9 276.0L373.5 275.8L374.0 275.5L374.6 275.3L375.2 275.1L375.7 274.8L376.3 274.6L376.8 274.4L377.4 274.2L377.9 274.0L378.5 273.8L379.1 273.6L379.6 273.4L380.2 273.2L380.7 273.1L381.3 272.9L381.8 272.8L382.4 272.6L382.9 272.5L383.5 272.4L384.1 272.3L384.6 272.1L385.2 272.1L385.7 272.0L386.3 271.9L386.8 271.8L387.4 271.8L387.9 271.7L388.5 271.7L389.1 271.7L389.6 271.7L390.2 271.7L390.7 271.7L391.3 271.7L391.8 271.8L392.4 271.8L392.9 271.9L393.5 271.9L394.1 272.0L394.6 272.1L395.2 272.2L395.7 272.3L396.3 272.5L396.8 272.6L397.4 272.7L397.9 272.9L398.5 273.1L399.1 273.2L399.6 273.4L400.2 273.6L400.7 273.8L401.3 274.0L401.8 274.3L402.4 274.5L402.9 274.7L403.5 275.0L404.1 275.2L404.6 275.5L405.2 275.7L405.7 276.0L406.3 276.3L406.8 276.6L407.4 276.9L408.0 277.2L408.5 277.4L409.1 277.7L409.6 278.1L410.2 278.4L410.7 278.7L411.3 279.0L411.8 279.3L412.4 279.6L413.0 279.9L413.5 280.3L414.1 280.6L414.6 280.9L415.2 281.2L415.7 281.6L416.3 281.9L416.8 282.2L417.4 282.6L418.0 282.9L418.5 283.2L419.1 283.5L419.6 283.9L420.2 284.2L420.7 284.5L421.3 284.8L421.8 285.2L422.4 285.5L422.9 285.8" fill="none" stroke="#8497B0" stroke-width="2.2" stroke-dasharray="5.4 8.3" stroke-linecap="round" stroke-linejoin="round"/>
<path d="M272.9 185.4L273.5 188.1L274.0 190.8L274.6 193.4L275.1 195.9L275.7 198.4L276.2 200.8L276.8 203.1L277.3 205.4L277.9 207.7L278.5 209.9L279.0 212.0L279.6 214.1L280.1 216.2L280.7 218.2L281.2 220.1L281.8 222.0L282.3 223.9L282.9 225.7L283.5 227.5L284.0 229.2L284.6 230.9L285.1 232.5L285.7 234.2L286.2 235.7L286.8 237.3L287.3 238.8L287.9 240.2L288.5 241.6L289.0 243.0L289.6 244.4L290.1 245.7L290.7 247.0L291.2 248.3L291.8 249.5L292.4 250.7L292.9 251.9L293.5 253.0L294.0 254.1L294.6 255.2L295.1 256.3L295.7 257.3L296.2 258.3L296.8 259.3L297.4 260.3L297.9 261.2L298.5 262.1L299.0 263.0L299.6 263.9L300.1 264.7L300.7 265.5L301.2 266.3L301.8 267.1L302.4 267.8L302.9 268.6L303.5 269.3L304.0 270.0L304.6 270.7L305.1 271.3L305.7 272.0L306.2 272.6L306.8 273.2L307.4 273.8L307.9 274.3L308.5 274.9L309.0 275.4L309.6 276.0L310.1 276.5L310.7 276.9L311.2 277.4L311.8 277.9L312.4 278.3L312.9 278.8L313.5 279.2L314.0 279.6L314.6 280.0L315.1 280.4L315.7 280.7L316.2 281.1L316.8 281.4L317.4 281.7L317.9 282.0L318.5 282.3L319.0 282.6L319.6 282.9L320.1 283.2L320.7 283.4L321.3 283.7L321.8 283.9L322.4 284.1L322.9 284.4L323.5 284.6L324.0 284.8L324.6 284.9L325.1 285.1L325.7 285.3L326.3 285.4L326.8 285.6L327.4 285.7L327.9 285.8L328.5 285.9L329.0 286.0L329.6 286.1L330.1 286.2L330.7 286.3L331.3 286.4L331.8 286.4L332.4 286.5L332.9 286.5L333.5 286.6L334.0 286.6L334.6 286.6L335.1 286.7L335.7 286.7L336.3 286.7L336.8 286.7L337.4 286.6L337.9 286.6L338.5 286.6L339.0 286.6L339.6 286.5L340.1 286.5L340.7 286.4L341.3 286.3L341.8 286.3L342.4 286.2L342.9 286.1L343.5 286.0L344.0 285.9L344.6 285.8L345.1 285.7L345.7 285.6L346.3 285.5L346.8 285.4L347.4 285.2L347.9 285.1L348.5 285.0L349.0 284.8L349.6 284.7L350.2 284.5L350.7 284.4L351.3 284.2L351.8 284.0L352.4 283.9L352.9 283.7L353.5 283.5L354.0 283.3L354.6 283.1L355.2 282.9L355.7 282.8L356.3 282.6L356.8 282.4L357.4 282.2L357.9 282.0L358.5 281.8L359.0 281.6L359.6 281.4L360.2 281.1L360.7 280.9L361.3 280.7L361.8 280.5L362.4 280.3L362.9 280.1L363.5 279.9L364.0 279.7L364.6 279.5L365.2 279.3L365.7 279.1L366.3 278.9L366.8 278.7L367.4 278.5L367.9 278.3L368.5 278.1L369.0 278.0L369.6 277.8L370.2 277.6L370.7 277.4L371.3 277.3L371.8 277.1L372.4 277.0L372.9 276.8L373.5 276.7L374.0 276.5L374.6 276.4L375.2 276.3L375.7 276.2L376.3 276.1L376.8 276.0L377.4 275.9L377.9 275.8L378.5 275.8L379.1 275.7L379.6 275.6L380.2 275.6L380.7 275.6L381.3 275.5L381.8 275.5L382.4 275.5L382.9 275.5L383.5 275.5L384.1 275.6L384.6 275.6L385.2 275.6L385.7 275.7L386.3 275.7L386.8 275.8L387.4 275.9L387.9 275.9L388.5 276.0L389.1 276.1L389.6 276.2L390.2 276.3L390.7 276.4L391.3 276.6L391.8 276.7L392.4 276.8L392.9 277.0L393.5 277.1L394.1 277.3L394.6 277.4L395.2 277.6L395.7 277.8L396.3 278.0L396.8 278.2L397.4 278.3L397.9 278.5L398.5 278.7L399.1 279.0L399.6 279.2L400.2 279.4L400.7 279.6L401.3 279.8L401.8 280.1L402.4 280.3L402.9 280.5L403.5 280.8L404.1 281.0L404.6 281.2L405.2 281.5L405.7 281.7L406.3 282.0L406.8 282.2L407.4 282.5L408.0 282.8L408.5 283.0L409.1 283.3L409.6 283.5L410.2 283.8L410.7 284.1L411.3 284.3L411.8 284.6L412.4 284.8L413.0 285.1L413.5 285.4L414.1 285.6L414.6 285.9L415.2 286.2L415.7 286.4L416.3 286.7L416.8 286.9L417.4 287.2L418.0 287.5L418.5 287.7L419.1 288.0L419.6 288.2L420.2 288.5L420.7 288.7L421.3 289.0L421.8 289.2L422.4 289.5L422.9 289.7" fill="none" stroke="#00FFFF" stroke-width="2.2" stroke-dasharray="5.4 8.3" stroke-linecap="round" stroke-linejoin="round"/>
</g>
<line x1="272.90" y1="199.00" x2="272.90" y2="307.50" stroke="#BFBFBF" stroke-width="1"/>
<line x1="272.90" y1="307.50" x2="422.90" y2="307.50" stroke="#BFBFBF" stroke-width="1"/>
<text x="264.30" y="312.30" font-size="9.5" fill="#595959" text-anchor="end">0</text>
<text x="264.30" y="288.19" font-size="9.5" fill="#595959" text-anchor="end">20</text>
<text x="264.30" y="264.08" font-size="9.5" fill="#595959" text-anchor="end">40</text>
<text x="264.30" y="239.97" font-size="9.5" fill="#595959" text-anchor="end">60</text>
<text x="264.30" y="215.86" font-size="9.5" fill="#595959" text-anchor="end">80</text>
<text x="272.90" y="322.00" font-size="9.5" fill="#595959" text-anchor="middle">1E+08</text>
<text x="328.48" y="322.00" font-size="9.5" fill="#595959" text-anchor="middle">1E+09</text>
<text x="384.05" y="322.00" font-size="9.5" fill="#595959" text-anchor="middle">1E+10</text>
<text x="347.90" y="335.40" font-size="9.5" fill="#595959" text-anchor="middle">Log [Freq(Hz)]</text>
<text transform="translate(242.20 253.25) rotate(-90)" x="0" y="3.3" font-size="9.5" fill="#595959" text-anchor="middle">Complex permittivity</text>
<line x1="405.10" y1="197.10" x2="431.10" y2="197.10" stroke="#70AD47" stroke-width="2.2" stroke-linecap="round"/>
<text x="434.40" y="199.50" font-size="6.8" fill="#595959">C0</text>
<line x1="405.10" y1="208.10" x2="431.10" y2="208.10" stroke="#5B9BD5" stroke-width="2.2" stroke-linecap="round"/>
<text x="434.40" y="210.50" font-size="6.8" fill="#595959">C1</text>
<line x1="405.10" y1="219.00" x2="431.10" y2="219.00" stroke="#8497B0" stroke-width="2.2" stroke-linecap="round"/>
<text x="434.40" y="221.40" font-size="6.8" fill="#595959">C2</text>
<line x1="405.10" y1="229.90" x2="431.10" y2="229.90" stroke="#00FFFF" stroke-width="2.2" stroke-linecap="round"/>
<text x="434.40" y="232.30" font-size="6.8" fill="#595959">C3</text>
<text x="332.00" y="367.70" font-size="12" font-weight="bold" font-style="italic" fill="#000" text-anchor="middle">(e)</text>
<line x1="506.6" y1="283.39" x2="660.6" y2="283.39" stroke="#D9D9D9" stroke-width="1"/>
<line x1="506.6" y1="259.28" x2="660.6" y2="259.28" stroke="#D9D9D9" stroke-width="1"/>
<line x1="506.6" y1="235.17" x2="660.6" y2="235.17" stroke="#D9D9D9" stroke-width="1"/>
<line x1="506.6" y1="211.06" x2="660.6" y2="211.06" stroke="#D9D9D9" stroke-width="1"/>
<clipPath id="clipf"><rect x="506.60" y="199.00" width="154.00" height="108.50"/></clipPath>
<g clip-path="url(#clipf)">
<path d="M506.6 224.9L507.3 221.7L508.0 221.5L508.7 221.8L509.3 222.6L510.0 219.7L510.7 219.4L511.4 220.2L512.1 219.9L512.8 220.5L513.4 221.0L514.1 219.5L514.8 218.6L515.5 219.8L516.2 217.6L516.9 218.8L517.6 218.6L518.2 218.8L518.9 216.5L519.6 216.9L520.3 216.5L521.0 216.9L521.7 217.8L522.3 217.1L523.0 216.7L523.7 217.2L524.4 215.8L525.1 216.6L525.8 216.8L526.5 215.8L527.1 216.6L527.8 215.5L528.5 216.0L529.2 215.8L529.9 216.0L530.6 215.8L531.2 216.0L531.9 216.1L532.6 215.3L533.3 215.8L534.0 215.3L534.7 215.7L535.4 215.1L536.0 215.1L536.7 215.2L537.4 215.1L538.1 215.2L538.8 215.1L539.5 215.4L540.2 215.2L540.8 215.0L541.5 215.3L542.2 214.9L542.9 215.0L543.6 215.1L544.3 215.1L544.9 215.1L545.6 215.1L546.3 214.9L546.5 215.1L547.7 215.2L548.8 215.1L550.0 214.9L551.1 214.9L552.2 215.0L553.4 215.0L554.5 215.0L555.7 215.0L556.8 215.0L558.0 215.0L559.1 215.0L560.2 215.0L561.4 215.1L562.5 215.1L563.7 215.1L564.8 215.1L565.9 215.2L567.1 215.2L568.2 215.3L569.4 215.3L570.5 215.4L571.6 215.4L572.8 215.4L573.9 215.5L575.1 215.6L576.2 215.7L577.4 215.7L578.5 215.8L579.6 216.0L580.8 216.1L581.9 216.2L583.1 216.3L584.2 216.5L585.3 216.7L586.5 216.8L587.6 217.0L588.8 217.2L589.9 217.5L591.0 217.7L592.2 218.0L593.3 218.3L594.5 218.7L595.6 219.0L596.8 219.4L597.9 219.8L599.0 220.3L600.2 220.8L601.3 221.3L602.5 221.9L603.6 222.5L604.7 223.2L605.9 223.9L607.0 224.6L608.2 225.5L609.3 226.3L610.4 227.3L611.6 228.3L612.7 229.3L613.9 230.4L615.0 231.6L616.2 232.8L617.3 234.1L618.4 235.4L619.6 236.8L620.7 238.3L621.9 239.8L623.0 241.3L624.1 242.9L625.3 244.6L626.4 246.2L627.6 247.9L628.7 249.6L629.8 251.3L631.0 253.0L632.1 254.8L633.3 256.5L634.4 258.2L635.6 259.9L636.7 261.5L637.8 263.2L639.0 264.8L640.1 266.3L641.3 267.8L642.4 269.3L643.5 270.7L644.7 272.0L645.8 273.4L647.0 274.6L648.1 275.8L649.2 276.9L650.4 278.0L651.5 279.1L652.7 280.1L653.8 281.0L655.0 281.9L656.1 282.7L657.2 283.5L658.4 284.2L659.5 284.9L660.6 285.5" fill="none" stroke="#843C0C" stroke-width="2.2" stroke-linejoin="round"/>
<path d="M506.6 223.2L507.3 226.9L508.0 226.9L508.7 221.9L509.3 225.2L510.0 225.0L510.7 222.4L511.4 223.3L512.1 221.0L512.8 223.0L513.4 220.3L514.1 222.1L514.8 221.0L515.5 219.8L516.2 220.3L516.9 219.5L517.6 219.9L518.2 221.3L518.9 219.2L519.6 219.7L520.3 220.1L521.0 220.2L521.7 218.8L522.3 219.2L523.0 218.4L523.7 218.6L524.4 218.2L525.1 218.8L525.8 218.5L526.5 218.5L527.1 218.9L527.8 218.0L528.5 218.6L529.2 218.0L529.9 217.8L530.6 218.1L531.2 218.5L531.9 217.8L532.6 217.9L533.3 218.3L534.0 218.3L534.7 217.9L535.4 218.2L536.0 217.6L536.7 217.8L537.4 217.8L538.1 217.8L538.8 217.6L539.5 217.5L540.2 217.8L540.8 217.7L541.5 217.6L542.2 217.7L542.9 217.6L543.6 217.6L544.3 217.6L544.9 217.5L545.6 217.5L546.3 217.7L546.5 217.4L547.7 217.6L548.8 217.5L550.0 217.6L551.1 217.4L552.2 217.4L553.4 217.5L554.5 217.6L555.7 217.6L556.8 217.5L558.0 217.6L559.1 217.6L560.2 217.7L561.4 217.7L562.5 217.7L563.7 217.8L564.8 217.8L565.9 217.8L567.1 217.9L568.2 218.0L569.4 218.1L570.5 218.1L571.6 218.2L572.8 218.3L573.9 218.4L575.1 218.5L576.2 218.6L577.4 218.8L578.5 218.9L579.6 219.1L580.8 219.3L581.9 219.4L583.1 219.7L584.2 219.9L585.3 220.1L586.5 220.4L587.6 220.7L588.8 221.0L589.9 221.4L591.0 221.7L592.2 222.1L593.3 222.6L594.5 223.0L595.6 223.5L596.8 224.1L597.9 224.7L599.0 225.3L600.2 225.9L601.3 226.6L602.5 227.4L603.6 228.2L604.7 229.0L605.9 229.9L607.0 230.9L608.2 231.9L609.3 232.9L610.4 234.0L611.6 235.2L612.7 236.4L613.9 237.6L615.0 238.8L616.2 240.2L617.3 241.5L618.4 242.9L619.6 244.3L620.7 245.7L621.9 247.2L623.0 248.6L624.1 250.1L625.3 251.6L626.4 253.1L627.6 254.6L628.7 256.1L629.8 257.6L631.0 259.0L632.1 260.5L633.3 261.9L634.4 263.4L635.6 264.8L636.7 266.1L637.8 267.5L639.0 268.8L640.1 270.1L641.3 271.3L642.4 272.6L643.5 273.8L644.7 274.9L645.8 276.1L647.0 277.2L648.1 278.2L649.2 279.3L650.4 280.3L651.5 281.2L652.7 282.2L653.8 283.1L655.0 284.0L656.1 284.8L657.2 285.7L658.4 286.5L659.5 287.2L660.6 288.0" fill="none" stroke="#F4884A" stroke-width="2.2" stroke-linejoin="round"/>
<path d="M506.6 224.0L507.3 223.6L508.0 223.7L508.7 227.2L509.3 224.6L510.0 225.1L510.7 224.4L511.4 225.6L512.1 225.1L512.8 224.0L513.4 224.5L514.1 223.6L514.8 224.7L515.5 224.3L516.2 222.4L516.9 223.0L517.6 222.6L518.2 222.0L518.9 222.7L519.6 223.3L520.3 221.6L521.0 222.0L521.7 221.7L522.3 221.7L523.0 221.1L523.7 222.0L524.4 221.4L525.1 221.9L525.8 221.5L526.5 221.4L527.1 221.8L527.8 222.0L528.5 221.5L529.2 221.2L529.9 221.3L530.6 221.4L531.2 221.2L531.9 221.6L532.6 221.6L533.3 221.4L534.0 221.0L534.7 221.5L535.4 221.5L536.0 221.5L536.7 221.5L537.4 221.4L538.1 221.2L538.8 221.0L539.5 221.3L540.2 221.3L540.8 221.3L541.5 221.3L542.2 221.1L542.9 221.3L543.6 221.4L544.3 221.5L544.9 221.2L545.6 221.3L546.3 221.3L546.5 221.5L547.7 221.4L548.8 221.4L550.0 221.5L551.1 221.5L552.2 221.7L553.4 221.6L554.5 221.9L555.7 221.9L556.8 222.0L558.0 222.0L559.1 222.1L560.2 222.2L561.4 222.3L562.5 222.4L563.7 222.6L564.8 222.7L565.9 222.8L567.1 223.0L568.2 223.1L569.4 223.3L570.5 223.5L571.6 223.7L572.8 223.9L573.9 224.1L575.1 224.3L576.2 224.5L577.4 224.8L578.5 225.0L579.6 225.3L580.8 225.6L581.9 225.9L583.1 226.2L584.2 226.6L585.3 226.9L586.5 227.3L587.6 227.7L588.8 228.1L589.9 228.6L591.0 229.0L592.2 229.5L593.3 230.1L594.5 230.6L595.6 231.2L596.8 231.8L597.9 232.5L599.0 233.1L600.2 233.8L601.3 234.6L602.5 235.3L603.6 236.1L604.7 236.9L605.9 237.8L607.0 238.7L608.2 239.7L609.3 240.6L610.4 241.6L611.6 242.7L612.7 243.7L613.9 244.8L615.0 246.0L616.2 247.1L617.3 248.3L618.4 249.5L619.6 250.7L620.7 252.0L621.9 253.3L623.0 254.5L624.1 255.9L625.3 257.2L626.4 258.5L627.6 259.8L628.7 261.1L629.8 262.4L631.0 263.7L632.1 265.1L633.3 266.3L634.4 267.6L635.6 268.9L636.7 270.1L637.8 271.3L639.0 272.5L640.1 273.7L641.3 274.9L642.4 276.0L643.5 277.1L644.7 278.1L645.8 279.1L647.0 280.1L648.1 281.1L649.2 282.0L650.4 282.9L651.5 283.7L652.7 284.5L653.8 285.3L655.0 286.1L656.1 286.8L657.2 287.5L658.4 288.1L659.5 288.7L660.6 289.3" fill="none" stroke="#BF9000" stroke-width="2.2" stroke-linejoin="round"/>
<path d="M506.6 227.9L507.3 227.0L508.0 230.0L508.7 225.9L509.3 229.3L510.0 227.1L510.7 229.2L511.4 226.4L512.1 228.5L512.8 226.4L513.4 226.2L514.1 225.9L514.8 226.8L515.5 225.5L516.2 225.1L516.9 227.3L517.6 226.1L518.2 225.0L518.9 225.4L519.6 226.0L520.3 226.2L521.0 224.9L521.7 226.4L522.3 225.2L523.0 225.0L523.7 226.1L524.4 225.7L525.1 225.7L525.8 225.3L526.5 225.5L527.1 224.8L527.8 224.8L528.5 225.5L529.2 224.8L529.9 225.6L530.6 225.6L531.2 225.0L531.9 224.9L532.6 224.9L533.3 224.7L534.0 224.9L534.7 225.3L535.4 225.0L536.0 224.8L536.7 225.4L537.4 225.1L538.1 225.4L538.8 225.4L539.5 225.2L540.2 225.1L540.8 225.0L541.5 225.4L542.2 225.2L542.9 225.1L543.6 225.2L544.3 225.3L544.9 225.4L545.6 225.3L546.3 225.5L546.5 225.4L547.7 225.4L548.8 225.6L550.0 225.5L551.1 225.7L552.2 225.8L553.4 225.8L554.5 226.0L555.7 226.1L556.8 226.1L558.0 226.3L559.1 226.3L560.2 226.5L561.4 226.7L562.5 226.8L563.7 227.0L564.8 227.1L565.9 227.3L567.1 227.5L568.2 227.7L569.4 227.9L570.5 228.1L571.6 228.3L572.8 228.6L573.9 228.9L575.1 229.2L576.2 229.5L577.4 229.8L578.5 230.1L579.6 230.5L580.8 230.9L581.9 231.2L583.1 231.7L584.2 232.1L585.3 232.6L586.5 233.1L587.6 233.6L588.8 234.1L589.9 234.7L591.0 235.2L592.2 235.9L593.3 236.5L594.5 237.2L595.6 237.9L596.8 238.6L597.9 239.3L599.0 240.1L600.2 240.9L601.3 241.8L602.5 242.6L603.6 243.5L604.7 244.4L605.9 245.3L607.0 246.3L608.2 247.3L609.3 248.3L610.4 249.3L611.6 250.3L612.7 251.4L613.9 252.4L615.0 253.5L616.2 254.6L617.3 255.7L618.4 256.8L619.6 257.9L620.7 259.1L621.9 260.2L623.0 261.3L624.1 262.4L625.3 263.6L626.4 264.7L627.6 265.8L628.7 266.9L629.8 268.0L631.0 269.1L632.1 270.2L633.3 271.3L634.4 272.4L635.6 273.4L636.7 274.5L637.8 275.5L639.0 276.5L640.1 277.5L641.3 278.5L642.4 279.5L643.5 280.5L644.7 281.4L645.8 282.4L647.0 283.3L648.1 284.2L649.2 285.1L650.4 286.0L651.5 286.8L652.7 287.7L653.8 288.5L655.0 289.3L656.1 290.1L657.2 290.9L658.4 291.7L659.5 292.4L660.6 293.1" fill="none" stroke="#CC00CC" stroke-width="2.2" stroke-linejoin="round"/>
<path d="M531.7 178.7L532.3 181.6L532.8 184.4L533.4 187.1L534.0 189.7L534.6 192.3L535.1 194.9L535.7 197.3L536.3 199.8L536.8 202.1L537.4 204.4L538.0 206.7L538.6 208.9L539.1 211.0L539.7 213.1L540.3 215.2L540.8 217.1L541.4 219.1L542.0 221.0L542.5 222.9L543.1 224.7L543.7 226.4L544.3 228.2L544.8 229.9L545.4 231.5L546.0 233.1L546.5 234.7L547.1 236.2L547.7 237.7L548.3 239.1L548.8 240.6L549.4 241.9L550.0 243.3L550.5 244.6L551.1 245.9L551.7 247.1L552.2 248.4L552.8 249.5L553.4 250.7L554.0 251.8L554.5 252.9L555.1 254.0L555.7 255.0L556.2 256.1L556.8 257.0L557.4 258.0L558.0 258.9L558.5 259.9L559.1 260.7L559.7 261.6L560.2 262.4L560.8 263.3L561.4 264.1L561.9 264.8L562.5 265.6L563.1 266.3L563.7 267.0L564.2 267.7L564.8 268.4L565.4 269.0L565.9 269.7L566.5 270.3L567.1 270.9L567.7 271.4L568.2 272.0L568.8 272.5L569.4 273.0L569.9 273.5L570.5 274.0L571.1 274.5L571.6 274.9L572.2 275.4L572.8 275.8L573.4 276.2L573.9 276.6L574.5 277.0L575.1 277.3L575.6 277.7L576.2 278.0L576.8 278.3L577.4 278.6L577.9 278.9L578.5 279.2L579.1 279.4L579.6 279.7L580.2 279.9L580.8 280.2L581.3 280.4L581.9 280.6L582.5 280.8L583.1 280.9L583.6 281.1L584.2 281.2L584.8 281.4L585.3 281.5L585.9 281.6L586.5 281.7L587.1 281.8L587.6 281.9L588.2 282.0L588.8 282.0L589.3 282.1L589.9 282.1L590.5 282.2L591.0 282.2L591.6 282.2L592.2 282.2L592.8 282.2L593.3 282.2L593.9 282.1L594.5 282.1L595.0 282.0L595.6 282.0L596.2 281.9L596.8 281.8L597.3 281.7L597.9 281.6L598.5 281.5L599.0 281.4L599.6 281.3L600.2 281.2L600.7 281.0L601.3 280.9L601.9 280.7L602.5 280.6L603.0 280.4L603.6 280.2L604.2 280.1L604.7 279.9L605.3 279.7L605.9 279.5L606.5 279.2L607.0 279.0L607.6 278.8L608.2 278.6L608.7 278.3L609.3 278.1L609.9 277.8L610.4 277.6L611.0 277.3L611.6 277.1L612.2 276.8L612.7 276.5L613.3 276.2L613.9 276.0L614.4 275.7L615.0 275.4L615.6 275.1L616.2 274.8L616.7 274.5L617.3 274.2L617.9 273.9L618.4 273.6L619.0 273.3L619.6 273.1L620.1 272.8L620.7 272.5L621.3 272.2L621.9 271.9L622.4 271.6L623.0 271.3L623.6 271.0L624.1 270.7L624.7 270.5L625.3 270.2L625.9 269.9L626.4 269.7L627.0 269.4L627.6 269.2L628.1 268.9L628.7 268.7L629.3 268.5L629.8 268.2L630.4 268.0L631.0 267.8L631.6 267.6L632.1 267.5L632.7 267.3L633.3 267.1L633.8 267.0L634.4 266.9L635.0 266.7L635.6 266.6L636.1 266.5L636.7 266.4L637.3 266.4L637.8 266.3L638.4 266.3L639.0 266.2L639.5 266.2L640.1 266.2L640.7 266.2L641.3 266.3L641.8 266.3L642.4 266.4L643.0 266.5L643.5 266.6L644.1 266.7L644.7 266.9L645.3 267.1L645.8 267.3L646.4 267.5L647.0 267.7L647.5 268.0L648.1 268.3L648.7 268.5L649.2 268.9L649.8 269.2L650.4 269.5L651.0 269.9L651.5 270.3L652.1 270.7L652.7 271.1L653.2 271.5L653.8 271.9L654.4 272.3L655.0 272.8L655.5 273.2L656.1 273.7L656.7 274.2L657.2 274.6L657.8 275.1L658.4 275.6L658.9 276.1L659.5 276.6L660.1 277.1L660.6 277.5" fill="none" stroke="#843C0C" stroke-width="2.2" stroke-dasharray="5.4 8.3" stroke-linecap="round" stroke-linejoin="round"/>
<path d="M527.1 176.9L527.7 179.8L528.3 182.6L528.9 185.4L529.4 188.1L530.0 190.8L530.6 193.3L531.1 195.9L531.7 198.3L532.3 200.7L532.8 203.1L533.4 205.4L534.0 207.6L534.6 209.8L535.1 211.9L535.7 214.0L536.3 216.0L536.8 218.0L537.4 220.0L538.0 221.8L538.6 223.7L539.1 225.5L539.7 227.3L540.3 229.0L540.8 230.6L541.4 232.3L542.0 233.9L542.5 235.4L543.1 237.0L543.7 238.4L544.3 239.9L544.8 241.3L545.4 242.7L546.0 244.0L546.5 245.3L547.1 246.6L547.7 247.9L548.3 249.1L548.8 250.3L549.4 251.4L550.0 252.5L550.5 253.6L551.1 254.7L551.7 255.7L552.2 256.8L552.8 257.7L553.4 258.7L554.0 259.6L554.5 260.6L555.1 261.5L555.7 262.3L556.2 263.2L556.8 264.0L557.4 264.8L558.0 265.5L558.5 266.3L559.1 267.0L559.7 267.7L560.2 268.4L560.8 269.1L561.4 269.8L561.9 270.4L562.5 271.0L563.1 271.6L563.7 272.2L564.2 272.7L564.8 273.3L565.4 273.8L565.9 274.3L566.5 274.8L567.1 275.3L567.7 275.7L568.2 276.2L568.8 276.6L569.4 277.0L569.9 277.4L570.5 277.8L571.1 278.2L571.6 278.5L572.2 278.9L572.8 279.2L573.4 279.5L573.9 279.8L574.5 280.1L575.1 280.4L575.6 280.6L576.2 280.9L576.8 281.1L577.4 281.3L577.9 281.5L578.5 281.7L579.1 281.9L579.6 282.1L580.2 282.3L580.8 282.4L581.3 282.6L581.9 282.7L582.5 282.8L583.1 282.9L583.6 283.0L584.2 283.1L584.8 283.2L585.3 283.3L585.9 283.3L586.5 283.4L587.1 283.4L587.6 283.4L588.2 283.4L588.8 283.5L589.3 283.5L589.9 283.4L590.5 283.4L591.0 283.4L591.6 283.4L592.2 283.3L592.8 283.3L593.3 283.2L593.9 283.1L594.5 283.0L595.0 282.9L595.6 282.8L596.2 282.7L596.8 282.6L597.3 282.5L597.9 282.4L598.5 282.2L599.0 282.1L599.6 281.9L600.2 281.8L600.7 281.6L601.3 281.4L601.9 281.3L602.5 281.1L603.0 280.9L603.6 280.7L604.2 280.5L604.7 280.3L605.3 280.0L605.9 279.8L606.5 279.6L607.0 279.4L607.6 279.1L608.2 278.9L608.7 278.6L609.3 278.4L609.9 278.1L610.4 277.9L611.0 277.6L611.6 277.4L612.2 277.1L612.7 276.8L613.3 276.5L613.9 276.3L614.4 276.0L615.0 275.7L615.6 275.5L616.2 275.2L616.7 274.9L617.3 274.6L617.9 274.4L618.4 274.1L619.0 273.8L619.6 273.6L620.1 273.3L620.7 273.0L621.3 272.8L621.9 272.5L622.4 272.3L623.0 272.0L623.6 271.8L624.1 271.6L624.7 271.4L625.3 271.1L625.9 270.9L626.4 270.7L627.0 270.5L627.6 270.4L628.1 270.2L628.7 270.0L629.3 269.9L629.8 269.7L630.4 269.6L631.0 269.5L631.6 269.3L632.1 269.2L632.7 269.1L633.3 269.1L633.8 269.0L634.4 269.0L635.0 268.9L635.6 268.9L636.1 268.9L636.7 268.9L637.3 268.9L637.8 268.9L638.4 269.0L639.0 269.0L639.5 269.1L640.1 269.2L640.7 269.4L641.3 269.5L641.8 269.7L642.4 269.9L643.0 270.1L643.5 270.3L644.1 270.5L644.7 270.8L645.3 271.1L645.8 271.4L646.4 271.7L647.0 272.0L647.5 272.3L648.1 272.7L648.7 273.0L649.2 273.4L649.8 273.8L650.4 274.2L651.0 274.6L651.5 275.0L652.1 275.4L652.7 275.9L653.2 276.3L653.8 276.8L654.4 277.2L655.0 277.7L655.5 278.1L656.1 278.6L656.7 279.0L657.2 279.5L657.8 280.0L658.4 280.4L658.9 280.9L659.5 281.3L660.1 281.8L660.6 282.2" fill="none" stroke="#F4884A" stroke-width="2.2" stroke-dasharray="5.4 8.3" stroke-linecap="round" stroke-linejoin="round"/>
<path d="M521.4 176.4L522.0 179.3L522.6 182.2L523.1 185.0L523.7 187.7L524.3 190.3L524.9 192.9L525.4 195.4L526.0 197.9L526.6 200.3L527.1 202.6L527.7 204.9L528.3 207.1L528.9 209.3L529.4 211.5L530.0 213.5L530.6 215.6L531.1 217.5L531.7 219.5L532.3 221.4L532.8 223.2L533.4 225.0L534.0 226.8L534.6 228.5L535.1 230.2L535.7 231.8L536.3 233.4L536.8 235.0L537.4 236.5L538.0 237.9L538.6 239.4L539.1 240.8L539.7 242.2L540.3 243.5L540.8 244.8L541.4 246.1L542.0 247.3L542.5 248.5L543.1 249.7L543.7 250.9L544.3 252.0L544.8 253.1L545.4 254.1L546.0 255.2L546.5 256.2L547.1 257.2L547.7 258.1L548.3 259.0L548.8 260.0L549.4 260.8L550.0 261.7L550.5 262.5L551.1 263.3L551.7 264.1L552.2 264.9L552.8 265.6L553.4 266.4L554.0 267.1L554.5 267.7L555.1 268.4L555.7 269.0L556.2 269.7L556.8 270.3L557.4 270.8L558.0 271.4L558.5 272.0L559.1 272.5L559.7 273.0L560.2 273.5L560.8 274.0L561.4 274.4L561.9 274.9L562.5 275.3L563.1 275.7L563.7 276.1L564.2 276.5L564.8 276.9L565.4 277.2L565.9 277.6L566.5 277.9L567.1 278.2L567.7 278.5L568.2 278.8L568.8 279.1L569.4 279.3L569.9 279.6L570.5 279.8L571.1 280.0L571.6 280.2L572.2 280.4L572.8 280.6L573.4 280.8L573.9 280.9L574.5 281.1L575.1 281.2L575.6 281.4L576.2 281.5L576.8 281.6L577.4 281.7L577.9 281.7L578.5 281.8L579.1 281.9L579.6 281.9L580.2 282.0L580.8 282.0L581.3 282.0L581.9 282.0L582.5 282.0L583.1 282.0L583.6 282.0L584.2 282.0L584.8 282.0L585.3 281.9L585.9 281.9L586.5 281.8L587.1 281.7L587.6 281.7L588.2 281.6L588.8 281.5L589.3 281.4L589.9 281.3L590.5 281.2L591.0 281.0L591.6 280.9L592.2 280.8L592.8 280.6L593.3 280.5L593.9 280.3L594.5 280.2L595.0 280.0L595.6 279.8L596.2 279.7L596.8 279.5L597.3 279.3L597.9 279.1L598.5 278.9L599.0 278.7L599.6 278.5L600.2 278.3L600.7 278.1L601.3 277.9L601.9 277.7L602.5 277.5L603.0 277.3L603.6 277.0L604.2 276.8L604.7 276.6L605.3 276.4L605.9 276.2L606.5 276.0L607.0 275.7L607.6 275.5L608.2 275.3L608.7 275.1L609.3 274.9L609.9 274.7L610.4 274.5L611.0 274.3L611.6 274.1L612.2 273.9L612.7 273.7L613.3 273.6L613.9 273.4L614.4 273.2L615.0 273.1L615.6 272.9L616.2 272.8L616.7 272.7L617.3 272.5L617.9 272.4L618.4 272.3L619.0 272.2L619.6 272.2L620.1 272.1L620.7 272.0L621.3 272.0L621.9 271.9L622.4 271.9L623.0 271.9L623.6 271.9L624.1 271.9L624.7 271.9L625.3 271.9L625.9 271.9L626.4 272.0L627.0 272.0L627.6 272.1L628.1 272.2L628.7 272.3L629.3 272.4L629.8 272.5L630.4 272.7L631.0 272.8L631.6 273.0L632.1 273.1L632.7 273.3L633.3 273.5L633.8 273.7L634.4 273.9L635.0 274.1L635.6 274.3L636.1 274.6L636.7 274.8L637.3 275.1L637.8 275.3L638.4 275.6L639.0 275.9L639.5 276.1L640.1 276.4L640.7 276.7L641.3 277.0L641.8 277.3L642.4 277.6L643.0 278.0L643.5 278.3L644.1 278.6L644.7 278.9L645.3 279.3L645.8 279.6L646.4 279.9L647.0 280.3L647.5 280.6L648.1 280.9L648.7 281.3L649.2 281.6L649.8 282.0L650.4 282.3L651.0 282.7L651.5 283.0L652.1 283.4L652.7 283.7L653.2 284.0L653.8 284.4L654.4 284.7L655.0 285.1L655.5 285.4L656.1 285.7L656.7 286.1L657.2 286.4L657.8 286.7L658.4 287.1L658.9 287.4L659.5 287.7L660.1 288.0L660.6 288.3" fill="none" stroke="#BF9000" stroke-width="2.2" stroke-dasharray="5.4 8.3" stroke-linecap="round" stroke-linejoin="round"/>
<path d="M515.2 178.0L515.7 180.9L516.3 183.7L516.9 186.5L517.4 189.2L518.0 191.8L518.6 194.3L519.2 196.9L519.7 199.3L520.3 201.7L520.9 204.0L521.4 206.3L522.0 208.5L522.6 210.7L523.1 212.8L523.7 214.9L524.3 216.9L524.9 218.9L525.4 220.8L526.0 222.7L526.6 224.5L527.1 226.3L527.7 228.1L528.3 229.8L528.9 231.5L529.4 233.1L530.0 234.7L530.6 236.3L531.1 237.8L531.7 239.3L532.3 240.7L532.8 242.1L533.4 243.5L534.0 244.8L534.6 246.1L535.1 247.4L535.7 248.6L536.3 249.9L536.8 251.0L537.4 252.2L538.0 253.3L538.6 254.4L539.1 255.5L539.7 256.5L540.3 257.5L540.8 258.5L541.4 259.5L542.0 260.4L542.5 261.4L543.1 262.2L543.7 263.1L544.3 264.0L544.8 264.8L545.4 265.6L546.0 266.4L546.5 267.1L547.1 267.9L547.7 268.6L548.3 269.3L548.8 269.9L549.4 270.6L550.0 271.2L550.5 271.9L551.1 272.5L551.7 273.1L552.2 273.6L552.8 274.2L553.4 274.7L554.0 275.2L554.5 275.7L555.1 276.2L555.7 276.7L556.2 277.1L556.8 277.6L557.4 278.0L558.0 278.4L558.5 278.8L559.1 279.2L559.7 279.6L560.2 279.9L560.8 280.3L561.4 280.6L561.9 280.9L562.5 281.2L563.1 281.5L563.7 281.8L564.2 282.0L564.8 282.3L565.4 282.5L565.9 282.8L566.5 283.0L567.1 283.2L567.7 283.4L568.2 283.6L568.8 283.7L569.4 283.9L569.9 284.1L570.5 284.2L571.1 284.3L571.6 284.5L572.2 284.6L572.8 284.7L573.4 284.8L573.9 284.9L574.5 284.9L575.1 285.0L575.6 285.1L576.2 285.1L576.8 285.1L577.4 285.2L577.9 285.2L578.5 285.2L579.1 285.2L579.6 285.2L580.2 285.2L580.8 285.2L581.3 285.1L581.9 285.1L582.5 285.1L583.1 285.0L583.6 284.9L584.2 284.9L584.8 284.8L585.3 284.7L585.9 284.6L586.5 284.5L587.1 284.4L587.6 284.3L588.2 284.2L588.8 284.1L589.3 284.0L589.9 283.8L590.5 283.7L591.0 283.6L591.6 283.4L592.2 283.3L592.8 283.1L593.3 282.9L593.9 282.8L594.5 282.6L595.0 282.4L595.6 282.2L596.2 282.1L596.8 281.9L597.3 281.7L597.9 281.5L598.5 281.3L599.0 281.1L599.6 280.9L600.2 280.7L600.7 280.5L601.3 280.3L601.9 280.1L602.5 279.9L603.0 279.7L603.6 279.5L604.2 279.3L604.7 279.1L605.3 278.9L605.9 278.7L606.5 278.5L607.0 278.3L607.6 278.1L608.2 278.0L608.7 277.8L609.3 277.6L609.9 277.4L610.4 277.3L611.0 277.1L611.6 276.9L612.2 276.8L612.7 276.7L613.3 276.5L613.9 276.4L614.4 276.3L615.0 276.1L615.6 276.0L616.2 275.9L616.7 275.9L617.3 275.8L617.9 275.7L618.4 275.6L619.0 275.6L619.6 275.6L620.1 275.5L620.7 275.5L621.3 275.5L621.9 275.5L622.4 275.5L623.0 275.5L623.6 275.6L624.1 275.6L624.7 275.6L625.3 275.7L625.9 275.8L626.4 275.9L627.0 275.9L627.6 276.0L628.1 276.2L628.7 276.3L629.3 276.4L629.8 276.5L630.4 276.7L631.0 276.8L631.6 277.0L632.1 277.1L632.7 277.3L633.3 277.5L633.8 277.7L634.4 277.9L635.0 278.1L635.6 278.3L636.1 278.5L636.7 278.7L637.3 279.0L637.8 279.2L638.4 279.5L639.0 279.7L639.5 280.0L640.1 280.2L640.7 280.5L641.3 280.7L641.8 281.0L642.4 281.3L643.0 281.5L643.5 281.8L644.1 282.1L644.7 282.4L645.3 282.7L645.8 282.9L646.4 283.2L647.0 283.5L647.5 283.8L648.1 284.1L648.7 284.4L649.2 284.7L649.8 285.0L650.4 285.3L651.0 285.6L651.5 285.9L652.1 286.1L652.7 286.4L653.2 286.7L653.8 287.0L654.4 287.3L655.0 287.6L655.5 287.9L656.1 288.2L656.7 288.4L657.2 288.7L657.8 289.0L658.4 289.3L658.9 289.5L659.5 289.8L660.1 290.1L660.6 290.3" fill="none" stroke="#CC00CC" stroke-width="2.2" stroke-dasharray="5.4 8.3" stroke-linecap="round" stroke-linejoin="round"/>
</g>
<line x1="506.60" y1="199.00" x2="506.60" y2="307.50" stroke="#BFBFBF" stroke-width="1"/>
<line x1="506.60" y1="307.50" x2="660.60" y2="307.50" stroke="#BFBFBF" stroke-width="1"/>
<text x="497.30" y="312.30" font-size="9.5" fill="#595959" text-anchor="end">0</text>
<text x="497.30" y="288.19" font-size="9.5" fill="#595959" text-anchor="end">20</text>
<text x="497.30" y="264.08" font-size="9.5" fill="#595959" text-anchor="end">40</text>
<text x="497.30" y="239.97" font-size="9.5" fill="#595959" text-anchor="end">60</text>
<text x="497.30" y="215.86" font-size="9.5" fill="#595959" text-anchor="end">80</text>
<text x="506.60" y="322.00" font-size="9.5" fill="#595959" text-anchor="middle">1E+08</text>
<text x="563.66" y="322.00" font-size="9.5" fill="#595959" text-anchor="middle">1E+09</text>
<text x="620.72" y="322.00" font-size="9.5" fill="#595959" text-anchor="middle">1E+10</text>
<text x="583.60" y="335.40" font-size="9.5" fill="#595959" text-anchor="middle">Log [Freq(Hz)]</text>
<text transform="translate(475.30 253.25) rotate(-90)" x="0" y="3.3" font-size="9.5" fill="#595959" text-anchor="middle">Complex permittivity</text>
<line x1="644.00" y1="195.80" x2="669.80" y2="195.80" stroke="#843C0C" stroke-width="2.2" stroke-linecap="round"/>
<text x="673.10" y="198.20" font-size="6.8" fill="#595959">D0</text>
<line x1="644.00" y1="207.20" x2="669.80" y2="207.20" stroke="#F4884A" stroke-width="2.2" stroke-linecap="round"/>
<text x="673.10" y="209.60" font-size="6.8" fill="#595959">D1</text>
<line x1="644.00" y1="218.60" x2="669.80" y2="218.60" stroke="#BF9000" stroke-width="2.2" stroke-linecap="round"/>
<text x="673.10" y="221.00" font-size="6.8" fill="#595959">D2</text>
<line x1="644.00" y1="229.80" x2="669.80" y2="229.80" stroke="#CC00CC" stroke-width="2.2" stroke-linecap="round"/>
<text x="673.10" y="232.20" font-size="6.8" fill="#595959">D3</text>
<text x="577.20" y="367.70" font-size="12" font-weight="bold" font-style="italic" fill="#000" text-anchor="middle">(f)</text>
</svg></body></html>
